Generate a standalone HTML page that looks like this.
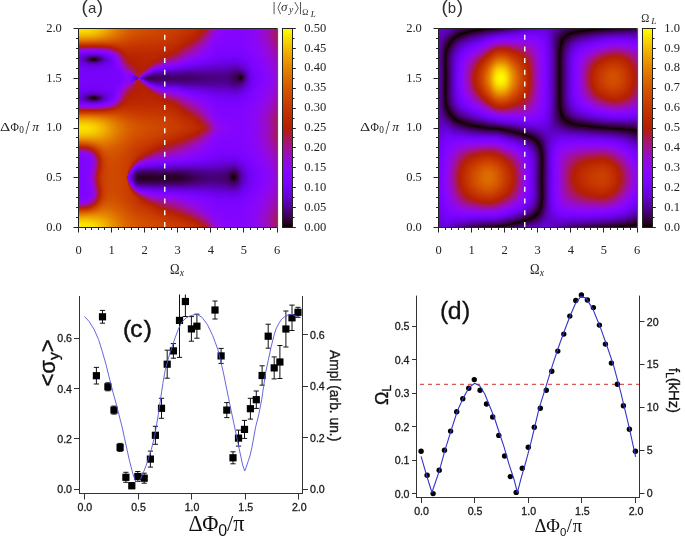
<!DOCTYPE html>
<html><head><meta charset="utf-8"><style>
html,body{margin:0;padding:0;background:#fff;}
body{width:685px;height:539px;position:relative;overflow:hidden;}
canvas{position:absolute;}
svg{position:absolute;left:0;top:0;}
</style></head><body>
<svg style="position:absolute;left:0;top:0" width="685" height="539" shape-rendering="crispEdges"><rect x="79" y="29" width="10" height="5" fill="#fcd800"/><rect x="89" y="29" width="5" height="5" fill="#f0cc00"/><rect x="94" y="29" width="5" height="5" fill="#f0c000"/><rect x="99" y="29" width="5" height="5" fill="#f0b400"/><rect x="104" y="29" width="5" height="5" fill="#f09c00"/><rect x="109" y="29" width="5" height="5" fill="#e49000"/><rect x="114" y="29" width="5" height="5" fill="#e47800"/><rect x="119" y="29" width="5" height="5" fill="#d86c00"/><rect x="124" y="29" width="5" height="5" fill="#d86000"/><rect x="129" y="29" width="10" height="5" fill="#d85400"/><rect x="139" y="29" width="5" height="5" fill="#cc5400"/><rect x="144" y="29" width="20" height="5" fill="#cc4800"/><rect x="164" y="29" width="15" height="5" fill="#cc3c00"/><rect x="179" y="29" width="5" height="5" fill="#c03c00"/><rect x="184" y="29" width="10" height="5" fill="#c03000"/><rect x="194" y="29" width="5" height="5" fill="#c02400"/><rect x="199" y="29" width="5" height="5" fill="#b4240c"/><rect x="204" y="29" width="5" height="5" fill="#a81848"/><rect x="209" y="29" width="5" height="5" fill="#9c0ca8"/><rect x="214" y="29" width="5" height="5" fill="#900ce4"/><rect x="219" y="29" width="5" height="5" fill="#900cf0"/><rect x="224" y="29" width="25" height="5" fill="#8400fc"/><rect x="249" y="29" width="5" height="5" fill="#840cfc"/><rect x="254" y="29" width="5" height="5" fill="#900cf0"/><rect x="259" y="29" width="5" height="5" fill="#900cd8"/><rect x="264" y="29" width="5" height="5" fill="#9c0cc0"/><rect x="269" y="29" width="5" height="5" fill="#9c0c9c"/><rect x="274" y="29" width="3" height="5" fill="#a8186c"/><rect x="79" y="34" width="15" height="5" fill="#f0a800"/><rect x="94" y="34" width="5" height="5" fill="#f09c00"/><rect x="99" y="34" width="5" height="5" fill="#e49000"/><rect x="104" y="34" width="5" height="5" fill="#e48400"/><rect x="109" y="34" width="5" height="5" fill="#e47800"/><rect x="114" y="34" width="5" height="5" fill="#d86c00"/><rect x="119" y="34" width="5" height="5" fill="#d86000"/><rect x="124" y="34" width="5" height="5" fill="#d85400"/><rect x="129" y="34" width="5" height="5" fill="#cc5400"/><rect x="134" y="34" width="20" height="5" fill="#cc4800"/><rect x="154" y="34" width="20" height="5" fill="#cc3c00"/><rect x="174" y="34" width="5" height="5" fill="#c03c00"/><rect x="179" y="34" width="10" height="5" fill="#c03000"/><rect x="189" y="34" width="5" height="5" fill="#c02400"/><rect x="194" y="34" width="5" height="5" fill="#b4240c"/><rect x="199" y="34" width="5" height="5" fill="#a81848"/><rect x="204" y="34" width="5" height="5" fill="#a80c90"/><rect x="209" y="34" width="5" height="5" fill="#900cd8"/><rect x="214" y="34" width="5" height="5" fill="#900cf0"/><rect x="219" y="34" width="30" height="5" fill="#8400fc"/><rect x="249" y="34" width="5" height="5" fill="#840cfc"/><rect x="254" y="34" width="5" height="5" fill="#900cf0"/><rect x="259" y="34" width="5" height="5" fill="#900cd8"/><rect x="264" y="34" width="5" height="5" fill="#9c0cc0"/><rect x="269" y="34" width="5" height="5" fill="#9c0c9c"/><rect x="274" y="34" width="3" height="5" fill="#a8186c"/><rect x="79" y="39" width="25" height="5" fill="#d86000"/><rect x="104" y="39" width="10" height="5" fill="#d85400"/><rect x="114" y="39" width="5" height="5" fill="#cc5400"/><rect x="119" y="39" width="10" height="5" fill="#cc4800"/><rect x="129" y="39" width="30" height="5" fill="#cc3c00"/><rect x="159" y="39" width="5" height="5" fill="#c03c00"/><rect x="164" y="39" width="15" height="5" fill="#c03000"/><rect x="179" y="39" width="5" height="5" fill="#c02400"/><rect x="184" y="39" width="5" height="5" fill="#b42400"/><rect x="189" y="39" width="5" height="5" fill="#b41818"/><rect x="194" y="39" width="5" height="5" fill="#a81848"/><rect x="199" y="39" width="5" height="5" fill="#a80c90"/><rect x="204" y="39" width="5" height="5" fill="#9c0cc0"/><rect x="209" y="39" width="5" height="5" fill="#900cf0"/><rect x="214" y="39" width="40" height="5" fill="#8400fc"/><rect x="254" y="39" width="5" height="5" fill="#900cf0"/><rect x="259" y="39" width="5" height="5" fill="#900ce4"/><rect x="264" y="39" width="5" height="5" fill="#9c0ccc"/><rect x="269" y="39" width="5" height="5" fill="#9c0ca8"/><rect x="274" y="39" width="3" height="5" fill="#a81884"/><rect x="79" y="44" width="25" height="5" fill="#b42430"/><rect x="104" y="44" width="5" height="5" fill="#b42418"/><rect x="109" y="44" width="5" height="5" fill="#c0240c"/><rect x="114" y="44" width="10" height="5" fill="#c03000"/><rect x="124" y="44" width="5" height="5" fill="#c03c00"/><rect x="129" y="44" width="45" height="5" fill="#c03000"/><rect x="174" y="44" width="5" height="5" fill="#c02400"/><rect x="179" y="44" width="5" height="5" fill="#b4240c"/><rect x="184" y="44" width="5" height="5" fill="#b41830"/><rect x="189" y="44" width="5" height="5" fill="#a81860"/><rect x="194" y="44" width="5" height="5" fill="#9c0c90"/><rect x="199" y="44" width="5" height="5" fill="#9c0cc0"/><rect x="204" y="44" width="5" height="5" fill="#900ce4"/><rect x="209" y="44" width="5" height="5" fill="#840cfc"/><rect x="214" y="44" width="40" height="5" fill="#8400fc"/><rect x="254" y="44" width="5" height="5" fill="#900cf0"/><rect x="259" y="44" width="5" height="5" fill="#900ce4"/><rect x="264" y="44" width="5" height="5" fill="#9c0ccc"/><rect x="269" y="44" width="5" height="5" fill="#9c0cb4"/><rect x="274" y="44" width="3" height="5" fill="#9c0c90"/><rect x="79" y="49" width="5" height="5" fill="#840cf0"/><rect x="84" y="49" width="15" height="5" fill="#8400f0"/><rect x="99" y="49" width="5" height="5" fill="#840cf0"/><rect x="104" y="49" width="5" height="5" fill="#900ce4"/><rect x="109" y="49" width="5" height="5" fill="#9c0cb4"/><rect x="114" y="49" width="5" height="5" fill="#a81860"/><rect x="119" y="49" width="5" height="5" fill="#b4240c"/><rect x="124" y="49" width="5" height="5" fill="#c02400"/><rect x="129" y="49" width="30" height="5" fill="#c03000"/><rect x="159" y="49" width="10" height="5" fill="#c02400"/><rect x="169" y="49" width="5" height="5" fill="#b42400"/><rect x="174" y="49" width="5" height="5" fill="#b4240c"/><rect x="179" y="49" width="5" height="5" fill="#a81848"/><rect x="184" y="49" width="5" height="5" fill="#a81884"/><rect x="189" y="49" width="5" height="5" fill="#9c0ca8"/><rect x="194" y="49" width="5" height="5" fill="#9c0ccc"/><rect x="199" y="49" width="5" height="5" fill="#900ce4"/><rect x="204" y="49" width="5" height="5" fill="#840cf0"/><rect x="209" y="49" width="10" height="5" fill="#8400fc"/><rect x="219" y="49" width="25" height="5" fill="#7800fc"/><rect x="244" y="49" width="10" height="5" fill="#8400fc"/><rect x="254" y="49" width="5" height="5" fill="#840cfc"/><rect x="259" y="49" width="5" height="5" fill="#900cf0"/><rect x="264" y="49" width="5" height="5" fill="#900cd8"/><rect x="269" y="49" width="5" height="5" fill="#9c0cc0"/><rect x="274" y="49" width="3" height="5" fill="#9c0ca8"/><rect x="79" y="54" width="5" height="5" fill="#6c00e4"/><rect x="84" y="54" width="5" height="5" fill="#6000c0"/><rect x="89" y="54" width="5" height="5" fill="#480084"/><rect x="94" y="54" width="5" height="5" fill="#480090"/><rect x="99" y="54" width="5" height="5" fill="#6000c0"/><rect x="104" y="54" width="5" height="5" fill="#6c00e4"/><rect x="109" y="54" width="5" height="5" fill="#7800fc"/><rect x="114" y="54" width="5" height="5" fill="#900ce4"/><rect x="119" y="54" width="5" height="5" fill="#a8186c"/><rect x="124" y="54" width="5" height="5" fill="#b4240c"/><rect x="129" y="54" width="15" height="5" fill="#b42400"/><rect x="144" y="54" width="10" height="5" fill="#c02400"/><rect x="154" y="54" width="10" height="5" fill="#b42400"/><rect x="164" y="54" width="5" height="5" fill="#b41818"/><rect x="169" y="54" width="5" height="5" fill="#a8183c"/><rect x="174" y="54" width="5" height="5" fill="#a8186c"/><rect x="179" y="54" width="5" height="5" fill="#9c0ca8"/><rect x="184" y="54" width="5" height="5" fill="#9c0ccc"/><rect x="189" y="54" width="5" height="5" fill="#900ce4"/><rect x="194" y="54" width="5" height="5" fill="#900cf0"/><rect x="199" y="54" width="10" height="5" fill="#8400fc"/><rect x="209" y="54" width="40" height="5" fill="#7800fc"/><rect x="249" y="54" width="10" height="5" fill="#8400fc"/><rect x="259" y="54" width="5" height="5" fill="#900cf0"/><rect x="264" y="54" width="5" height="5" fill="#900ce4"/><rect x="269" y="54" width="5" height="5" fill="#9c0ccc"/><rect x="274" y="54" width="3" height="5" fill="#9c0cc0"/><rect x="79" y="59" width="5" height="5" fill="#6000d8"/><rect x="84" y="59" width="5" height="5" fill="#5400a8"/><rect x="89" y="59" width="10" height="5" fill="#3c006c"/><rect x="99" y="59" width="5" height="5" fill="#5400a8"/><rect x="104" y="59" width="5" height="5" fill="#6c00d8"/><rect x="109" y="59" width="5" height="5" fill="#7800f0"/><rect x="114" y="59" width="5" height="5" fill="#8400fc"/><rect x="119" y="59" width="5" height="5" fill="#9c0cb4"/><rect x="124" y="59" width="5" height="5" fill="#a8183c"/><rect x="129" y="59" width="25" height="5" fill="#b42400"/><rect x="154" y="59" width="5" height="5" fill="#b41824"/><rect x="159" y="59" width="5" height="5" fill="#a81860"/><rect x="164" y="59" width="5" height="5" fill="#9c0c9c"/><rect x="169" y="59" width="5" height="5" fill="#9c0cb4"/><rect x="174" y="59" width="5" height="5" fill="#900ccc"/><rect x="179" y="59" width="5" height="5" fill="#900cf0"/><rect x="184" y="59" width="10" height="5" fill="#8400fc"/><rect x="194" y="59" width="15" height="5" fill="#7800fc"/><rect x="209" y="59" width="5" height="5" fill="#7800f0"/><rect x="214" y="59" width="15" height="5" fill="#6c00f0"/><rect x="229" y="59" width="10" height="5" fill="#6c00e4"/><rect x="239" y="59" width="5" height="5" fill="#6c00f0"/><rect x="244" y="59" width="10" height="5" fill="#7800fc"/><rect x="254" y="59" width="10" height="5" fill="#8400fc"/><rect x="264" y="59" width="5" height="5" fill="#900cf0"/><rect x="269" y="59" width="5" height="5" fill="#900cd8"/><rect x="274" y="59" width="3" height="5" fill="#9c0ccc"/><rect x="79" y="64" width="10" height="5" fill="#6c00f0"/><rect x="89" y="64" width="10" height="5" fill="#6c00e4"/><rect x="99" y="64" width="10" height="5" fill="#6c00f0"/><rect x="109" y="64" width="5" height="5" fill="#7800fc"/><rect x="114" y="64" width="5" height="5" fill="#8400fc"/><rect x="119" y="64" width="5" height="5" fill="#900ce4"/><rect x="124" y="64" width="5" height="5" fill="#a80c84"/><rect x="129" y="64" width="5" height="5" fill="#a8183c"/><rect x="134" y="64" width="5" height="5" fill="#b4240c"/><rect x="139" y="64" width="5" height="5" fill="#b42400"/><rect x="144" y="64" width="5" height="5" fill="#b4240c"/><rect x="149" y="64" width="5" height="5" fill="#a8186c"/><rect x="154" y="64" width="5" height="5" fill="#9c0cc0"/><rect x="159" y="64" width="5" height="5" fill="#900cf0"/><rect x="164" y="64" width="5" height="5" fill="#8400f0"/><rect x="169" y="64" width="5" height="5" fill="#8400fc"/><rect x="174" y="64" width="5" height="5" fill="#7800fc"/><rect x="179" y="64" width="5" height="5" fill="#7800f0"/><rect x="184" y="64" width="5" height="5" fill="#6c00f0"/><rect x="189" y="64" width="15" height="5" fill="#6c00e4"/><rect x="204" y="64" width="5" height="5" fill="#6c00d8"/><rect x="209" y="64" width="5" height="5" fill="#6000d8"/><rect x="214" y="64" width="15" height="5" fill="#6000cc"/><rect x="229" y="64" width="10" height="5" fill="#6000c0"/><rect x="239" y="64" width="5" height="5" fill="#6000cc"/><rect x="244" y="64" width="5" height="5" fill="#6c00e4"/><rect x="249" y="64" width="5" height="5" fill="#7800fc"/><rect x="254" y="64" width="10" height="5" fill="#8400fc"/><rect x="264" y="64" width="5" height="5" fill="#900cf0"/><rect x="269" y="64" width="5" height="5" fill="#900ce4"/><rect x="274" y="64" width="3" height="5" fill="#900cd8"/><rect x="79" y="69" width="40" height="5" fill="#7800fc"/><rect x="119" y="69" width="5" height="5" fill="#8400fc"/><rect x="124" y="69" width="5" height="5" fill="#900cd8"/><rect x="129" y="69" width="5" height="5" fill="#9c0c90"/><rect x="134" y="69" width="5" height="5" fill="#b41830"/><rect x="139" y="69" width="5" height="5" fill="#b41824"/><rect x="144" y="69" width="5" height="5" fill="#9c0ca8"/><rect x="149" y="69" width="5" height="5" fill="#7800e4"/><rect x="154" y="69" width="5" height="5" fill="#6c00d8"/><rect x="159" y="69" width="5" height="5" fill="#6000cc"/><rect x="164" y="69" width="15" height="5" fill="#6000c0"/><rect x="179" y="69" width="5" height="5" fill="#5400b4"/><rect x="184" y="69" width="40" height="5" fill="#5400a8"/><rect x="224" y="69" width="5" height="5" fill="#54009c"/><rect x="229" y="69" width="5" height="5" fill="#540090"/><rect x="234" y="69" width="5" height="5" fill="#480084"/><rect x="239" y="69" width="5" height="5" fill="#540090"/><rect x="244" y="69" width="5" height="5" fill="#6000cc"/><rect x="249" y="69" width="5" height="5" fill="#7800f0"/><rect x="254" y="69" width="5" height="5" fill="#7800fc"/><rect x="259" y="69" width="5" height="5" fill="#8400fc"/><rect x="264" y="69" width="5" height="5" fill="#840cfc"/><rect x="269" y="69" width="5" height="5" fill="#900cf0"/><rect x="274" y="69" width="3" height="5" fill="#900cd8"/><rect x="79" y="74" width="45" height="5" fill="#7800fc"/><rect x="124" y="74" width="10" height="5" fill="#8400fc"/><rect x="134" y="74" width="5" height="5" fill="#840c90"/><rect x="139" y="74" width="5" height="5" fill="#840cc0"/><rect x="144" y="74" width="5" height="5" fill="#5400a8"/><rect x="149" y="74" width="5" height="5" fill="#480078"/><rect x="154" y="74" width="20" height="5" fill="#48006c"/><rect x="174" y="74" width="5" height="5" fill="#480078"/><rect x="179" y="74" width="10" height="5" fill="#48006c"/><rect x="189" y="74" width="10" height="5" fill="#480078"/><rect x="199" y="74" width="30" height="5" fill="#480084"/><rect x="229" y="74" width="5" height="5" fill="#48006c"/><rect x="234" y="74" width="5" height="5" fill="#3c0048"/><rect x="239" y="74" width="5" height="5" fill="#300030"/><rect x="244" y="74" width="5" height="5" fill="#5400a8"/><rect x="249" y="74" width="5" height="5" fill="#6c00f0"/><rect x="254" y="74" width="5" height="5" fill="#7800fc"/><rect x="259" y="74" width="10" height="5" fill="#8400fc"/><rect x="269" y="74" width="5" height="5" fill="#900cf0"/><rect x="274" y="74" width="3" height="5" fill="#900ce4"/><rect x="79" y="79" width="40" height="5" fill="#7800fc"/><rect x="119" y="79" width="10" height="5" fill="#8400fc"/><rect x="129" y="79" width="5" height="5" fill="#840ce4"/><rect x="134" y="79" width="5" height="5" fill="#9c1854"/><rect x="139" y="79" width="5" height="5" fill="#9c0c9c"/><rect x="144" y="79" width="5" height="5" fill="#6c00cc"/><rect x="149" y="79" width="5" height="5" fill="#54009c"/><rect x="154" y="79" width="30" height="5" fill="#480084"/><rect x="184" y="79" width="5" height="5" fill="#480078"/><rect x="189" y="79" width="20" height="5" fill="#480084"/><rect x="209" y="79" width="15" height="5" fill="#480090"/><rect x="224" y="79" width="5" height="5" fill="#480084"/><rect x="229" y="79" width="5" height="5" fill="#480078"/><rect x="234" y="79" width="10" height="5" fill="#3c0060"/><rect x="244" y="79" width="5" height="5" fill="#6000b4"/><rect x="249" y="79" width="5" height="5" fill="#6c00f0"/><rect x="254" y="79" width="5" height="5" fill="#7800fc"/><rect x="259" y="79" width="10" height="5" fill="#8400fc"/><rect x="269" y="79" width="5" height="5" fill="#900cf0"/><rect x="274" y="79" width="3" height="5" fill="#900ce4"/><rect x="79" y="84" width="40" height="5" fill="#7800fc"/><rect x="119" y="84" width="5" height="5" fill="#840cf0"/><rect x="124" y="84" width="5" height="5" fill="#9c0cc0"/><rect x="129" y="84" width="5" height="5" fill="#a8186c"/><rect x="134" y="84" width="5" height="5" fill="#b41818"/><rect x="139" y="84" width="5" height="5" fill="#b4240c"/><rect x="144" y="84" width="5" height="5" fill="#a8186c"/><rect x="149" y="84" width="5" height="5" fill="#900cd8"/><rect x="154" y="84" width="5" height="5" fill="#7800f0"/><rect x="159" y="84" width="10" height="5" fill="#6c00e4"/><rect x="169" y="84" width="10" height="5" fill="#6c00d8"/><rect x="179" y="84" width="5" height="5" fill="#6000cc"/><rect x="184" y="84" width="15" height="5" fill="#6000c0"/><rect x="199" y="84" width="15" height="5" fill="#6000b4"/><rect x="214" y="84" width="10" height="5" fill="#5400b4"/><rect x="224" y="84" width="5" height="5" fill="#5400a8"/><rect x="229" y="84" width="10" height="5" fill="#54009c"/><rect x="239" y="84" width="5" height="5" fill="#5400b4"/><rect x="244" y="84" width="5" height="5" fill="#6c00d8"/><rect x="249" y="84" width="10" height="5" fill="#7800fc"/><rect x="259" y="84" width="5" height="5" fill="#8400fc"/><rect x="264" y="84" width="5" height="5" fill="#840cfc"/><rect x="269" y="84" width="5" height="5" fill="#900ce4"/><rect x="274" y="84" width="3" height="5" fill="#900cd8"/><rect x="79" y="89" width="5" height="5" fill="#6c00f0"/><rect x="84" y="89" width="20" height="5" fill="#6c00e4"/><rect x="104" y="89" width="5" height="5" fill="#6c00f0"/><rect x="109" y="89" width="5" height="5" fill="#7800fc"/><rect x="114" y="89" width="5" height="5" fill="#8400fc"/><rect x="119" y="89" width="5" height="5" fill="#900cd8"/><rect x="124" y="89" width="5" height="5" fill="#a8186c"/><rect x="129" y="89" width="5" height="5" fill="#b41824"/><rect x="134" y="89" width="15" height="5" fill="#b42400"/><rect x="149" y="89" width="5" height="5" fill="#a8183c"/><rect x="154" y="89" width="5" height="5" fill="#9c0c90"/><rect x="159" y="89" width="5" height="5" fill="#900ccc"/><rect x="164" y="89" width="5" height="5" fill="#900ce4"/><rect x="169" y="89" width="5" height="5" fill="#840cf0"/><rect x="174" y="89" width="5" height="5" fill="#8400fc"/><rect x="179" y="89" width="10" height="5" fill="#7800fc"/><rect x="189" y="89" width="5" height="5" fill="#7800f0"/><rect x="194" y="89" width="10" height="5" fill="#6c00f0"/><rect x="204" y="89" width="10" height="5" fill="#6c00e4"/><rect x="214" y="89" width="10" height="5" fill="#6c00d8"/><rect x="224" y="89" width="5" height="5" fill="#6000d8"/><rect x="229" y="89" width="10" height="5" fill="#6000cc"/><rect x="239" y="89" width="5" height="5" fill="#6c00d8"/><rect x="244" y="89" width="5" height="5" fill="#6c00f0"/><rect x="249" y="89" width="5" height="5" fill="#7800fc"/><rect x="254" y="89" width="10" height="5" fill="#8400fc"/><rect x="264" y="89" width="5" height="5" fill="#900cf0"/><rect x="269" y="89" width="5" height="5" fill="#900ce4"/><rect x="274" y="89" width="3" height="5" fill="#9c0ccc"/><rect x="79" y="94" width="5" height="5" fill="#6000d8"/><rect x="84" y="94" width="5" height="5" fill="#54009c"/><rect x="89" y="94" width="5" height="5" fill="#3c0054"/><rect x="94" y="94" width="5" height="5" fill="#3c0060"/><rect x="99" y="94" width="5" height="5" fill="#5400a8"/><rect x="104" y="94" width="5" height="5" fill="#6c00d8"/><rect x="109" y="94" width="5" height="5" fill="#7800f0"/><rect x="114" y="94" width="5" height="5" fill="#8400fc"/><rect x="119" y="94" width="5" height="5" fill="#9c0ca8"/><rect x="124" y="94" width="5" height="5" fill="#b41824"/><rect x="129" y="94" width="25" height="5" fill="#b42400"/><rect x="154" y="94" width="5" height="5" fill="#b4240c"/><rect x="159" y="94" width="5" height="5" fill="#a8183c"/><rect x="164" y="94" width="5" height="5" fill="#a8186c"/><rect x="169" y="94" width="5" height="5" fill="#9c0c90"/><rect x="174" y="94" width="5" height="5" fill="#9c0cb4"/><rect x="179" y="94" width="5" height="5" fill="#900cd8"/><rect x="184" y="94" width="5" height="5" fill="#900cf0"/><rect x="189" y="94" width="15" height="5" fill="#8400fc"/><rect x="204" y="94" width="10" height="5" fill="#7800fc"/><rect x="214" y="94" width="10" height="5" fill="#7800f0"/><rect x="224" y="94" width="15" height="5" fill="#6c00f0"/><rect x="239" y="94" width="5" height="5" fill="#7800f0"/><rect x="244" y="94" width="5" height="5" fill="#7800fc"/><rect x="249" y="94" width="10" height="5" fill="#8400fc"/><rect x="259" y="94" width="5" height="5" fill="#840cfc"/><rect x="264" y="94" width="5" height="5" fill="#900cf0"/><rect x="269" y="94" width="5" height="5" fill="#900cd8"/><rect x="274" y="94" width="3" height="5" fill="#9c0ccc"/><rect x="79" y="99" width="5" height="5" fill="#6c00e4"/><rect x="84" y="99" width="5" height="5" fill="#6000cc"/><rect x="89" y="99" width="5" height="5" fill="#54009c"/><rect x="94" y="99" width="5" height="5" fill="#5400a8"/><rect x="99" y="99" width="5" height="5" fill="#6000cc"/><rect x="104" y="99" width="5" height="5" fill="#7800f0"/><rect x="109" y="99" width="5" height="5" fill="#8400fc"/><rect x="114" y="99" width="5" height="5" fill="#900ccc"/><rect x="119" y="99" width="5" height="5" fill="#a81854"/><rect x="124" y="99" width="10" height="5" fill="#b42400"/><rect x="134" y="99" width="25" height="5" fill="#c02400"/><rect x="159" y="99" width="5" height="5" fill="#b42400"/><rect x="164" y="99" width="5" height="5" fill="#b4240c"/><rect x="169" y="99" width="5" height="5" fill="#b41824"/><rect x="174" y="99" width="5" height="5" fill="#a81848"/><rect x="179" y="99" width="5" height="5" fill="#a80c84"/><rect x="184" y="99" width="5" height="5" fill="#9c0cb4"/><rect x="189" y="99" width="5" height="5" fill="#900cd8"/><rect x="194" y="99" width="5" height="5" fill="#900ce4"/><rect x="199" y="99" width="5" height="5" fill="#840cf0"/><rect x="204" y="99" width="10" height="5" fill="#8400fc"/><rect x="214" y="99" width="30" height="5" fill="#7800fc"/><rect x="244" y="99" width="15" height="5" fill="#8400fc"/><rect x="259" y="99" width="5" height="5" fill="#900cf0"/><rect x="264" y="99" width="5" height="5" fill="#900ce4"/><rect x="269" y="99" width="5" height="5" fill="#9c0ccc"/><rect x="274" y="99" width="3" height="5" fill="#9c0cb4"/><rect x="79" y="104" width="20" height="5" fill="#900cd8"/><rect x="99" y="104" width="5" height="5" fill="#900ccc"/><rect x="104" y="104" width="5" height="5" fill="#9c0cb4"/><rect x="109" y="104" width="5" height="5" fill="#a81884"/><rect x="114" y="104" width="5" height="5" fill="#b41830"/><rect x="119" y="104" width="5" height="5" fill="#b42400"/><rect x="124" y="104" width="40" height="5" fill="#c03000"/><rect x="164" y="104" width="5" height="5" fill="#c02400"/><rect x="169" y="104" width="10" height="5" fill="#b42400"/><rect x="179" y="104" width="5" height="5" fill="#b41830"/><rect x="184" y="104" width="5" height="5" fill="#a8186c"/><rect x="189" y="104" width="5" height="5" fill="#9c0c9c"/><rect x="194" y="104" width="5" height="5" fill="#9c0cc0"/><rect x="199" y="104" width="5" height="5" fill="#900cd8"/><rect x="204" y="104" width="5" height="5" fill="#900cf0"/><rect x="209" y="104" width="15" height="5" fill="#8400fc"/><rect x="224" y="104" width="15" height="5" fill="#7800fc"/><rect x="239" y="104" width="15" height="5" fill="#8400fc"/><rect x="254" y="104" width="5" height="5" fill="#840cfc"/><rect x="259" y="104" width="5" height="5" fill="#900cf0"/><rect x="264" y="104" width="5" height="5" fill="#900cd8"/><rect x="269" y="104" width="5" height="5" fill="#9c0cc0"/><rect x="274" y="104" width="3" height="5" fill="#9c0ca8"/><rect x="79" y="109" width="25" height="5" fill="#c0300c"/><rect x="104" y="109" width="10" height="5" fill="#c03000"/><rect x="114" y="109" width="20" height="5" fill="#cc3c00"/><rect x="134" y="109" width="5" height="5" fill="#c03c00"/><rect x="139" y="109" width="35" height="5" fill="#c03000"/><rect x="174" y="109" width="5" height="5" fill="#c02400"/><rect x="179" y="109" width="5" height="5" fill="#b42400"/><rect x="184" y="109" width="5" height="5" fill="#b41818"/><rect x="189" y="109" width="5" height="5" fill="#a81848"/><rect x="194" y="109" width="5" height="5" fill="#a81884"/><rect x="199" y="109" width="5" height="5" fill="#9c0cb4"/><rect x="204" y="109" width="5" height="5" fill="#900cd8"/><rect x="209" y="109" width="5" height="5" fill="#840cf0"/><rect x="214" y="109" width="40" height="5" fill="#8400fc"/><rect x="254" y="109" width="5" height="5" fill="#900cf0"/><rect x="259" y="109" width="5" height="5" fill="#900ce4"/><rect x="264" y="109" width="5" height="5" fill="#9c0ccc"/><rect x="269" y="109" width="5" height="5" fill="#9c0cb4"/><rect x="274" y="109" width="3" height="5" fill="#a80c90"/><rect x="79" y="114" width="15" height="5" fill="#e47800"/><rect x="94" y="114" width="5" height="5" fill="#e46c00"/><rect x="99" y="114" width="5" height="5" fill="#d86c00"/><rect x="104" y="114" width="10" height="5" fill="#d86000"/><rect x="114" y="114" width="10" height="5" fill="#d85400"/><rect x="124" y="114" width="15" height="5" fill="#cc4800"/><rect x="139" y="114" width="25" height="5" fill="#cc3c00"/><rect x="164" y="114" width="5" height="5" fill="#c03c00"/><rect x="169" y="114" width="15" height="5" fill="#c03000"/><rect x="184" y="114" width="5" height="5" fill="#b42400"/><rect x="189" y="114" width="5" height="5" fill="#b4240c"/><rect x="194" y="114" width="5" height="5" fill="#b41830"/><rect x="199" y="114" width="5" height="5" fill="#a81878"/><rect x="204" y="114" width="5" height="5" fill="#9c0cb4"/><rect x="209" y="114" width="5" height="5" fill="#900ce4"/><rect x="214" y="114" width="40" height="5" fill="#8400fc"/><rect x="254" y="114" width="5" height="5" fill="#900cf0"/><rect x="259" y="114" width="5" height="5" fill="#900ce4"/><rect x="264" y="114" width="5" height="5" fill="#9c0cc0"/><rect x="269" y="114" width="5" height="5" fill="#9c0c9c"/><rect x="274" y="114" width="3" height="5" fill="#a81878"/><rect x="79" y="119" width="15" height="5" fill="#f0b400"/><rect x="94" y="119" width="5" height="5" fill="#f0a800"/><rect x="99" y="119" width="5" height="5" fill="#f09c00"/><rect x="104" y="119" width="5" height="5" fill="#e49000"/><rect x="109" y="119" width="5" height="5" fill="#e47800"/><rect x="114" y="119" width="5" height="5" fill="#d86c00"/><rect x="119" y="119" width="5" height="5" fill="#d86000"/><rect x="124" y="119" width="10" height="5" fill="#d85400"/><rect x="134" y="119" width="25" height="5" fill="#cc4800"/><rect x="159" y="119" width="15" height="5" fill="#cc3c00"/><rect x="174" y="119" width="5" height="5" fill="#c03c00"/><rect x="179" y="119" width="10" height="5" fill="#c03000"/><rect x="189" y="119" width="5" height="5" fill="#c02400"/><rect x="194" y="119" width="5" height="5" fill="#b42400"/><rect x="199" y="119" width="5" height="5" fill="#b41830"/><rect x="204" y="119" width="5" height="5" fill="#a81878"/><rect x="209" y="119" width="5" height="5" fill="#9c0ccc"/><rect x="214" y="119" width="5" height="5" fill="#900cf0"/><rect x="219" y="119" width="30" height="5" fill="#8400fc"/><rect x="249" y="119" width="5" height="5" fill="#840cfc"/><rect x="254" y="119" width="5" height="5" fill="#900cf0"/><rect x="259" y="119" width="5" height="5" fill="#900cd8"/><rect x="264" y="119" width="5" height="5" fill="#9c0cc0"/><rect x="269" y="119" width="5" height="5" fill="#9c0c9c"/><rect x="274" y="119" width="3" height="5" fill="#a8186c"/><rect x="79" y="124" width="10" height="5" fill="#fcd800"/><rect x="89" y="124" width="5" height="5" fill="#fccc00"/><rect x="94" y="124" width="5" height="5" fill="#f0c000"/><rect x="99" y="124" width="5" height="5" fill="#f0b400"/><rect x="104" y="124" width="5" height="5" fill="#f09c00"/><rect x="109" y="124" width="5" height="5" fill="#e49000"/><rect x="114" y="124" width="5" height="5" fill="#e47800"/><rect x="119" y="124" width="5" height="5" fill="#d86c00"/><rect x="124" y="124" width="5" height="5" fill="#d86000"/><rect x="129" y="124" width="10" height="5" fill="#d85400"/><rect x="139" y="124" width="5" height="5" fill="#cc5400"/><rect x="144" y="124" width="20" height="5" fill="#cc4800"/><rect x="164" y="124" width="15" height="5" fill="#cc3c00"/><rect x="179" y="124" width="5" height="5" fill="#c03c00"/><rect x="184" y="124" width="10" height="5" fill="#c03000"/><rect x="194" y="124" width="5" height="5" fill="#c02400"/><rect x="199" y="124" width="5" height="5" fill="#b42400"/><rect x="204" y="124" width="5" height="5" fill="#a81848"/><rect x="209" y="124" width="5" height="5" fill="#9c0c9c"/><rect x="214" y="124" width="5" height="5" fill="#900ce4"/><rect x="219" y="124" width="5" height="5" fill="#900cf0"/><rect x="224" y="124" width="25" height="5" fill="#8400fc"/><rect x="249" y="124" width="5" height="5" fill="#840cfc"/><rect x="254" y="124" width="5" height="5" fill="#900cf0"/><rect x="259" y="124" width="5" height="5" fill="#900ce4"/><rect x="264" y="124" width="5" height="5" fill="#9c0cc0"/><rect x="269" y="124" width="5" height="5" fill="#9c0c9c"/><rect x="274" y="124" width="3" height="5" fill="#a81878"/><rect x="79" y="129" width="10" height="5" fill="#fcd800"/><rect x="89" y="129" width="5" height="5" fill="#fccc00"/><rect x="94" y="129" width="5" height="5" fill="#f0c000"/><rect x="99" y="129" width="5" height="5" fill="#f0b400"/><rect x="104" y="129" width="5" height="5" fill="#f0a800"/><rect x="109" y="129" width="5" height="5" fill="#e49000"/><rect x="114" y="129" width="5" height="5" fill="#e47800"/><rect x="119" y="129" width="5" height="5" fill="#d86c00"/><rect x="124" y="129" width="10" height="5" fill="#d86000"/><rect x="134" y="129" width="5" height="5" fill="#d85400"/><rect x="139" y="129" width="5" height="5" fill="#cc5400"/><rect x="144" y="129" width="15" height="5" fill="#cc4800"/><rect x="159" y="129" width="15" height="5" fill="#cc3c00"/><rect x="174" y="129" width="5" height="5" fill="#c03c00"/><rect x="179" y="129" width="10" height="5" fill="#c03000"/><rect x="189" y="129" width="5" height="5" fill="#c02400"/><rect x="194" y="129" width="5" height="5" fill="#b42400"/><rect x="199" y="129" width="5" height="5" fill="#b41824"/><rect x="204" y="129" width="5" height="5" fill="#a81860"/><rect x="209" y="129" width="5" height="5" fill="#9c0cb4"/><rect x="214" y="129" width="5" height="5" fill="#900ce4"/><rect x="219" y="129" width="5" height="5" fill="#900cf0"/><rect x="224" y="129" width="25" height="5" fill="#8400fc"/><rect x="249" y="129" width="5" height="5" fill="#840cfc"/><rect x="254" y="129" width="5" height="5" fill="#900cf0"/><rect x="259" y="129" width="5" height="5" fill="#900cd8"/><rect x="264" y="129" width="5" height="5" fill="#9c0cc0"/><rect x="269" y="129" width="5" height="5" fill="#9c0c9c"/><rect x="274" y="129" width="3" height="5" fill="#a8186c"/><rect x="79" y="134" width="10" height="5" fill="#f0b400"/><rect x="89" y="134" width="10" height="5" fill="#f0a800"/><rect x="99" y="134" width="5" height="5" fill="#f09c00"/><rect x="104" y="134" width="5" height="5" fill="#e49000"/><rect x="109" y="134" width="5" height="5" fill="#e48400"/><rect x="114" y="134" width="5" height="5" fill="#e47800"/><rect x="119" y="134" width="5" height="5" fill="#d86c00"/><rect x="124" y="134" width="5" height="5" fill="#d86000"/><rect x="129" y="134" width="5" height="5" fill="#d85400"/><rect x="134" y="134" width="5" height="5" fill="#cc5400"/><rect x="139" y="134" width="15" height="5" fill="#cc4800"/><rect x="154" y="134" width="10" height="5" fill="#cc3c00"/><rect x="164" y="134" width="15" height="5" fill="#c03000"/><rect x="179" y="134" width="5" height="5" fill="#c02400"/><rect x="184" y="134" width="5" height="5" fill="#b42400"/><rect x="189" y="134" width="5" height="5" fill="#b42418"/><rect x="194" y="134" width="5" height="5" fill="#a8183c"/><rect x="199" y="134" width="5" height="5" fill="#a81878"/><rect x="204" y="134" width="5" height="5" fill="#9c0cb4"/><rect x="209" y="134" width="5" height="5" fill="#900ce4"/><rect x="214" y="134" width="5" height="5" fill="#840cfc"/><rect x="219" y="134" width="30" height="5" fill="#8400fc"/><rect x="249" y="134" width="5" height="5" fill="#840cfc"/><rect x="254" y="134" width="5" height="5" fill="#900cf0"/><rect x="259" y="134" width="5" height="5" fill="#900cd8"/><rect x="264" y="134" width="5" height="5" fill="#9c0cc0"/><rect x="269" y="134" width="5" height="5" fill="#9c0c9c"/><rect x="274" y="134" width="3" height="5" fill="#a8186c"/><rect x="79" y="139" width="5" height="5" fill="#d86c00"/><rect x="84" y="139" width="10" height="5" fill="#e47800"/><rect x="94" y="139" width="10" height="5" fill="#e48400"/><rect x="104" y="139" width="10" height="5" fill="#e47800"/><rect x="114" y="139" width="5" height="5" fill="#d86c00"/><rect x="119" y="139" width="5" height="5" fill="#d86000"/><rect x="124" y="139" width="5" height="5" fill="#d85400"/><rect x="129" y="139" width="15" height="5" fill="#cc4800"/><rect x="144" y="139" width="10" height="5" fill="#cc3c00"/><rect x="154" y="139" width="10" height="5" fill="#c03000"/><rect x="164" y="139" width="5" height="5" fill="#c02400"/><rect x="169" y="139" width="5" height="5" fill="#b42400"/><rect x="174" y="139" width="5" height="5" fill="#b4240c"/><rect x="179" y="139" width="5" height="5" fill="#b41824"/><rect x="184" y="139" width="5" height="5" fill="#a81848"/><rect x="189" y="139" width="5" height="5" fill="#a81878"/><rect x="194" y="139" width="5" height="5" fill="#9c0c9c"/><rect x="199" y="139" width="5" height="5" fill="#9c0cc0"/><rect x="204" y="139" width="5" height="5" fill="#900ce4"/><rect x="209" y="139" width="5" height="5" fill="#840cf0"/><rect x="214" y="139" width="40" height="5" fill="#8400fc"/><rect x="254" y="139" width="5" height="5" fill="#900cf0"/><rect x="259" y="139" width="5" height="5" fill="#900ce4"/><rect x="264" y="139" width="5" height="5" fill="#9c0ccc"/><rect x="269" y="139" width="5" height="5" fill="#9c0ca8"/><rect x="274" y="139" width="3" height="5" fill="#a81884"/><rect x="79" y="144" width="5" height="5" fill="#c0300c"/><rect x="84" y="144" width="5" height="5" fill="#c03000"/><rect x="89" y="144" width="5" height="5" fill="#cc3c00"/><rect x="94" y="144" width="5" height="5" fill="#d85400"/><rect x="99" y="144" width="5" height="5" fill="#d86000"/><rect x="104" y="144" width="5" height="5" fill="#d86c00"/><rect x="109" y="144" width="10" height="5" fill="#d86000"/><rect x="119" y="144" width="5" height="5" fill="#d85400"/><rect x="124" y="144" width="10" height="5" fill="#cc4800"/><rect x="134" y="144" width="10" height="5" fill="#cc3c00"/><rect x="144" y="144" width="10" height="5" fill="#c03000"/><rect x="154" y="144" width="5" height="5" fill="#c02400"/><rect x="159" y="144" width="5" height="5" fill="#b4240c"/><rect x="164" y="144" width="5" height="5" fill="#b41824"/><rect x="169" y="144" width="5" height="5" fill="#a8183c"/><rect x="174" y="144" width="5" height="5" fill="#a81860"/><rect x="179" y="144" width="5" height="5" fill="#a81884"/><rect x="184" y="144" width="5" height="5" fill="#9c0c9c"/><rect x="189" y="144" width="5" height="5" fill="#9c0cc0"/><rect x="194" y="144" width="5" height="5" fill="#900cd8"/><rect x="199" y="144" width="5" height="5" fill="#900ce4"/><rect x="204" y="144" width="5" height="5" fill="#900cf0"/><rect x="209" y="144" width="45" height="5" fill="#8400fc"/><rect x="254" y="144" width="5" height="5" fill="#900cf0"/><rect x="259" y="144" width="5" height="5" fill="#900ce4"/><rect x="264" y="144" width="5" height="5" fill="#900cd8"/><rect x="269" y="144" width="5" height="5" fill="#9c0cb4"/><rect x="274" y="144" width="3" height="5" fill="#9c0c9c"/><rect x="79" y="149" width="5" height="5" fill="#9c0cc0"/><rect x="84" y="149" width="5" height="5" fill="#9c0ca8"/><rect x="89" y="149" width="5" height="5" fill="#a81860"/><rect x="94" y="149" width="5" height="5" fill="#c03000"/><rect x="99" y="149" width="5" height="5" fill="#cc4800"/><rect x="104" y="149" width="15" height="5" fill="#d85400"/><rect x="119" y="149" width="10" height="5" fill="#cc4800"/><rect x="129" y="149" width="10" height="5" fill="#cc3c00"/><rect x="139" y="149" width="5" height="5" fill="#c03000"/><rect x="144" y="149" width="5" height="5" fill="#c02400"/><rect x="149" y="149" width="5" height="5" fill="#b42418"/><rect x="154" y="149" width="5" height="5" fill="#a8183c"/><rect x="159" y="149" width="5" height="5" fill="#a81860"/><rect x="164" y="149" width="5" height="5" fill="#a81884"/><rect x="169" y="149" width="5" height="5" fill="#9c0c9c"/><rect x="174" y="149" width="5" height="5" fill="#9c0ca8"/><rect x="179" y="149" width="5" height="5" fill="#9c0cc0"/><rect x="184" y="149" width="5" height="5" fill="#900cd8"/><rect x="189" y="149" width="5" height="5" fill="#900ce4"/><rect x="194" y="149" width="5" height="5" fill="#900cf0"/><rect x="199" y="149" width="15" height="5" fill="#8400fc"/><rect x="214" y="149" width="30" height="5" fill="#7800fc"/><rect x="244" y="149" width="10" height="5" fill="#8400fc"/><rect x="254" y="149" width="5" height="5" fill="#840cfc"/><rect x="259" y="149" width="5" height="5" fill="#900cf0"/><rect x="264" y="149" width="5" height="5" fill="#900cd8"/><rect x="269" y="149" width="5" height="5" fill="#9c0cc0"/><rect x="274" y="149" width="3" height="5" fill="#9c0ca8"/><rect x="79" y="154" width="10" height="5" fill="#8400fc"/><rect x="89" y="154" width="5" height="5" fill="#900cd8"/><rect x="94" y="154" width="5" height="5" fill="#a81854"/><rect x="99" y="154" width="5" height="5" fill="#c03000"/><rect x="104" y="154" width="5" height="5" fill="#cc4800"/><rect x="109" y="154" width="5" height="5" fill="#cc5400"/><rect x="114" y="154" width="15" height="5" fill="#cc4800"/><rect x="129" y="154" width="5" height="5" fill="#cc3c00"/><rect x="134" y="154" width="5" height="5" fill="#c03000"/><rect x="139" y="154" width="5" height="5" fill="#b4240c"/><rect x="144" y="154" width="5" height="5" fill="#a81854"/><rect x="149" y="154" width="5" height="5" fill="#9c0c90"/><rect x="154" y="154" width="5" height="5" fill="#9c0cb4"/><rect x="159" y="154" width="5" height="5" fill="#9c0ccc"/><rect x="164" y="154" width="10" height="5" fill="#900cd8"/><rect x="174" y="154" width="5" height="5" fill="#900ce4"/><rect x="179" y="154" width="5" height="5" fill="#900cf0"/><rect x="184" y="154" width="5" height="5" fill="#840cfc"/><rect x="189" y="154" width="15" height="5" fill="#8400fc"/><rect x="204" y="154" width="45" height="5" fill="#7800fc"/><rect x="249" y="154" width="10" height="5" fill="#8400fc"/><rect x="259" y="154" width="5" height="5" fill="#900cf0"/><rect x="264" y="154" width="5" height="5" fill="#900ce4"/><rect x="269" y="154" width="5" height="5" fill="#9c0ccc"/><rect x="274" y="154" width="3" height="5" fill="#9c0cc0"/><rect x="79" y="159" width="10" height="5" fill="#8400fc"/><rect x="89" y="159" width="5" height="5" fill="#900cf0"/><rect x="94" y="159" width="5" height="5" fill="#a81884"/><rect x="99" y="159" width="5" height="5" fill="#c03000"/><rect x="104" y="159" width="20" height="5" fill="#cc4800"/><rect x="124" y="159" width="5" height="5" fill="#cc3c00"/><rect x="129" y="159" width="5" height="5" fill="#c03000"/><rect x="134" y="159" width="5" height="5" fill="#b4183c"/><rect x="139" y="159" width="5" height="5" fill="#9c0cb4"/><rect x="144" y="159" width="5" height="5" fill="#900ce4"/><rect x="149" y="159" width="5" height="5" fill="#8400f0"/><rect x="154" y="159" width="20" height="5" fill="#8400fc"/><rect x="174" y="159" width="25" height="5" fill="#7800fc"/><rect x="199" y="159" width="5" height="5" fill="#7800f0"/><rect x="204" y="159" width="10" height="5" fill="#6c00f0"/><rect x="214" y="159" width="25" height="5" fill="#6c00e4"/><rect x="239" y="159" width="5" height="5" fill="#6c00f0"/><rect x="244" y="159" width="5" height="5" fill="#7800fc"/><rect x="249" y="159" width="10" height="5" fill="#8400fc"/><rect x="259" y="159" width="5" height="5" fill="#840cfc"/><rect x="264" y="159" width="5" height="5" fill="#900cf0"/><rect x="269" y="159" width="5" height="5" fill="#900cd8"/><rect x="274" y="159" width="3" height="5" fill="#9c0ccc"/><rect x="79" y="164" width="10" height="5" fill="#8400fc"/><rect x="89" y="164" width="5" height="5" fill="#900cf0"/><rect x="94" y="164" width="5" height="5" fill="#a81878"/><rect x="99" y="164" width="5" height="5" fill="#c03000"/><rect x="104" y="164" width="20" height="5" fill="#cc4800"/><rect x="124" y="164" width="5" height="5" fill="#cc3c00"/><rect x="129" y="164" width="5" height="5" fill="#b4243c"/><rect x="134" y="164" width="5" height="5" fill="#840ce4"/><rect x="139" y="164" width="5" height="5" fill="#6c00e4"/><rect x="144" y="164" width="15" height="5" fill="#6c00d8"/><rect x="159" y="164" width="15" height="5" fill="#6000d8"/><rect x="174" y="164" width="40" height="5" fill="#6000cc"/><rect x="214" y="164" width="10" height="5" fill="#6000c0"/><rect x="224" y="164" width="5" height="5" fill="#6000b4"/><rect x="229" y="164" width="5" height="5" fill="#5400a8"/><rect x="234" y="164" width="5" height="5" fill="#6000b4"/><rect x="239" y="164" width="5" height="5" fill="#6c00d8"/><rect x="244" y="164" width="5" height="5" fill="#7800f0"/><rect x="249" y="164" width="5" height="5" fill="#7800fc"/><rect x="254" y="164" width="10" height="5" fill="#8400fc"/><rect x="264" y="164" width="5" height="5" fill="#900cf0"/><rect x="269" y="164" width="5" height="5" fill="#900ce4"/><rect x="274" y="164" width="3" height="5" fill="#900cd8"/><rect x="79" y="169" width="10" height="5" fill="#8400fc"/><rect x="89" y="169" width="5" height="5" fill="#900ce4"/><rect x="94" y="169" width="5" height="5" fill="#a81854"/><rect x="99" y="169" width="5" height="5" fill="#c03000"/><rect x="104" y="169" width="20" height="5" fill="#cc4800"/><rect x="124" y="169" width="5" height="5" fill="#c03c0c"/><rect x="129" y="169" width="5" height="5" fill="#840ccc"/><rect x="134" y="169" width="5" height="5" fill="#54009c"/><rect x="139" y="169" width="10" height="5" fill="#480078"/><rect x="149" y="169" width="15" height="5" fill="#48006c"/><rect x="164" y="169" width="10" height="5" fill="#480078"/><rect x="174" y="169" width="5" height="5" fill="#48006c"/><rect x="179" y="169" width="10" height="5" fill="#480078"/><rect x="189" y="169" width="5" height="5" fill="#480084"/><rect x="194" y="169" width="5" height="5" fill="#480090"/><rect x="199" y="169" width="5" height="5" fill="#540090"/><rect x="204" y="169" width="15" height="5" fill="#54009c"/><rect x="219" y="169" width="5" height="5" fill="#540090"/><rect x="224" y="169" width="5" height="5" fill="#480084"/><rect x="229" y="169" width="5" height="5" fill="#3c0060"/><rect x="234" y="169" width="5" height="5" fill="#48006c"/><rect x="239" y="169" width="5" height="5" fill="#6000b4"/><rect x="244" y="169" width="5" height="5" fill="#6c00e4"/><rect x="249" y="169" width="10" height="5" fill="#7800fc"/><rect x="259" y="169" width="5" height="5" fill="#8400fc"/><rect x="264" y="169" width="5" height="5" fill="#840cfc"/><rect x="269" y="169" width="5" height="5" fill="#900ce4"/><rect x="274" y="169" width="3" height="5" fill="#900cd8"/><rect x="79" y="174" width="10" height="5" fill="#8400fc"/><rect x="89" y="174" width="5" height="5" fill="#900cd8"/><rect x="94" y="174" width="5" height="5" fill="#a8183c"/><rect x="99" y="174" width="5" height="5" fill="#c03000"/><rect x="104" y="174" width="20" height="5" fill="#cc4800"/><rect x="124" y="174" width="5" height="5" fill="#b43030"/><rect x="129" y="174" width="5" height="5" fill="#6c00d8"/><rect x="134" y="174" width="5" height="5" fill="#3c0054"/><rect x="139" y="174" width="15" height="5" fill="#240030"/><rect x="154" y="174" width="25" height="5" fill="#300030"/><rect x="179" y="174" width="5" height="5" fill="#30003c"/><rect x="184" y="174" width="5" height="5" fill="#300048"/><rect x="189" y="174" width="5" height="5" fill="#3c0054"/><rect x="194" y="174" width="5" height="5" fill="#3c0060"/><rect x="199" y="174" width="5" height="5" fill="#48006c"/><rect x="204" y="174" width="20" height="5" fill="#480078"/><rect x="224" y="174" width="5" height="5" fill="#3c006c"/><rect x="229" y="174" width="5" height="5" fill="#240030"/><rect x="234" y="174" width="5" height="5" fill="#30003c"/><rect x="239" y="174" width="5" height="5" fill="#5400a8"/><rect x="244" y="174" width="5" height="5" fill="#6c00d8"/><rect x="249" y="174" width="5" height="5" fill="#7800f0"/><rect x="254" y="174" width="5" height="5" fill="#7800fc"/><rect x="259" y="174" width="10" height="5" fill="#8400fc"/><rect x="269" y="174" width="5" height="5" fill="#900cf0"/><rect x="274" y="174" width="3" height="5" fill="#900cd8"/><rect x="79" y="179" width="10" height="5" fill="#8400fc"/><rect x="89" y="179" width="5" height="5" fill="#900ce4"/><rect x="94" y="179" width="5" height="5" fill="#a81848"/><rect x="99" y="179" width="5" height="5" fill="#c03000"/><rect x="104" y="179" width="20" height="5" fill="#cc4800"/><rect x="124" y="179" width="5" height="5" fill="#c03018"/><rect x="129" y="179" width="5" height="5" fill="#6c00e4"/><rect x="134" y="179" width="5" height="5" fill="#48006c"/><rect x="139" y="179" width="35" height="5" fill="#300048"/><rect x="174" y="179" width="10" height="5" fill="#3c0048"/><rect x="184" y="179" width="5" height="5" fill="#3c0054"/><rect x="189" y="179" width="5" height="5" fill="#3c0060"/><rect x="194" y="179" width="10" height="5" fill="#480078"/><rect x="204" y="179" width="20" height="5" fill="#480084"/><rect x="224" y="179" width="5" height="5" fill="#480078"/><rect x="229" y="179" width="5" height="5" fill="#3c0054"/><rect x="234" y="179" width="5" height="5" fill="#3c0060"/><rect x="239" y="179" width="5" height="5" fill="#5400b4"/><rect x="244" y="179" width="5" height="5" fill="#6c00e4"/><rect x="249" y="179" width="10" height="5" fill="#7800fc"/><rect x="259" y="179" width="5" height="5" fill="#8400fc"/><rect x="264" y="179" width="5" height="5" fill="#840cfc"/><rect x="269" y="179" width="5" height="5" fill="#900cf0"/><rect x="274" y="179" width="3" height="5" fill="#900cd8"/><rect x="79" y="184" width="10" height="5" fill="#8400fc"/><rect x="89" y="184" width="5" height="5" fill="#900cf0"/><rect x="94" y="184" width="5" height="5" fill="#a8186c"/><rect x="99" y="184" width="5" height="5" fill="#c03000"/><rect x="104" y="184" width="20" height="5" fill="#cc4800"/><rect x="124" y="184" width="5" height="5" fill="#cc3c00"/><rect x="129" y="184" width="5" height="5" fill="#9c1890"/><rect x="134" y="184" width="5" height="5" fill="#6c00d8"/><rect x="139" y="184" width="5" height="5" fill="#6000b4"/><rect x="144" y="184" width="30" height="5" fill="#5400a8"/><rect x="174" y="184" width="10" height="5" fill="#54009c"/><rect x="184" y="184" width="15" height="5" fill="#5400a8"/><rect x="199" y="184" width="15" height="5" fill="#5400b4"/><rect x="214" y="184" width="15" height="5" fill="#5400a8"/><rect x="229" y="184" width="5" height="5" fill="#540090"/><rect x="234" y="184" width="5" height="5" fill="#54009c"/><rect x="239" y="184" width="5" height="5" fill="#6000cc"/><rect x="244" y="184" width="5" height="5" fill="#6c00f0"/><rect x="249" y="184" width="5" height="5" fill="#7800fc"/><rect x="254" y="184" width="10" height="5" fill="#8400fc"/><rect x="264" y="184" width="5" height="5" fill="#900cf0"/><rect x="269" y="184" width="5" height="5" fill="#900ce4"/><rect x="274" y="184" width="3" height="5" fill="#900cd8"/><rect x="79" y="189" width="10" height="5" fill="#8400fc"/><rect x="89" y="189" width="5" height="5" fill="#900cf0"/><rect x="94" y="189" width="5" height="5" fill="#a80c84"/><rect x="99" y="189" width="5" height="5" fill="#c03000"/><rect x="104" y="189" width="20" height="5" fill="#cc4800"/><rect x="124" y="189" width="5" height="5" fill="#cc3c00"/><rect x="129" y="189" width="5" height="5" fill="#c0300c"/><rect x="134" y="189" width="5" height="5" fill="#9c0c9c"/><rect x="139" y="189" width="5" height="5" fill="#8400f0"/><rect x="144" y="189" width="10" height="5" fill="#7800fc"/><rect x="154" y="189" width="20" height="5" fill="#7800f0"/><rect x="174" y="189" width="10" height="5" fill="#6c00f0"/><rect x="184" y="189" width="25" height="5" fill="#6c00e4"/><rect x="209" y="189" width="10" height="5" fill="#6c00d8"/><rect x="219" y="189" width="10" height="5" fill="#6000d8"/><rect x="229" y="189" width="5" height="5" fill="#6000cc"/><rect x="234" y="189" width="5" height="5" fill="#6000d8"/><rect x="239" y="189" width="5" height="5" fill="#6c00e4"/><rect x="244" y="189" width="10" height="5" fill="#7800fc"/><rect x="254" y="189" width="10" height="5" fill="#8400fc"/><rect x="264" y="189" width="5" height="5" fill="#900cf0"/><rect x="269" y="189" width="5" height="5" fill="#900ce4"/><rect x="274" y="189" width="3" height="5" fill="#9c0ccc"/><rect x="79" y="194" width="10" height="5" fill="#8400fc"/><rect x="89" y="194" width="5" height="5" fill="#900cf0"/><rect x="94" y="194" width="5" height="5" fill="#a8186c"/><rect x="99" y="194" width="5" height="5" fill="#c03000"/><rect x="104" y="194" width="20" height="5" fill="#cc4800"/><rect x="124" y="194" width="10" height="5" fill="#cc3c00"/><rect x="134" y="194" width="5" height="5" fill="#c0240c"/><rect x="139" y="194" width="5" height="5" fill="#a81854"/><rect x="144" y="194" width="5" height="5" fill="#9c0ca8"/><rect x="149" y="194" width="5" height="5" fill="#900ccc"/><rect x="154" y="194" width="5" height="5" fill="#900ce4"/><rect x="159" y="194" width="15" height="5" fill="#900cf0"/><rect x="174" y="194" width="20" height="5" fill="#8400fc"/><rect x="194" y="194" width="20" height="5" fill="#7800fc"/><rect x="214" y="194" width="10" height="5" fill="#7800f0"/><rect x="224" y="194" width="15" height="5" fill="#6c00f0"/><rect x="239" y="194" width="10" height="5" fill="#7800fc"/><rect x="249" y="194" width="10" height="5" fill="#8400fc"/><rect x="259" y="194" width="5" height="5" fill="#900cf0"/><rect x="264" y="194" width="5" height="5" fill="#900ce4"/><rect x="269" y="194" width="5" height="5" fill="#900cd8"/><rect x="274" y="194" width="3" height="5" fill="#9c0cc0"/><rect x="79" y="199" width="5" height="5" fill="#900cf0"/><rect x="84" y="199" width="5" height="5" fill="#900ce4"/><rect x="89" y="199" width="5" height="5" fill="#9c0ca8"/><rect x="94" y="199" width="5" height="5" fill="#b42424"/><rect x="99" y="199" width="5" height="5" fill="#cc3c00"/><rect x="104" y="199" width="15" height="5" fill="#d85400"/><rect x="119" y="199" width="10" height="5" fill="#cc4800"/><rect x="129" y="199" width="5" height="5" fill="#cc3c00"/><rect x="134" y="199" width="10" height="5" fill="#c03000"/><rect x="144" y="199" width="5" height="5" fill="#b42418"/><rect x="149" y="199" width="5" height="5" fill="#a81848"/><rect x="154" y="199" width="5" height="5" fill="#a81878"/><rect x="159" y="199" width="5" height="5" fill="#9c0c9c"/><rect x="164" y="199" width="5" height="5" fill="#9c0ca8"/><rect x="169" y="199" width="5" height="5" fill="#9c0cc0"/><rect x="174" y="199" width="5" height="5" fill="#9c0ccc"/><rect x="179" y="199" width="5" height="5" fill="#900cd8"/><rect x="184" y="199" width="5" height="5" fill="#900ce4"/><rect x="189" y="199" width="5" height="5" fill="#900cf0"/><rect x="194" y="199" width="5" height="5" fill="#840cfc"/><rect x="199" y="199" width="10" height="5" fill="#8400fc"/><rect x="209" y="199" width="35" height="5" fill="#7800fc"/><rect x="244" y="199" width="15" height="5" fill="#8400fc"/><rect x="259" y="199" width="5" height="5" fill="#900cf0"/><rect x="264" y="199" width="5" height="5" fill="#900ce4"/><rect x="269" y="199" width="5" height="5" fill="#9c0ccc"/><rect x="274" y="199" width="3" height="5" fill="#9c0cb4"/><rect x="79" y="204" width="5" height="5" fill="#a81854"/><rect x="84" y="204" width="5" height="5" fill="#b4183c"/><rect x="89" y="204" width="5" height="5" fill="#b4240c"/><rect x="94" y="204" width="5" height="5" fill="#cc3c00"/><rect x="99" y="204" width="5" height="5" fill="#d85400"/><rect x="104" y="204" width="10" height="5" fill="#d86000"/><rect x="114" y="204" width="10" height="5" fill="#d85400"/><rect x="124" y="204" width="10" height="5" fill="#cc4800"/><rect x="134" y="204" width="5" height="5" fill="#cc3c00"/><rect x="139" y="204" width="5" height="5" fill="#c03c00"/><rect x="144" y="204" width="5" height="5" fill="#c03000"/><rect x="149" y="204" width="5" height="5" fill="#c02400"/><rect x="154" y="204" width="5" height="5" fill="#b4240c"/><rect x="159" y="204" width="5" height="5" fill="#b41830"/><rect x="164" y="204" width="5" height="5" fill="#a81848"/><rect x="169" y="204" width="5" height="5" fill="#a8186c"/><rect x="174" y="204" width="5" height="5" fill="#a80c84"/><rect x="179" y="204" width="5" height="5" fill="#9c0ca8"/><rect x="184" y="204" width="5" height="5" fill="#9c0cc0"/><rect x="189" y="204" width="5" height="5" fill="#900ccc"/><rect x="194" y="204" width="5" height="5" fill="#900ce4"/><rect x="199" y="204" width="5" height="5" fill="#900cf0"/><rect x="204" y="204" width="50" height="5" fill="#8400fc"/><rect x="254" y="204" width="5" height="5" fill="#900cf0"/><rect x="259" y="204" width="5" height="5" fill="#900ce4"/><rect x="264" y="204" width="5" height="5" fill="#900cd8"/><rect x="269" y="204" width="5" height="5" fill="#9c0cc0"/><rect x="274" y="204" width="3" height="5" fill="#9c0c9c"/><rect x="79" y="209" width="5" height="5" fill="#cc5400"/><rect x="84" y="209" width="5" height="5" fill="#d85400"/><rect x="89" y="209" width="5" height="5" fill="#d86000"/><rect x="94" y="209" width="5" height="5" fill="#d86c00"/><rect x="99" y="209" width="10" height="5" fill="#e47800"/><rect x="109" y="209" width="5" height="5" fill="#d86c00"/><rect x="114" y="209" width="10" height="5" fill="#d86000"/><rect x="124" y="209" width="5" height="5" fill="#d85400"/><rect x="129" y="209" width="10" height="5" fill="#cc4800"/><rect x="139" y="209" width="10" height="5" fill="#cc3c00"/><rect x="149" y="209" width="10" height="5" fill="#c03000"/><rect x="159" y="209" width="5" height="5" fill="#c02400"/><rect x="164" y="209" width="5" height="5" fill="#b42400"/><rect x="169" y="209" width="5" height="5" fill="#b4240c"/><rect x="174" y="209" width="5" height="5" fill="#b41830"/><rect x="179" y="209" width="5" height="5" fill="#a81854"/><rect x="184" y="209" width="5" height="5" fill="#a81878"/><rect x="189" y="209" width="5" height="5" fill="#9c0c9c"/><rect x="194" y="209" width="5" height="5" fill="#9c0cb4"/><rect x="199" y="209" width="5" height="5" fill="#900cd8"/><rect x="204" y="209" width="5" height="5" fill="#900cf0"/><rect x="209" y="209" width="45" height="5" fill="#8400fc"/><rect x="254" y="209" width="5" height="5" fill="#900cf0"/><rect x="259" y="209" width="5" height="5" fill="#900ce4"/><rect x="264" y="209" width="5" height="5" fill="#9c0ccc"/><rect x="269" y="209" width="5" height="5" fill="#9c0ca8"/><rect x="274" y="209" width="3" height="5" fill="#a80c90"/><rect x="79" y="214" width="5" height="5" fill="#e49c00"/><rect x="84" y="214" width="15" height="5" fill="#f09c00"/><rect x="99" y="214" width="10" height="5" fill="#e49000"/><rect x="109" y="214" width="5" height="5" fill="#e48400"/><rect x="114" y="214" width="5" height="5" fill="#e47800"/><rect x="119" y="214" width="5" height="5" fill="#d86c00"/><rect x="124" y="214" width="5" height="5" fill="#d86000"/><rect x="129" y="214" width="5" height="5" fill="#d85400"/><rect x="134" y="214" width="15" height="5" fill="#cc4800"/><rect x="149" y="214" width="10" height="5" fill="#cc3c00"/><rect x="159" y="214" width="5" height="5" fill="#c03c00"/><rect x="164" y="214" width="10" height="5" fill="#c03000"/><rect x="174" y="214" width="5" height="5" fill="#c02400"/><rect x="179" y="214" width="5" height="5" fill="#b42400"/><rect x="184" y="214" width="5" height="5" fill="#b41818"/><rect x="189" y="214" width="5" height="5" fill="#a8183c"/><rect x="194" y="214" width="5" height="5" fill="#a8186c"/><rect x="199" y="214" width="5" height="5" fill="#9c0c9c"/><rect x="204" y="214" width="5" height="5" fill="#9c0ccc"/><rect x="209" y="214" width="5" height="5" fill="#900cf0"/><rect x="214" y="214" width="35" height="5" fill="#8400fc"/><rect x="249" y="214" width="5" height="5" fill="#840cfc"/><rect x="254" y="214" width="5" height="5" fill="#900cf0"/><rect x="259" y="214" width="5" height="5" fill="#900cd8"/><rect x="264" y="214" width="5" height="5" fill="#9c0cc0"/><rect x="269" y="214" width="5" height="5" fill="#9c0c9c"/><rect x="274" y="214" width="3" height="5" fill="#a81878"/><rect x="79" y="219" width="10" height="5" fill="#fccc00"/><rect x="89" y="219" width="5" height="5" fill="#f0cc00"/><rect x="94" y="219" width="5" height="5" fill="#f0c000"/><rect x="99" y="219" width="5" height="5" fill="#f0b400"/><rect x="104" y="219" width="5" height="5" fill="#f0a800"/><rect x="109" y="219" width="5" height="5" fill="#e49000"/><rect x="114" y="219" width="5" height="5" fill="#e48400"/><rect x="119" y="219" width="5" height="5" fill="#e46c00"/><rect x="124" y="219" width="10" height="5" fill="#d86000"/><rect x="134" y="219" width="5" height="5" fill="#d85400"/><rect x="139" y="219" width="5" height="5" fill="#cc5400"/><rect x="144" y="219" width="15" height="5" fill="#cc4800"/><rect x="159" y="219" width="15" height="5" fill="#cc3c00"/><rect x="174" y="219" width="15" height="5" fill="#c03000"/><rect x="189" y="219" width="5" height="5" fill="#b42400"/><rect x="194" y="219" width="5" height="5" fill="#b4240c"/><rect x="199" y="219" width="5" height="5" fill="#a81848"/><rect x="204" y="219" width="5" height="5" fill="#a80c84"/><rect x="209" y="219" width="5" height="5" fill="#9c0ccc"/><rect x="214" y="219" width="5" height="5" fill="#900cf0"/><rect x="219" y="219" width="5" height="5" fill="#840cfc"/><rect x="224" y="219" width="25" height="5" fill="#8400fc"/><rect x="249" y="219" width="5" height="5" fill="#840cfc"/><rect x="254" y="219" width="5" height="5" fill="#900cf0"/><rect x="259" y="219" width="5" height="5" fill="#900cd8"/><rect x="264" y="219" width="5" height="5" fill="#9c0cc0"/><rect x="269" y="219" width="5" height="5" fill="#9c0c90"/><rect x="274" y="219" width="3" height="5" fill="#a8186c"/><rect x="79" y="224" width="5" height="4" fill="#fcf000"/><rect x="84" y="224" width="10" height="4" fill="#fce400"/><rect x="94" y="224" width="5" height="4" fill="#fcd800"/><rect x="99" y="224" width="5" height="4" fill="#f0c000"/><rect x="104" y="224" width="5" height="4" fill="#f0a800"/><rect x="109" y="224" width="5" height="4" fill="#f09c00"/><rect x="114" y="224" width="5" height="4" fill="#e48400"/><rect x="119" y="224" width="5" height="4" fill="#e47800"/><rect x="124" y="224" width="5" height="4" fill="#d86c00"/><rect x="129" y="224" width="5" height="4" fill="#d86000"/><rect x="134" y="224" width="10" height="4" fill="#d85400"/><rect x="144" y="224" width="5" height="4" fill="#cc5400"/><rect x="149" y="224" width="20" height="4" fill="#cc4800"/><rect x="169" y="224" width="10" height="4" fill="#cc3c00"/><rect x="179" y="224" width="5" height="4" fill="#c03c00"/><rect x="184" y="224" width="10" height="4" fill="#c03000"/><rect x="194" y="224" width="5" height="4" fill="#c02400"/><rect x="199" y="224" width="5" height="4" fill="#b4240c"/><rect x="204" y="224" width="5" height="4" fill="#a8183c"/><rect x="209" y="224" width="5" height="4" fill="#9c0c9c"/><rect x="214" y="224" width="5" height="4" fill="#900cd8"/><rect x="219" y="224" width="5" height="4" fill="#900cf0"/><rect x="224" y="224" width="5" height="4" fill="#840cfc"/><rect x="229" y="224" width="20" height="4" fill="#8400fc"/><rect x="249" y="224" width="5" height="4" fill="#840cfc"/><rect x="254" y="224" width="5" height="4" fill="#900cf0"/><rect x="259" y="224" width="5" height="4" fill="#900cd8"/><rect x="264" y="224" width="5" height="4" fill="#9c0cc0"/><rect x="269" y="224" width="5" height="4" fill="#9c0c9c"/><rect x="274" y="224" width="3" height="4" fill="#a8186c"/><rect x="439" y="29" width="5" height="5" fill="#6000c0"/><rect x="444" y="29" width="5" height="5" fill="#6000b4"/><rect x="449" y="29" width="5" height="5" fill="#480090"/><rect x="454" y="29" width="5" height="5" fill="#3c0060"/><rect x="459" y="29" width="5" height="5" fill="#30003c"/><rect x="464" y="29" width="15" height="5" fill="#240024"/><rect x="479" y="29" width="5" height="5" fill="#30003c"/><rect x="484" y="29" width="5" height="5" fill="#3c0054"/><rect x="489" y="29" width="5" height="5" fill="#3c0060"/><rect x="494" y="29" width="5" height="5" fill="#48006c"/><rect x="499" y="29" width="5" height="5" fill="#480084"/><rect x="504" y="29" width="5" height="5" fill="#54009c"/><rect x="509" y="29" width="5" height="5" fill="#5400a8"/><rect x="514" y="29" width="5" height="5" fill="#6000c0"/><rect x="519" y="29" width="5" height="5" fill="#6000cc"/><rect x="524" y="29" width="5" height="5" fill="#6c00d8"/><rect x="529" y="29" width="15" height="5" fill="#6c00e4"/><rect x="544" y="29" width="5" height="5" fill="#6c00d8"/><rect x="549" y="29" width="5" height="5" fill="#6000c0"/><rect x="554" y="29" width="5" height="5" fill="#540090"/><rect x="559" y="29" width="5" height="5" fill="#48006c"/><rect x="564" y="29" width="5" height="5" fill="#300048"/><rect x="569" y="29" width="5" height="5" fill="#240024"/><rect x="574" y="29" width="10" height="5" fill="#240018"/><rect x="584" y="29" width="5" height="5" fill="#240024"/><rect x="589" y="29" width="5" height="5" fill="#240030"/><rect x="594" y="29" width="5" height="5" fill="#30003c"/><rect x="599" y="29" width="5" height="5" fill="#300048"/><rect x="604" y="29" width="5" height="5" fill="#3c0048"/><rect x="609" y="29" width="5" height="5" fill="#3c0054"/><rect x="614" y="29" width="10" height="5" fill="#3c0060"/><rect x="624" y="29" width="10" height="5" fill="#48006c"/><rect x="634" y="29" width="3" height="5" fill="#480078"/><rect x="439" y="34" width="5" height="5" fill="#5400b4"/><rect x="444" y="34" width="5" height="5" fill="#480084"/><rect x="449" y="34" width="5" height="5" fill="#300048"/><rect x="454" y="34" width="5" height="5" fill="#240018"/><rect x="459" y="34" width="5" height="5" fill="#240030"/><rect x="464" y="34" width="5" height="5" fill="#3c0054"/><rect x="469" y="34" width="5" height="5" fill="#480078"/><rect x="474" y="34" width="5" height="5" fill="#540090"/><rect x="479" y="34" width="5" height="5" fill="#5400a8"/><rect x="484" y="34" width="5" height="5" fill="#6000c0"/><rect x="489" y="34" width="5" height="5" fill="#6c00d8"/><rect x="494" y="34" width="5" height="5" fill="#6c00e4"/><rect x="499" y="34" width="5" height="5" fill="#6c00f0"/><rect x="504" y="34" width="10" height="5" fill="#7800f0"/><rect x="514" y="34" width="30" height="5" fill="#7800fc"/><rect x="544" y="34" width="5" height="5" fill="#6c00e4"/><rect x="549" y="34" width="5" height="5" fill="#6000b4"/><rect x="554" y="34" width="5" height="5" fill="#480078"/><rect x="559" y="34" width="5" height="5" fill="#300030"/><rect x="564" y="34" width="5" height="5" fill="#180018"/><rect x="569" y="34" width="5" height="5" fill="#30003c"/><rect x="574" y="34" width="5" height="5" fill="#3c0060"/><rect x="579" y="34" width="5" height="5" fill="#480078"/><rect x="584" y="34" width="5" height="5" fill="#480084"/><rect x="589" y="34" width="5" height="5" fill="#54009c"/><rect x="594" y="34" width="5" height="5" fill="#5400a8"/><rect x="599" y="34" width="5" height="5" fill="#6000b4"/><rect x="604" y="34" width="5" height="5" fill="#6000c0"/><rect x="609" y="34" width="28" height="5" fill="#6000cc"/><rect x="439" y="39" width="5" height="5" fill="#54009c"/><rect x="444" y="39" width="5" height="5" fill="#3c0054"/><rect x="449" y="39" width="5" height="5" fill="#240018"/><rect x="454" y="39" width="5" height="5" fill="#3c0054"/><rect x="459" y="39" width="5" height="5" fill="#480084"/><rect x="464" y="39" width="5" height="5" fill="#5400b4"/><rect x="469" y="39" width="5" height="5" fill="#6000cc"/><rect x="474" y="39" width="5" height="5" fill="#6c00e4"/><rect x="479" y="39" width="5" height="5" fill="#6c00f0"/><rect x="484" y="39" width="5" height="5" fill="#7800fc"/><rect x="489" y="39" width="5" height="5" fill="#8400fc"/><rect x="494" y="39" width="5" height="5" fill="#900cf0"/><rect x="499" y="39" width="20" height="5" fill="#900ce4"/><rect x="519" y="39" width="15" height="5" fill="#900cf0"/><rect x="534" y="39" width="5" height="5" fill="#8400fc"/><rect x="539" y="39" width="5" height="5" fill="#7800fc"/><rect x="544" y="39" width="5" height="5" fill="#6c00f0"/><rect x="549" y="39" width="5" height="5" fill="#6000c0"/><rect x="554" y="39" width="5" height="5" fill="#3c0060"/><rect x="559" y="39" width="5" height="5" fill="#180018"/><rect x="564" y="39" width="5" height="5" fill="#3c0048"/><rect x="569" y="39" width="5" height="5" fill="#480084"/><rect x="574" y="39" width="5" height="5" fill="#5400a8"/><rect x="579" y="39" width="5" height="5" fill="#6000c0"/><rect x="584" y="39" width="5" height="5" fill="#6000d8"/><rect x="589" y="39" width="5" height="5" fill="#6c00e4"/><rect x="594" y="39" width="5" height="5" fill="#6c00f0"/><rect x="599" y="39" width="5" height="5" fill="#7800f0"/><rect x="604" y="39" width="33" height="5" fill="#7800fc"/><rect x="439" y="44" width="5" height="5" fill="#480090"/><rect x="444" y="44" width="5" height="5" fill="#240024"/><rect x="449" y="44" width="5" height="5" fill="#300048"/><rect x="454" y="44" width="5" height="5" fill="#54009c"/><rect x="459" y="44" width="5" height="5" fill="#6000cc"/><rect x="464" y="44" width="5" height="5" fill="#6c00e4"/><rect x="469" y="44" width="5" height="5" fill="#7800f0"/><rect x="474" y="44" width="5" height="5" fill="#7800fc"/><rect x="479" y="44" width="5" height="5" fill="#8400fc"/><rect x="484" y="44" width="5" height="5" fill="#900ce4"/><rect x="489" y="44" width="5" height="5" fill="#9c0cb4"/><rect x="494" y="44" width="5" height="5" fill="#a81878"/><rect x="499" y="44" width="10" height="5" fill="#a81860"/><rect x="509" y="44" width="5" height="5" fill="#a81884"/><rect x="514" y="44" width="5" height="5" fill="#9c0c9c"/><rect x="519" y="44" width="5" height="5" fill="#9c0ca8"/><rect x="524" y="44" width="5" height="5" fill="#9c0cc0"/><rect x="529" y="44" width="5" height="5" fill="#900cd8"/><rect x="534" y="44" width="5" height="5" fill="#900cf0"/><rect x="539" y="44" width="5" height="5" fill="#8400fc"/><rect x="544" y="44" width="5" height="5" fill="#7800f0"/><rect x="549" y="44" width="5" height="5" fill="#6000c0"/><rect x="554" y="44" width="5" height="5" fill="#3c0060"/><rect x="559" y="44" width="5" height="5" fill="#240024"/><rect x="564" y="44" width="5" height="5" fill="#480078"/><rect x="569" y="44" width="5" height="5" fill="#6000b4"/><rect x="574" y="44" width="5" height="5" fill="#6c00e4"/><rect x="579" y="44" width="5" height="5" fill="#7800f0"/><rect x="584" y="44" width="5" height="5" fill="#7800fc"/><rect x="589" y="44" width="10" height="5" fill="#8400fc"/><rect x="599" y="44" width="5" height="5" fill="#900cf0"/><rect x="604" y="44" width="10" height="5" fill="#900ce4"/><rect x="614" y="44" width="5" height="5" fill="#900cd8"/><rect x="619" y="44" width="10" height="5" fill="#900ce4"/><rect x="629" y="44" width="5" height="5" fill="#900cf0"/><rect x="634" y="44" width="3" height="5" fill="#8400fc"/><rect x="439" y="49" width="5" height="5" fill="#480084"/><rect x="444" y="49" width="5" height="5" fill="#240024"/><rect x="449" y="49" width="5" height="5" fill="#480078"/><rect x="454" y="49" width="5" height="5" fill="#6000c0"/><rect x="459" y="49" width="5" height="5" fill="#6c00f0"/><rect x="464" y="49" width="5" height="5" fill="#7800fc"/><rect x="469" y="49" width="5" height="5" fill="#8400fc"/><rect x="474" y="49" width="5" height="5" fill="#900ce4"/><rect x="479" y="49" width="5" height="5" fill="#9c0cc0"/><rect x="484" y="49" width="5" height="5" fill="#a81878"/><rect x="489" y="49" width="5" height="5" fill="#b41824"/><rect x="494" y="49" width="5" height="5" fill="#c02400"/><rect x="499" y="49" width="10" height="5" fill="#c03000"/><rect x="509" y="49" width="5" height="5" fill="#b4240c"/><rect x="514" y="49" width="5" height="5" fill="#b41824"/><rect x="519" y="49" width="5" height="5" fill="#a81848"/><rect x="524" y="49" width="5" height="5" fill="#a81878"/><rect x="529" y="49" width="5" height="5" fill="#9c0cb4"/><rect x="534" y="49" width="5" height="5" fill="#900ce4"/><rect x="539" y="49" width="5" height="5" fill="#8400fc"/><rect x="544" y="49" width="5" height="5" fill="#7800fc"/><rect x="549" y="49" width="5" height="5" fill="#6000c0"/><rect x="554" y="49" width="5" height="5" fill="#3c0054"/><rect x="559" y="49" width="5" height="5" fill="#240030"/><rect x="564" y="49" width="5" height="5" fill="#540090"/><rect x="569" y="49" width="5" height="5" fill="#6000d8"/><rect x="574" y="49" width="5" height="5" fill="#7800f0"/><rect x="579" y="49" width="10" height="5" fill="#8400fc"/><rect x="589" y="49" width="5" height="5" fill="#900ce4"/><rect x="594" y="49" width="5" height="5" fill="#9c0ccc"/><rect x="599" y="49" width="5" height="5" fill="#9c0cb4"/><rect x="604" y="49" width="5" height="5" fill="#9c0c9c"/><rect x="609" y="49" width="5" height="5" fill="#a81884"/><rect x="614" y="49" width="5" height="5" fill="#a81878"/><rect x="619" y="49" width="5" height="5" fill="#a80c84"/><rect x="624" y="49" width="5" height="5" fill="#9c0c9c"/><rect x="629" y="49" width="5" height="5" fill="#9c0cc0"/><rect x="634" y="49" width="3" height="5" fill="#900cd8"/><rect x="439" y="54" width="5" height="5" fill="#480078"/><rect x="444" y="54" width="5" height="5" fill="#240024"/><rect x="449" y="54" width="5" height="5" fill="#540090"/><rect x="454" y="54" width="5" height="5" fill="#6c00d8"/><rect x="459" y="54" width="5" height="5" fill="#7800fc"/><rect x="464" y="54" width="5" height="5" fill="#8400fc"/><rect x="469" y="54" width="5" height="5" fill="#900ce4"/><rect x="474" y="54" width="5" height="5" fill="#9c0cb4"/><rect x="479" y="54" width="5" height="5" fill="#a81860"/><rect x="484" y="54" width="5" height="5" fill="#b4240c"/><rect x="489" y="54" width="5" height="5" fill="#c03c00"/><rect x="494" y="54" width="5" height="5" fill="#cc4800"/><rect x="499" y="54" width="5" height="5" fill="#d85400"/><rect x="504" y="54" width="5" height="5" fill="#cc4800"/><rect x="509" y="54" width="5" height="5" fill="#cc3c00"/><rect x="514" y="54" width="5" height="5" fill="#c03000"/><rect x="519" y="54" width="5" height="5" fill="#b42400"/><rect x="524" y="54" width="5" height="5" fill="#a8183c"/><rect x="529" y="54" width="5" height="5" fill="#a80c84"/><rect x="534" y="54" width="5" height="5" fill="#900ccc"/><rect x="539" y="54" width="5" height="5" fill="#840cfc"/><rect x="544" y="54" width="5" height="5" fill="#7800fc"/><rect x="549" y="54" width="5" height="5" fill="#6000c0"/><rect x="554" y="54" width="5" height="5" fill="#3c0054"/><rect x="559" y="54" width="5" height="5" fill="#240030"/><rect x="564" y="54" width="5" height="5" fill="#54009c"/><rect x="569" y="54" width="5" height="5" fill="#6c00e4"/><rect x="574" y="54" width="5" height="5" fill="#7800fc"/><rect x="579" y="54" width="5" height="5" fill="#840cfc"/><rect x="584" y="54" width="5" height="5" fill="#900cd8"/><rect x="589" y="54" width="5" height="5" fill="#9c0cb4"/><rect x="594" y="54" width="5" height="5" fill="#a81878"/><rect x="599" y="54" width="5" height="5" fill="#a81854"/><rect x="604" y="54" width="5" height="5" fill="#b41824"/><rect x="609" y="54" width="10" height="5" fill="#b42418"/><rect x="619" y="54" width="5" height="5" fill="#b41818"/><rect x="624" y="54" width="5" height="5" fill="#a8183c"/><rect x="629" y="54" width="5" height="5" fill="#a81878"/><rect x="634" y="54" width="3" height="5" fill="#9c0ca8"/><rect x="439" y="59" width="5" height="5" fill="#480078"/><rect x="444" y="59" width="5" height="5" fill="#240030"/><rect x="449" y="59" width="5" height="5" fill="#54009c"/><rect x="454" y="59" width="5" height="5" fill="#6c00e4"/><rect x="459" y="59" width="5" height="5" fill="#8400fc"/><rect x="464" y="59" width="5" height="5" fill="#900cf0"/><rect x="469" y="59" width="5" height="5" fill="#9c0cb4"/><rect x="474" y="59" width="5" height="5" fill="#a81860"/><rect x="479" y="59" width="5" height="5" fill="#b4240c"/><rect x="484" y="59" width="5" height="5" fill="#c03c00"/><rect x="489" y="59" width="5" height="5" fill="#d85400"/><rect x="494" y="59" width="5" height="5" fill="#e47800"/><rect x="499" y="59" width="5" height="5" fill="#e48400"/><rect x="504" y="59" width="5" height="5" fill="#e47800"/><rect x="509" y="59" width="5" height="5" fill="#d85400"/><rect x="514" y="59" width="5" height="5" fill="#cc3c00"/><rect x="519" y="59" width="5" height="5" fill="#c03000"/><rect x="524" y="59" width="5" height="5" fill="#b4240c"/><rect x="529" y="59" width="5" height="5" fill="#a8186c"/><rect x="534" y="59" width="5" height="5" fill="#9c0cc0"/><rect x="539" y="59" width="5" height="5" fill="#840cf0"/><rect x="544" y="59" width="5" height="5" fill="#7800fc"/><rect x="549" y="59" width="5" height="5" fill="#6000c0"/><rect x="554" y="59" width="5" height="5" fill="#3c0054"/><rect x="559" y="59" width="5" height="5" fill="#300030"/><rect x="564" y="59" width="5" height="5" fill="#5400a8"/><rect x="569" y="59" width="5" height="5" fill="#6c00e4"/><rect x="574" y="59" width="5" height="5" fill="#8400fc"/><rect x="579" y="59" width="5" height="5" fill="#900ce4"/><rect x="584" y="59" width="5" height="5" fill="#9c0cb4"/><rect x="589" y="59" width="5" height="5" fill="#a8186c"/><rect x="594" y="59" width="5" height="5" fill="#b41824"/><rect x="599" y="59" width="5" height="5" fill="#b42400"/><rect x="604" y="59" width="5" height="5" fill="#c02400"/><rect x="609" y="59" width="10" height="5" fill="#c03000"/><rect x="619" y="59" width="5" height="5" fill="#c02400"/><rect x="624" y="59" width="5" height="5" fill="#b42400"/><rect x="629" y="59" width="5" height="5" fill="#b41830"/><rect x="634" y="59" width="3" height="5" fill="#a8186c"/><rect x="439" y="64" width="5" height="5" fill="#480078"/><rect x="444" y="64" width="5" height="5" fill="#240030"/><rect x="449" y="64" width="5" height="5" fill="#54009c"/><rect x="454" y="64" width="5" height="5" fill="#6c00e4"/><rect x="459" y="64" width="5" height="5" fill="#8400fc"/><rect x="464" y="64" width="5" height="5" fill="#900cd8"/><rect x="469" y="64" width="5" height="5" fill="#a80c90"/><rect x="474" y="64" width="5" height="5" fill="#b41824"/><rect x="479" y="64" width="5" height="5" fill="#c03000"/><rect x="484" y="64" width="5" height="5" fill="#cc4800"/><rect x="489" y="64" width="5" height="5" fill="#e47800"/><rect x="494" y="64" width="5" height="5" fill="#f0a800"/><rect x="499" y="64" width="5" height="5" fill="#f0b400"/><rect x="504" y="64" width="5" height="5" fill="#f09c00"/><rect x="509" y="64" width="5" height="5" fill="#e47800"/><rect x="514" y="64" width="5" height="5" fill="#d85400"/><rect x="519" y="64" width="5" height="5" fill="#cc3c00"/><rect x="524" y="64" width="5" height="5" fill="#b42400"/><rect x="529" y="64" width="5" height="5" fill="#a81854"/><rect x="534" y="64" width="5" height="5" fill="#9c0cc0"/><rect x="539" y="64" width="5" height="5" fill="#900cf0"/><rect x="544" y="64" width="5" height="5" fill="#7800fc"/><rect x="549" y="64" width="5" height="5" fill="#6000c0"/><rect x="554" y="64" width="5" height="5" fill="#3c0054"/><rect x="559" y="64" width="5" height="5" fill="#300030"/><rect x="564" y="64" width="5" height="5" fill="#5400a8"/><rect x="569" y="64" width="5" height="5" fill="#6c00f0"/><rect x="574" y="64" width="5" height="5" fill="#8400fc"/><rect x="579" y="64" width="5" height="5" fill="#900cd8"/><rect x="584" y="64" width="5" height="5" fill="#9c0c9c"/><rect x="589" y="64" width="5" height="5" fill="#a8183c"/><rect x="594" y="64" width="5" height="5" fill="#b42400"/><rect x="599" y="64" width="5" height="5" fill="#c03000"/><rect x="604" y="64" width="5" height="5" fill="#c03c00"/><rect x="609" y="64" width="10" height="5" fill="#cc3c00"/><rect x="619" y="64" width="10" height="5" fill="#c03000"/><rect x="629" y="64" width="5" height="5" fill="#b4240c"/><rect x="634" y="64" width="3" height="5" fill="#a81848"/><rect x="439" y="69" width="5" height="5" fill="#480078"/><rect x="444" y="69" width="5" height="5" fill="#240030"/><rect x="449" y="69" width="5" height="5" fill="#54009c"/><rect x="454" y="69" width="5" height="5" fill="#6c00f0"/><rect x="459" y="69" width="5" height="5" fill="#8400fc"/><rect x="464" y="69" width="5" height="5" fill="#9c0ccc"/><rect x="469" y="69" width="5" height="5" fill="#a8186c"/><rect x="474" y="69" width="5" height="5" fill="#b4240c"/><rect x="479" y="69" width="5" height="5" fill="#cc3c00"/><rect x="484" y="69" width="5" height="5" fill="#d86000"/><rect x="489" y="69" width="5" height="5" fill="#e49c00"/><rect x="494" y="69" width="5" height="5" fill="#fccc00"/><rect x="499" y="69" width="5" height="5" fill="#fce400"/><rect x="504" y="69" width="5" height="5" fill="#f0c000"/><rect x="509" y="69" width="5" height="5" fill="#e49000"/><rect x="514" y="69" width="5" height="5" fill="#d86000"/><rect x="519" y="69" width="5" height="5" fill="#cc4800"/><rect x="524" y="69" width="5" height="5" fill="#c03000"/><rect x="529" y="69" width="5" height="5" fill="#a8183c"/><rect x="534" y="69" width="5" height="5" fill="#9c0cb4"/><rect x="539" y="69" width="5" height="5" fill="#900cf0"/><rect x="544" y="69" width="5" height="5" fill="#7800fc"/><rect x="549" y="69" width="5" height="5" fill="#6000c0"/><rect x="554" y="69" width="5" height="5" fill="#3c0054"/><rect x="559" y="69" width="5" height="5" fill="#300030"/><rect x="564" y="69" width="5" height="5" fill="#5400a8"/><rect x="569" y="69" width="5" height="5" fill="#6c00f0"/><rect x="574" y="69" width="5" height="5" fill="#8400fc"/><rect x="579" y="69" width="5" height="5" fill="#900cd8"/><rect x="584" y="69" width="5" height="5" fill="#a81884"/><rect x="589" y="69" width="5" height="5" fill="#b41818"/><rect x="594" y="69" width="5" height="5" fill="#c03000"/><rect x="599" y="69" width="5" height="5" fill="#c03c00"/><rect x="604" y="69" width="5" height="5" fill="#cc3c00"/><rect x="609" y="69" width="10" height="5" fill="#cc4800"/><rect x="619" y="69" width="5" height="5" fill="#cc3c00"/><rect x="624" y="69" width="5" height="5" fill="#c03000"/><rect x="629" y="69" width="5" height="5" fill="#b42400"/><rect x="634" y="69" width="3" height="5" fill="#b41824"/><rect x="439" y="74" width="5" height="5" fill="#480078"/><rect x="444" y="74" width="5" height="5" fill="#240024"/><rect x="449" y="74" width="5" height="5" fill="#54009c"/><rect x="454" y="74" width="5" height="5" fill="#6c00f0"/><rect x="459" y="74" width="5" height="5" fill="#8400fc"/><rect x="464" y="74" width="5" height="5" fill="#9c0cc0"/><rect x="469" y="74" width="5" height="5" fill="#a81854"/><rect x="474" y="74" width="5" height="5" fill="#b42400"/><rect x="479" y="74" width="5" height="5" fill="#cc3c00"/><rect x="484" y="74" width="5" height="5" fill="#d86c00"/><rect x="489" y="74" width="5" height="5" fill="#f0a800"/><rect x="494" y="74" width="5" height="5" fill="#fce400"/><rect x="499" y="74" width="5" height="5" fill="#fcfc00"/><rect x="504" y="74" width="5" height="5" fill="#fcd800"/><rect x="509" y="74" width="5" height="5" fill="#f09c00"/><rect x="514" y="74" width="5" height="5" fill="#d86c00"/><rect x="519" y="74" width="5" height="5" fill="#cc4800"/><rect x="524" y="74" width="5" height="5" fill="#c03000"/><rect x="529" y="74" width="5" height="5" fill="#a8183c"/><rect x="534" y="74" width="5" height="5" fill="#9c0cb4"/><rect x="539" y="74" width="5" height="5" fill="#900cf0"/><rect x="544" y="74" width="5" height="5" fill="#7800fc"/><rect x="549" y="74" width="5" height="5" fill="#6000c0"/><rect x="554" y="74" width="5" height="5" fill="#3c0054"/><rect x="559" y="74" width="5" height="5" fill="#300030"/><rect x="564" y="74" width="5" height="5" fill="#5400a8"/><rect x="569" y="74" width="5" height="5" fill="#6c00f0"/><rect x="574" y="74" width="5" height="5" fill="#8400fc"/><rect x="579" y="74" width="5" height="5" fill="#9c0ccc"/><rect x="584" y="74" width="5" height="5" fill="#a81878"/><rect x="589" y="74" width="5" height="5" fill="#b4240c"/><rect x="594" y="74" width="5" height="5" fill="#c03000"/><rect x="599" y="74" width="5" height="5" fill="#cc3c00"/><rect x="604" y="74" width="5" height="5" fill="#cc4800"/><rect x="609" y="74" width="5" height="5" fill="#cc5400"/><rect x="614" y="74" width="10" height="5" fill="#cc4800"/><rect x="624" y="74" width="5" height="5" fill="#c03000"/><rect x="629" y="74" width="5" height="5" fill="#c02400"/><rect x="634" y="74" width="3" height="5" fill="#b41818"/><rect x="439" y="79" width="5" height="5" fill="#480078"/><rect x="444" y="79" width="5" height="5" fill="#240024"/><rect x="449" y="79" width="5" height="5" fill="#54009c"/><rect x="454" y="79" width="5" height="5" fill="#6c00f0"/><rect x="459" y="79" width="5" height="5" fill="#8400fc"/><rect x="464" y="79" width="5" height="5" fill="#9c0cc0"/><rect x="469" y="79" width="5" height="5" fill="#a81854"/><rect x="474" y="79" width="5" height="5" fill="#b42400"/><rect x="479" y="79" width="5" height="5" fill="#cc3c00"/><rect x="484" y="79" width="5" height="5" fill="#d86c00"/><rect x="489" y="79" width="5" height="5" fill="#f0a800"/><rect x="494" y="79" width="5" height="5" fill="#fce400"/><rect x="499" y="79" width="5" height="5" fill="#fcf000"/><rect x="504" y="79" width="5" height="5" fill="#fcd800"/><rect x="509" y="79" width="5" height="5" fill="#f09c00"/><rect x="514" y="79" width="5" height="5" fill="#d86c00"/><rect x="519" y="79" width="5" height="5" fill="#cc4800"/><rect x="524" y="79" width="5" height="5" fill="#c03000"/><rect x="529" y="79" width="5" height="5" fill="#a8183c"/><rect x="534" y="79" width="5" height="5" fill="#9c0cb4"/><rect x="539" y="79" width="5" height="5" fill="#900cf0"/><rect x="544" y="79" width="5" height="5" fill="#7800fc"/><rect x="549" y="79" width="5" height="5" fill="#6000c0"/><rect x="554" y="79" width="5" height="5" fill="#3c0054"/><rect x="559" y="79" width="5" height="5" fill="#300030"/><rect x="564" y="79" width="5" height="5" fill="#5400a8"/><rect x="569" y="79" width="5" height="5" fill="#6c00f0"/><rect x="574" y="79" width="5" height="5" fill="#8400fc"/><rect x="579" y="79" width="5" height="5" fill="#900ccc"/><rect x="584" y="79" width="5" height="5" fill="#a81878"/><rect x="589" y="79" width="5" height="5" fill="#b4240c"/><rect x="594" y="79" width="5" height="5" fill="#c03000"/><rect x="599" y="79" width="5" height="5" fill="#cc3c00"/><rect x="604" y="79" width="20" height="5" fill="#cc4800"/><rect x="624" y="79" width="5" height="5" fill="#c03000"/><rect x="629" y="79" width="5" height="5" fill="#b42400"/><rect x="634" y="79" width="3" height="5" fill="#b41824"/><rect x="439" y="84" width="5" height="5" fill="#480078"/><rect x="444" y="84" width="5" height="5" fill="#240030"/><rect x="449" y="84" width="5" height="5" fill="#54009c"/><rect x="454" y="84" width="5" height="5" fill="#6c00f0"/><rect x="459" y="84" width="5" height="5" fill="#8400fc"/><rect x="464" y="84" width="5" height="5" fill="#9c0ccc"/><rect x="469" y="84" width="5" height="5" fill="#a8186c"/><rect x="474" y="84" width="5" height="5" fill="#b4240c"/><rect x="479" y="84" width="5" height="5" fill="#c03c00"/><rect x="484" y="84" width="5" height="5" fill="#d86000"/><rect x="489" y="84" width="5" height="5" fill="#e49000"/><rect x="494" y="84" width="5" height="5" fill="#f0cc00"/><rect x="499" y="84" width="5" height="5" fill="#fcd800"/><rect x="504" y="84" width="5" height="5" fill="#f0c000"/><rect x="509" y="84" width="5" height="5" fill="#e48400"/><rect x="514" y="84" width="5" height="5" fill="#d86000"/><rect x="519" y="84" width="5" height="5" fill="#cc3c00"/><rect x="524" y="84" width="5" height="5" fill="#c02400"/><rect x="529" y="84" width="5" height="5" fill="#a81848"/><rect x="534" y="84" width="5" height="5" fill="#9c0cb4"/><rect x="539" y="84" width="5" height="5" fill="#900cf0"/><rect x="544" y="84" width="5" height="5" fill="#7800fc"/><rect x="549" y="84" width="5" height="5" fill="#6000c0"/><rect x="554" y="84" width="5" height="5" fill="#3c0054"/><rect x="559" y="84" width="5" height="5" fill="#300030"/><rect x="564" y="84" width="5" height="5" fill="#5400a8"/><rect x="569" y="84" width="5" height="5" fill="#6c00f0"/><rect x="574" y="84" width="5" height="5" fill="#8400fc"/><rect x="579" y="84" width="5" height="5" fill="#900cd8"/><rect x="584" y="84" width="5" height="5" fill="#a80c84"/><rect x="589" y="84" width="5" height="5" fill="#b41824"/><rect x="594" y="84" width="5" height="5" fill="#c02400"/><rect x="599" y="84" width="5" height="5" fill="#c03000"/><rect x="604" y="84" width="5" height="5" fill="#cc3c00"/><rect x="609" y="84" width="10" height="5" fill="#cc4800"/><rect x="619" y="84" width="5" height="5" fill="#cc3c00"/><rect x="624" y="84" width="5" height="5" fill="#c03000"/><rect x="629" y="84" width="5" height="5" fill="#b42400"/><rect x="634" y="84" width="3" height="5" fill="#b41830"/><rect x="439" y="89" width="5" height="5" fill="#480078"/><rect x="444" y="89" width="5" height="5" fill="#240030"/><rect x="449" y="89" width="5" height="5" fill="#54009c"/><rect x="454" y="89" width="5" height="5" fill="#6c00e4"/><rect x="459" y="89" width="5" height="5" fill="#8400fc"/><rect x="464" y="89" width="5" height="5" fill="#900ce4"/><rect x="469" y="89" width="5" height="5" fill="#9c0c9c"/><rect x="474" y="89" width="5" height="5" fill="#b41830"/><rect x="479" y="89" width="5" height="5" fill="#c03000"/><rect x="484" y="89" width="5" height="5" fill="#cc4800"/><rect x="489" y="89" width="5" height="5" fill="#d86c00"/><rect x="494" y="89" width="5" height="5" fill="#f09c00"/><rect x="499" y="89" width="5" height="5" fill="#f0a800"/><rect x="504" y="89" width="5" height="5" fill="#e49000"/><rect x="509" y="89" width="5" height="5" fill="#d86c00"/><rect x="514" y="89" width="5" height="5" fill="#cc5400"/><rect x="519" y="89" width="5" height="5" fill="#c03c00"/><rect x="524" y="89" width="5" height="5" fill="#b42400"/><rect x="529" y="89" width="5" height="5" fill="#a81854"/><rect x="534" y="89" width="5" height="5" fill="#9c0cc0"/><rect x="539" y="89" width="5" height="5" fill="#900cf0"/><rect x="544" y="89" width="5" height="5" fill="#7800fc"/><rect x="549" y="89" width="5" height="5" fill="#6000c0"/><rect x="554" y="89" width="5" height="5" fill="#3c0054"/><rect x="559" y="89" width="5" height="5" fill="#300030"/><rect x="564" y="89" width="5" height="5" fill="#5400a8"/><rect x="569" y="89" width="5" height="5" fill="#6c00f0"/><rect x="574" y="89" width="5" height="5" fill="#8400fc"/><rect x="579" y="89" width="5" height="5" fill="#900ce4"/><rect x="584" y="89" width="5" height="5" fill="#9c0c9c"/><rect x="589" y="89" width="5" height="5" fill="#a81848"/><rect x="594" y="89" width="5" height="5" fill="#b42400"/><rect x="599" y="89" width="10" height="5" fill="#c03000"/><rect x="609" y="89" width="5" height="5" fill="#cc3c00"/><rect x="614" y="89" width="5" height="5" fill="#c03c00"/><rect x="619" y="89" width="5" height="5" fill="#c03000"/><rect x="624" y="89" width="5" height="5" fill="#c02400"/><rect x="629" y="89" width="5" height="5" fill="#b42418"/><rect x="634" y="89" width="3" height="5" fill="#a81854"/><rect x="439" y="94" width="5" height="5" fill="#480078"/><rect x="444" y="94" width="5" height="5" fill="#240030"/><rect x="449" y="94" width="5" height="5" fill="#54009c"/><rect x="454" y="94" width="5" height="5" fill="#6c00e4"/><rect x="459" y="94" width="5" height="5" fill="#7800fc"/><rect x="464" y="94" width="5" height="5" fill="#900cf0"/><rect x="469" y="94" width="5" height="5" fill="#9c0cc0"/><rect x="474" y="94" width="5" height="5" fill="#a81878"/><rect x="479" y="94" width="5" height="5" fill="#b42418"/><rect x="484" y="94" width="5" height="5" fill="#c03000"/><rect x="489" y="94" width="5" height="5" fill="#cc4800"/><rect x="494" y="94" width="5" height="5" fill="#d86c00"/><rect x="499" y="94" width="5" height="5" fill="#e47800"/><rect x="504" y="94" width="5" height="5" fill="#d86c00"/><rect x="509" y="94" width="5" height="5" fill="#cc5400"/><rect x="514" y="94" width="5" height="5" fill="#cc3c00"/><rect x="519" y="94" width="5" height="5" fill="#c03000"/><rect x="524" y="94" width="5" height="5" fill="#b42418"/><rect x="529" y="94" width="5" height="5" fill="#a81878"/><rect x="534" y="94" width="5" height="5" fill="#9c0ccc"/><rect x="539" y="94" width="5" height="5" fill="#840cf0"/><rect x="544" y="94" width="5" height="5" fill="#7800fc"/><rect x="549" y="94" width="5" height="5" fill="#6000c0"/><rect x="554" y="94" width="5" height="5" fill="#3c0054"/><rect x="559" y="94" width="5" height="5" fill="#300030"/><rect x="564" y="94" width="5" height="5" fill="#5400a8"/><rect x="569" y="94" width="5" height="5" fill="#6c00e4"/><rect x="574" y="94" width="5" height="5" fill="#8400fc"/><rect x="579" y="94" width="5" height="5" fill="#900cf0"/><rect x="584" y="94" width="5" height="5" fill="#9c0cc0"/><rect x="589" y="94" width="5" height="5" fill="#a80c84"/><rect x="594" y="94" width="5" height="5" fill="#a8183c"/><rect x="599" y="94" width="5" height="5" fill="#b4240c"/><rect x="604" y="94" width="5" height="5" fill="#b42400"/><rect x="609" y="94" width="10" height="5" fill="#c02400"/><rect x="619" y="94" width="5" height="5" fill="#b42400"/><rect x="624" y="94" width="5" height="5" fill="#b4240c"/><rect x="629" y="94" width="5" height="5" fill="#a81848"/><rect x="634" y="94" width="3" height="5" fill="#a81884"/><rect x="439" y="99" width="5" height="5" fill="#480078"/><rect x="444" y="99" width="5" height="5" fill="#240024"/><rect x="449" y="99" width="5" height="5" fill="#480084"/><rect x="454" y="99" width="5" height="5" fill="#6000d8"/><rect x="459" y="99" width="5" height="5" fill="#7800fc"/><rect x="464" y="99" width="5" height="5" fill="#8400fc"/><rect x="469" y="99" width="5" height="5" fill="#900cf0"/><rect x="474" y="99" width="5" height="5" fill="#9c0cc0"/><rect x="479" y="99" width="5" height="5" fill="#a81884"/><rect x="484" y="99" width="5" height="5" fill="#b41824"/><rect x="489" y="99" width="5" height="5" fill="#c03000"/><rect x="494" y="99" width="5" height="5" fill="#cc3c00"/><rect x="499" y="99" width="5" height="5" fill="#cc4800"/><rect x="504" y="99" width="5" height="5" fill="#cc3c00"/><rect x="509" y="99" width="5" height="5" fill="#c03000"/><rect x="514" y="99" width="5" height="5" fill="#c02400"/><rect x="519" y="99" width="5" height="5" fill="#b42418"/><rect x="524" y="99" width="5" height="5" fill="#a81848"/><rect x="529" y="99" width="5" height="5" fill="#9c0c90"/><rect x="534" y="99" width="5" height="5" fill="#900cd8"/><rect x="539" y="99" width="5" height="5" fill="#8400fc"/><rect x="544" y="99" width="5" height="5" fill="#7800fc"/><rect x="549" y="99" width="5" height="5" fill="#6000c0"/><rect x="554" y="99" width="5" height="5" fill="#3c0054"/><rect x="559" y="99" width="5" height="5" fill="#240030"/><rect x="564" y="99" width="5" height="5" fill="#54009c"/><rect x="569" y="99" width="5" height="5" fill="#6c00e4"/><rect x="574" y="99" width="5" height="5" fill="#7800fc"/><rect x="579" y="99" width="5" height="5" fill="#8400fc"/><rect x="584" y="99" width="5" height="5" fill="#900ce4"/><rect x="589" y="99" width="5" height="5" fill="#9c0cc0"/><rect x="594" y="99" width="5" height="5" fill="#9c0c9c"/><rect x="599" y="99" width="5" height="5" fill="#a8186c"/><rect x="604" y="99" width="5" height="5" fill="#a81848"/><rect x="609" y="99" width="10" height="5" fill="#b41830"/><rect x="619" y="99" width="5" height="5" fill="#a8183c"/><rect x="624" y="99" width="5" height="5" fill="#a81860"/><rect x="629" y="99" width="5" height="5" fill="#a80c90"/><rect x="634" y="99" width="3" height="5" fill="#9c0cb4"/><rect x="439" y="104" width="5" height="5" fill="#480084"/><rect x="444" y="104" width="5" height="5" fill="#240024"/><rect x="449" y="104" width="5" height="5" fill="#48006c"/><rect x="454" y="104" width="5" height="5" fill="#6000b4"/><rect x="459" y="104" width="5" height="5" fill="#6c00e4"/><rect x="464" y="104" width="5" height="5" fill="#7800fc"/><rect x="469" y="104" width="5" height="5" fill="#8400fc"/><rect x="474" y="104" width="5" height="5" fill="#840cf0"/><rect x="479" y="104" width="5" height="5" fill="#900cd8"/><rect x="484" y="104" width="5" height="5" fill="#9c0c9c"/><rect x="489" y="104" width="5" height="5" fill="#a81848"/><rect x="494" y="104" width="5" height="5" fill="#b42418"/><rect x="499" y="104" width="10" height="5" fill="#b4240c"/><rect x="509" y="104" width="5" height="5" fill="#b41824"/><rect x="514" y="104" width="5" height="5" fill="#a81848"/><rect x="519" y="104" width="5" height="5" fill="#a8186c"/><rect x="524" y="104" width="5" height="5" fill="#a80c90"/><rect x="529" y="104" width="5" height="5" fill="#9c0cb4"/><rect x="534" y="104" width="5" height="5" fill="#900ce4"/><rect x="539" y="104" width="5" height="5" fill="#8400fc"/><rect x="544" y="104" width="5" height="5" fill="#7800fc"/><rect x="549" y="104" width="5" height="5" fill="#6000c0"/><rect x="554" y="104" width="5" height="5" fill="#3c0054"/><rect x="559" y="104" width="5" height="5" fill="#240024"/><rect x="564" y="104" width="5" height="5" fill="#480084"/><rect x="569" y="104" width="5" height="5" fill="#6000cc"/><rect x="574" y="104" width="5" height="5" fill="#6c00f0"/><rect x="579" y="104" width="5" height="5" fill="#7800fc"/><rect x="584" y="104" width="5" height="5" fill="#8400fc"/><rect x="589" y="104" width="5" height="5" fill="#900cf0"/><rect x="594" y="104" width="5" height="5" fill="#900ce4"/><rect x="599" y="104" width="5" height="5" fill="#9c0ccc"/><rect x="604" y="104" width="5" height="5" fill="#9c0cb4"/><rect x="609" y="104" width="5" height="5" fill="#9c0ca8"/><rect x="614" y="104" width="5" height="5" fill="#9c0c9c"/><rect x="619" y="104" width="5" height="5" fill="#9c0ca8"/><rect x="624" y="104" width="5" height="5" fill="#9c0cb4"/><rect x="629" y="104" width="5" height="5" fill="#900ccc"/><rect x="634" y="104" width="3" height="5" fill="#900ce4"/><rect x="439" y="109" width="5" height="5" fill="#540090"/><rect x="444" y="109" width="5" height="5" fill="#240030"/><rect x="449" y="109" width="5" height="5" fill="#30003c"/><rect x="454" y="109" width="5" height="5" fill="#480084"/><rect x="459" y="109" width="5" height="5" fill="#6000b4"/><rect x="464" y="109" width="5" height="5" fill="#6c00d8"/><rect x="469" y="109" width="5" height="5" fill="#6c00f0"/><rect x="474" y="109" width="5" height="5" fill="#7800fc"/><rect x="479" y="109" width="5" height="5" fill="#8400fc"/><rect x="484" y="109" width="5" height="5" fill="#900cf0"/><rect x="489" y="109" width="5" height="5" fill="#900ccc"/><rect x="494" y="109" width="5" height="5" fill="#9c0ca8"/><rect x="499" y="109" width="10" height="5" fill="#9c0c90"/><rect x="509" y="109" width="5" height="5" fill="#9c0ca8"/><rect x="514" y="109" width="5" height="5" fill="#9c0cb4"/><rect x="519" y="109" width="5" height="5" fill="#9c0cc0"/><rect x="524" y="109" width="5" height="5" fill="#9c0ccc"/><rect x="529" y="109" width="5" height="5" fill="#900ce4"/><rect x="534" y="109" width="5" height="5" fill="#900cf0"/><rect x="539" y="109" width="5" height="5" fill="#8400fc"/><rect x="544" y="109" width="5" height="5" fill="#7800f0"/><rect x="549" y="109" width="5" height="5" fill="#6000c0"/><rect x="554" y="109" width="5" height="5" fill="#3c0060"/><rect x="559" y="109" width="5" height="5" fill="#240018"/><rect x="564" y="109" width="5" height="5" fill="#48006c"/><rect x="569" y="109" width="5" height="5" fill="#5400a8"/><rect x="574" y="109" width="5" height="5" fill="#6000d8"/><rect x="579" y="109" width="5" height="5" fill="#6c00e4"/><rect x="584" y="109" width="5" height="5" fill="#7800f0"/><rect x="589" y="109" width="5" height="5" fill="#7800fc"/><rect x="594" y="109" width="10" height="5" fill="#8400fc"/><rect x="604" y="109" width="5" height="5" fill="#840cf0"/><rect x="609" y="109" width="20" height="5" fill="#900cf0"/><rect x="629" y="109" width="8" height="5" fill="#8400fc"/><rect x="439" y="114" width="5" height="5" fill="#5400a8"/><rect x="444" y="114" width="5" height="5" fill="#3c0060"/><rect x="449" y="114" width="5" height="5" fill="#240018"/><rect x="454" y="114" width="5" height="5" fill="#30003c"/><rect x="459" y="114" width="5" height="5" fill="#48006c"/><rect x="464" y="114" width="5" height="5" fill="#54009c"/><rect x="469" y="114" width="5" height="5" fill="#6000b4"/><rect x="474" y="114" width="5" height="5" fill="#6000cc"/><rect x="479" y="114" width="5" height="5" fill="#6c00e4"/><rect x="484" y="114" width="5" height="5" fill="#7800f0"/><rect x="489" y="114" width="5" height="5" fill="#7800fc"/><rect x="494" y="114" width="5" height="5" fill="#8400fc"/><rect x="499" y="114" width="5" height="5" fill="#8400f0"/><rect x="504" y="114" width="15" height="5" fill="#840cf0"/><rect x="519" y="114" width="5" height="5" fill="#8400f0"/><rect x="524" y="114" width="5" height="5" fill="#840cf0"/><rect x="529" y="114" width="10" height="5" fill="#8400fc"/><rect x="539" y="114" width="5" height="5" fill="#7800fc"/><rect x="544" y="114" width="5" height="5" fill="#6c00f0"/><rect x="549" y="114" width="5" height="5" fill="#6000b4"/><rect x="554" y="114" width="5" height="5" fill="#3c006c"/><rect x="559" y="114" width="5" height="5" fill="#240018"/><rect x="564" y="114" width="5" height="5" fill="#30003c"/><rect x="569" y="114" width="5" height="5" fill="#480078"/><rect x="574" y="114" width="5" height="5" fill="#54009c"/><rect x="579" y="114" width="5" height="5" fill="#5400b4"/><rect x="584" y="114" width="5" height="5" fill="#6000c0"/><rect x="589" y="114" width="5" height="5" fill="#6000d8"/><rect x="594" y="114" width="10" height="5" fill="#6c00e4"/><rect x="604" y="114" width="5" height="5" fill="#6c00f0"/><rect x="609" y="114" width="25" height="5" fill="#7800f0"/><rect x="634" y="114" width="3" height="5" fill="#6c00f0"/><rect x="439" y="119" width="5" height="5" fill="#6000b4"/><rect x="444" y="119" width="5" height="5" fill="#54009c"/><rect x="449" y="119" width="5" height="5" fill="#3c0054"/><rect x="454" y="119" width="5" height="5" fill="#240024"/><rect x="459" y="119" width="5" height="5" fill="#240018"/><rect x="464" y="119" width="5" height="5" fill="#30003c"/><rect x="469" y="119" width="5" height="5" fill="#3c0054"/><rect x="474" y="119" width="5" height="5" fill="#480078"/><rect x="479" y="119" width="5" height="5" fill="#480090"/><rect x="484" y="119" width="5" height="5" fill="#5400a8"/><rect x="489" y="119" width="5" height="5" fill="#6000c0"/><rect x="494" y="119" width="5" height="5" fill="#6000cc"/><rect x="499" y="119" width="5" height="5" fill="#6c00d8"/><rect x="504" y="119" width="10" height="5" fill="#6c00e4"/><rect x="514" y="119" width="5" height="5" fill="#6c00f0"/><rect x="519" y="119" width="5" height="5" fill="#7800f0"/><rect x="524" y="119" width="15" height="5" fill="#7800fc"/><rect x="539" y="119" width="5" height="5" fill="#7800f0"/><rect x="544" y="119" width="5" height="5" fill="#6c00e4"/><rect x="549" y="119" width="5" height="5" fill="#6000b4"/><rect x="554" y="119" width="5" height="5" fill="#480078"/><rect x="559" y="119" width="5" height="5" fill="#300048"/><rect x="564" y="119" width="5" height="5" fill="#180018"/><rect x="569" y="119" width="5" height="5" fill="#240024"/><rect x="574" y="119" width="5" height="5" fill="#30003c"/><rect x="579" y="119" width="5" height="5" fill="#3c0054"/><rect x="584" y="119" width="5" height="5" fill="#3c006c"/><rect x="589" y="119" width="5" height="5" fill="#480078"/><rect x="594" y="119" width="5" height="5" fill="#480090"/><rect x="599" y="119" width="10" height="5" fill="#54009c"/><rect x="609" y="119" width="5" height="5" fill="#5400a8"/><rect x="614" y="119" width="5" height="5" fill="#5400b4"/><rect x="619" y="119" width="15" height="5" fill="#6000b4"/><rect x="634" y="119" width="3" height="5" fill="#5400b4"/><rect x="439" y="124" width="5" height="5" fill="#6000cc"/><rect x="444" y="124" width="5" height="5" fill="#6000c0"/><rect x="449" y="124" width="5" height="5" fill="#54009c"/><rect x="454" y="124" width="5" height="5" fill="#480078"/><rect x="459" y="124" width="5" height="5" fill="#3c0054"/><rect x="464" y="124" width="5" height="5" fill="#30003c"/><rect x="469" y="124" width="15" height="5" fill="#240024"/><rect x="484" y="124" width="5" height="5" fill="#240030"/><rect x="489" y="124" width="5" height="5" fill="#30003c"/><rect x="494" y="124" width="5" height="5" fill="#300048"/><rect x="499" y="124" width="5" height="5" fill="#3c0060"/><rect x="504" y="124" width="5" height="5" fill="#480078"/><rect x="509" y="124" width="5" height="5" fill="#480090"/><rect x="514" y="124" width="5" height="5" fill="#54009c"/><rect x="519" y="124" width="5" height="5" fill="#6000b4"/><rect x="524" y="124" width="5" height="5" fill="#6000c0"/><rect x="529" y="124" width="5" height="5" fill="#6000d8"/><rect x="534" y="124" width="5" height="5" fill="#6c00d8"/><rect x="539" y="124" width="5" height="5" fill="#6c00e4"/><rect x="544" y="124" width="5" height="5" fill="#6c00d8"/><rect x="549" y="124" width="5" height="5" fill="#6000c0"/><rect x="554" y="124" width="5" height="5" fill="#54009c"/><rect x="559" y="124" width="5" height="5" fill="#480078"/><rect x="564" y="124" width="5" height="5" fill="#3c0060"/><rect x="569" y="124" width="5" height="5" fill="#30003c"/><rect x="574" y="124" width="5" height="5" fill="#240030"/><rect x="579" y="124" width="25" height="5" fill="#240024"/><rect x="604" y="124" width="10" height="5" fill="#240030"/><rect x="614" y="124" width="10" height="5" fill="#30003c"/><rect x="624" y="124" width="5" height="5" fill="#300048"/><rect x="629" y="124" width="5" height="5" fill="#3c0054"/><rect x="634" y="124" width="3" height="5" fill="#3c0060"/><rect x="439" y="129" width="5" height="5" fill="#6c00d8"/><rect x="444" y="129" width="5" height="5" fill="#6c00e4"/><rect x="449" y="129" width="5" height="5" fill="#6000d8"/><rect x="454" y="129" width="5" height="5" fill="#6000c0"/><rect x="459" y="129" width="5" height="5" fill="#5400b4"/><rect x="464" y="129" width="5" height="5" fill="#5400a8"/><rect x="469" y="129" width="5" height="5" fill="#540090"/><rect x="474" y="129" width="5" height="5" fill="#480084"/><rect x="479" y="129" width="5" height="5" fill="#480078"/><rect x="484" y="129" width="5" height="5" fill="#3c006c"/><rect x="489" y="129" width="10" height="5" fill="#3c0060"/><rect x="499" y="129" width="5" height="5" fill="#300048"/><rect x="504" y="129" width="5" height="5" fill="#240030"/><rect x="509" y="129" width="5" height="5" fill="#240024"/><rect x="514" y="129" width="5" height="5" fill="#240030"/><rect x="519" y="129" width="5" height="5" fill="#30003c"/><rect x="524" y="129" width="5" height="5" fill="#3c0060"/><rect x="529" y="129" width="5" height="5" fill="#480084"/><rect x="534" y="129" width="5" height="5" fill="#54009c"/><rect x="539" y="129" width="5" height="5" fill="#6000b4"/><rect x="544" y="129" width="5" height="5" fill="#6000cc"/><rect x="549" y="129" width="10" height="5" fill="#6000c0"/><rect x="559" y="129" width="5" height="5" fill="#6000b4"/><rect x="564" y="129" width="5" height="5" fill="#5400a8"/><rect x="569" y="129" width="5" height="5" fill="#54009c"/><rect x="574" y="129" width="5" height="5" fill="#540090"/><rect x="579" y="129" width="5" height="5" fill="#480090"/><rect x="584" y="129" width="5" height="5" fill="#480084"/><rect x="589" y="129" width="5" height="5" fill="#480078"/><rect x="594" y="129" width="5" height="5" fill="#48006c"/><rect x="599" y="129" width="5" height="5" fill="#3c006c"/><rect x="604" y="129" width="5" height="5" fill="#3c0060"/><rect x="609" y="129" width="5" height="5" fill="#3c0054"/><rect x="614" y="129" width="5" height="5" fill="#300048"/><rect x="619" y="129" width="5" height="5" fill="#30003c"/><rect x="624" y="129" width="5" height="5" fill="#240030"/><rect x="629" y="129" width="5" height="5" fill="#240024"/><rect x="634" y="129" width="3" height="5" fill="#240018"/><rect x="439" y="134" width="5" height="5" fill="#6c00e4"/><rect x="444" y="134" width="10" height="5" fill="#7800f0"/><rect x="454" y="134" width="10" height="5" fill="#6c00f0"/><rect x="464" y="134" width="15" height="5" fill="#6c00e4"/><rect x="479" y="134" width="20" height="5" fill="#6c00d8"/><rect x="499" y="134" width="5" height="5" fill="#6000c0"/><rect x="504" y="134" width="5" height="5" fill="#5400a8"/><rect x="509" y="134" width="5" height="5" fill="#480090"/><rect x="514" y="134" width="5" height="5" fill="#48006c"/><rect x="519" y="134" width="5" height="5" fill="#300048"/><rect x="524" y="134" width="10" height="5" fill="#240024"/><rect x="534" y="134" width="5" height="5" fill="#3c0048"/><rect x="539" y="134" width="5" height="5" fill="#480084"/><rect x="544" y="134" width="5" height="5" fill="#6000b4"/><rect x="549" y="134" width="5" height="5" fill="#6000cc"/><rect x="554" y="134" width="5" height="5" fill="#6c00d8"/><rect x="559" y="134" width="15" height="5" fill="#6c00e4"/><rect x="574" y="134" width="15" height="5" fill="#6c00d8"/><rect x="589" y="134" width="5" height="5" fill="#6000d8"/><rect x="594" y="134" width="15" height="5" fill="#6000cc"/><rect x="609" y="134" width="5" height="5" fill="#6000c0"/><rect x="614" y="134" width="5" height="5" fill="#6000b4"/><rect x="619" y="134" width="5" height="5" fill="#5400a8"/><rect x="624" y="134" width="5" height="5" fill="#540090"/><rect x="629" y="134" width="5" height="5" fill="#480078"/><rect x="634" y="134" width="3" height="5" fill="#3c0060"/><rect x="439" y="139" width="5" height="5" fill="#6c00f0"/><rect x="444" y="139" width="10" height="5" fill="#7800fc"/><rect x="454" y="139" width="45" height="5" fill="#8400fc"/><rect x="499" y="139" width="5" height="5" fill="#7800fc"/><rect x="504" y="139" width="5" height="5" fill="#7800f0"/><rect x="509" y="139" width="5" height="5" fill="#6c00e4"/><rect x="514" y="139" width="5" height="5" fill="#6000cc"/><rect x="519" y="139" width="5" height="5" fill="#5400b4"/><rect x="524" y="139" width="5" height="5" fill="#480084"/><rect x="529" y="139" width="5" height="5" fill="#3c0054"/><rect x="534" y="139" width="5" height="5" fill="#240018"/><rect x="539" y="139" width="5" height="5" fill="#3c0054"/><rect x="544" y="139" width="5" height="5" fill="#5400a8"/><rect x="549" y="139" width="5" height="5" fill="#6c00d8"/><rect x="554" y="139" width="5" height="5" fill="#6c00f0"/><rect x="559" y="139" width="55" height="5" fill="#7800fc"/><rect x="614" y="139" width="5" height="5" fill="#7800f0"/><rect x="619" y="139" width="5" height="5" fill="#6c00e4"/><rect x="624" y="139" width="5" height="5" fill="#6c00d8"/><rect x="629" y="139" width="5" height="5" fill="#6000c0"/><rect x="634" y="139" width="3" height="5" fill="#5400a8"/><rect x="439" y="144" width="5" height="5" fill="#7800f0"/><rect x="444" y="144" width="10" height="5" fill="#8400fc"/><rect x="454" y="144" width="5" height="5" fill="#900cf0"/><rect x="459" y="144" width="5" height="5" fill="#900ce4"/><rect x="464" y="144" width="5" height="5" fill="#900cd8"/><rect x="469" y="144" width="5" height="5" fill="#900ccc"/><rect x="474" y="144" width="5" height="5" fill="#9c0ccc"/><rect x="479" y="144" width="5" height="5" fill="#9c0cc0"/><rect x="484" y="144" width="5" height="5" fill="#9c0cb4"/><rect x="489" y="144" width="5" height="5" fill="#9c0cc0"/><rect x="494" y="144" width="5" height="5" fill="#9c0ccc"/><rect x="499" y="144" width="5" height="5" fill="#900cd8"/><rect x="504" y="144" width="5" height="5" fill="#900cf0"/><rect x="509" y="144" width="5" height="5" fill="#8400fc"/><rect x="514" y="144" width="5" height="5" fill="#7800fc"/><rect x="519" y="144" width="5" height="5" fill="#6c00f0"/><rect x="524" y="144" width="5" height="5" fill="#6000d8"/><rect x="529" y="144" width="5" height="5" fill="#54009c"/><rect x="534" y="144" width="5" height="5" fill="#3c0048"/><rect x="539" y="144" width="5" height="5" fill="#240030"/><rect x="544" y="144" width="5" height="5" fill="#54009c"/><rect x="549" y="144" width="5" height="5" fill="#6c00e4"/><rect x="554" y="144" width="5" height="5" fill="#7800fc"/><rect x="559" y="144" width="10" height="5" fill="#8400fc"/><rect x="569" y="144" width="5" height="5" fill="#840cf0"/><rect x="574" y="144" width="15" height="5" fill="#900cf0"/><rect x="589" y="144" width="15" height="5" fill="#900ce4"/><rect x="604" y="144" width="10" height="5" fill="#900cf0"/><rect x="614" y="144" width="10" height="5" fill="#8400fc"/><rect x="624" y="144" width="5" height="5" fill="#7800fc"/><rect x="629" y="144" width="5" height="5" fill="#6c00f0"/><rect x="634" y="144" width="3" height="5" fill="#6c00d8"/><rect x="439" y="149" width="5" height="5" fill="#7800fc"/><rect x="444" y="149" width="5" height="5" fill="#8400fc"/><rect x="449" y="149" width="5" height="5" fill="#900cf0"/><rect x="454" y="149" width="5" height="5" fill="#900cd8"/><rect x="459" y="149" width="5" height="5" fill="#9c0cb4"/><rect x="464" y="149" width="5" height="5" fill="#9c0c90"/><rect x="469" y="149" width="5" height="5" fill="#a81878"/><rect x="474" y="149" width="5" height="5" fill="#a81854"/><rect x="479" y="149" width="5" height="5" fill="#a81848"/><rect x="484" y="149" width="5" height="5" fill="#b41830"/><rect x="489" y="149" width="5" height="5" fill="#a8183c"/><rect x="494" y="149" width="5" height="5" fill="#a81854"/><rect x="499" y="149" width="5" height="5" fill="#a81884"/><rect x="504" y="149" width="5" height="5" fill="#9c0cb4"/><rect x="509" y="149" width="5" height="5" fill="#900cd8"/><rect x="514" y="149" width="5" height="5" fill="#900cf0"/><rect x="519" y="149" width="5" height="5" fill="#8400fc"/><rect x="524" y="149" width="5" height="5" fill="#7800f0"/><rect x="529" y="149" width="5" height="5" fill="#6000cc"/><rect x="534" y="149" width="5" height="5" fill="#480078"/><rect x="539" y="149" width="5" height="5" fill="#240024"/><rect x="544" y="149" width="5" height="5" fill="#540090"/><rect x="549" y="149" width="5" height="5" fill="#6c00e4"/><rect x="554" y="149" width="5" height="5" fill="#8400fc"/><rect x="559" y="149" width="5" height="5" fill="#900cf0"/><rect x="564" y="149" width="5" height="5" fill="#900ce4"/><rect x="569" y="149" width="5" height="5" fill="#900cd8"/><rect x="574" y="149" width="5" height="5" fill="#9c0cc0"/><rect x="579" y="149" width="5" height="5" fill="#9c0cb4"/><rect x="584" y="149" width="10" height="5" fill="#9c0ca8"/><rect x="594" y="149" width="10" height="5" fill="#9c0c9c"/><rect x="604" y="149" width="5" height="5" fill="#9c0ca8"/><rect x="609" y="149" width="5" height="5" fill="#9c0cc0"/><rect x="614" y="149" width="5" height="5" fill="#900cd8"/><rect x="619" y="149" width="5" height="5" fill="#900cf0"/><rect x="624" y="149" width="5" height="5" fill="#8400fc"/><rect x="629" y="149" width="5" height="5" fill="#7800fc"/><rect x="634" y="149" width="3" height="5" fill="#7800f0"/><rect x="439" y="154" width="5" height="5" fill="#7800fc"/><rect x="444" y="154" width="5" height="5" fill="#8400fc"/><rect x="449" y="154" width="5" height="5" fill="#900ce4"/><rect x="454" y="154" width="5" height="5" fill="#9c0cb4"/><rect x="459" y="154" width="5" height="5" fill="#a81878"/><rect x="464" y="154" width="5" height="5" fill="#a8183c"/><rect x="469" y="154" width="5" height="5" fill="#b42418"/><rect x="474" y="154" width="5" height="5" fill="#b42400"/><rect x="479" y="154" width="5" height="5" fill="#c02400"/><rect x="484" y="154" width="10" height="5" fill="#c03000"/><rect x="494" y="154" width="5" height="5" fill="#b42400"/><rect x="499" y="154" width="5" height="5" fill="#b42418"/><rect x="504" y="154" width="5" height="5" fill="#a81854"/><rect x="509" y="154" width="5" height="5" fill="#a80c90"/><rect x="514" y="154" width="5" height="5" fill="#9c0cc0"/><rect x="519" y="154" width="5" height="5" fill="#900cf0"/><rect x="524" y="154" width="5" height="5" fill="#7800fc"/><rect x="529" y="154" width="5" height="5" fill="#6c00e4"/><rect x="534" y="154" width="5" height="5" fill="#540090"/><rect x="539" y="154" width="5" height="5" fill="#240024"/><rect x="544" y="154" width="5" height="5" fill="#540090"/><rect x="549" y="154" width="5" height="5" fill="#6c00f0"/><rect x="554" y="154" width="5" height="5" fill="#8400fc"/><rect x="559" y="154" width="5" height="5" fill="#900ce4"/><rect x="564" y="154" width="5" height="5" fill="#9c0cc0"/><rect x="569" y="154" width="5" height="5" fill="#9c0ca8"/><rect x="574" y="154" width="5" height="5" fill="#a80c84"/><rect x="579" y="154" width="5" height="5" fill="#a8186c"/><rect x="584" y="154" width="5" height="5" fill="#a81854"/><rect x="589" y="154" width="5" height="5" fill="#a81848"/><rect x="594" y="154" width="5" height="5" fill="#a8183c"/><rect x="599" y="154" width="5" height="5" fill="#b41830"/><rect x="604" y="154" width="5" height="5" fill="#a81848"/><rect x="609" y="154" width="5" height="5" fill="#a8186c"/><rect x="614" y="154" width="5" height="5" fill="#9c0c90"/><rect x="619" y="154" width="5" height="5" fill="#9c0cc0"/><rect x="624" y="154" width="5" height="5" fill="#900ce4"/><rect x="629" y="154" width="5" height="5" fill="#8400fc"/><rect x="634" y="154" width="3" height="5" fill="#7800fc"/><rect x="439" y="159" width="5" height="5" fill="#7800fc"/><rect x="444" y="159" width="5" height="5" fill="#8400fc"/><rect x="449" y="159" width="5" height="5" fill="#900cd8"/><rect x="454" y="159" width="5" height="5" fill="#a80c90"/><rect x="459" y="159" width="5" height="5" fill="#a8183c"/><rect x="464" y="159" width="5" height="5" fill="#b42400"/><rect x="469" y="159" width="10" height="5" fill="#c03000"/><rect x="479" y="159" width="15" height="5" fill="#cc3c00"/><rect x="494" y="159" width="5" height="5" fill="#c03c00"/><rect x="499" y="159" width="5" height="5" fill="#c03000"/><rect x="504" y="159" width="5" height="5" fill="#b4240c"/><rect x="509" y="159" width="5" height="5" fill="#a8183c"/><rect x="514" y="159" width="5" height="5" fill="#9c0c90"/><rect x="519" y="159" width="5" height="5" fill="#900cd8"/><rect x="524" y="159" width="5" height="5" fill="#8400fc"/><rect x="529" y="159" width="5" height="5" fill="#6c00f0"/><rect x="534" y="159" width="5" height="5" fill="#54009c"/><rect x="539" y="159" width="5" height="5" fill="#240030"/><rect x="544" y="159" width="5" height="5" fill="#480090"/><rect x="549" y="159" width="5" height="5" fill="#6c00f0"/><rect x="554" y="159" width="5" height="5" fill="#8400fc"/><rect x="559" y="159" width="5" height="5" fill="#900cd8"/><rect x="564" y="159" width="5" height="5" fill="#9c0ca8"/><rect x="569" y="159" width="5" height="5" fill="#a81878"/><rect x="574" y="159" width="5" height="5" fill="#a81848"/><rect x="579" y="159" width="5" height="5" fill="#b41824"/><rect x="584" y="159" width="5" height="5" fill="#b4240c"/><rect x="589" y="159" width="20" height="5" fill="#b42400"/><rect x="609" y="159" width="5" height="5" fill="#b42418"/><rect x="614" y="159" width="5" height="5" fill="#a81848"/><rect x="619" y="159" width="5" height="5" fill="#a80c90"/><rect x="624" y="159" width="5" height="5" fill="#9c0ccc"/><rect x="629" y="159" width="5" height="5" fill="#900cf0"/><rect x="634" y="159" width="3" height="5" fill="#8400fc"/><rect x="439" y="164" width="5" height="5" fill="#7800fc"/><rect x="444" y="164" width="5" height="5" fill="#900cf0"/><rect x="449" y="164" width="5" height="5" fill="#9c0cc0"/><rect x="454" y="164" width="5" height="5" fill="#a8186c"/><rect x="459" y="164" width="5" height="5" fill="#b42418"/><rect x="464" y="164" width="5" height="5" fill="#c03000"/><rect x="469" y="164" width="5" height="5" fill="#c03c00"/><rect x="474" y="164" width="10" height="5" fill="#cc4800"/><rect x="484" y="164" width="10" height="5" fill="#d85400"/><rect x="494" y="164" width="5" height="5" fill="#cc4800"/><rect x="499" y="164" width="5" height="5" fill="#cc3c00"/><rect x="504" y="164" width="5" height="5" fill="#c03000"/><rect x="509" y="164" width="5" height="5" fill="#b4240c"/><rect x="514" y="164" width="5" height="5" fill="#a8186c"/><rect x="519" y="164" width="5" height="5" fill="#9c0cc0"/><rect x="524" y="164" width="5" height="5" fill="#8400fc"/><rect x="529" y="164" width="5" height="5" fill="#6c00f0"/><rect x="534" y="164" width="5" height="5" fill="#54009c"/><rect x="539" y="164" width="5" height="5" fill="#240024"/><rect x="544" y="164" width="5" height="5" fill="#480090"/><rect x="549" y="164" width="5" height="5" fill="#6c00f0"/><rect x="554" y="164" width="5" height="5" fill="#8400fc"/><rect x="559" y="164" width="5" height="5" fill="#9c0ccc"/><rect x="564" y="164" width="5" height="5" fill="#a80c90"/><rect x="569" y="164" width="5" height="5" fill="#a81848"/><rect x="574" y="164" width="5" height="5" fill="#b41818"/><rect x="579" y="164" width="5" height="5" fill="#b42400"/><rect x="584" y="164" width="5" height="5" fill="#c02400"/><rect x="589" y="164" width="20" height="5" fill="#c03000"/><rect x="609" y="164" width="5" height="5" fill="#c02400"/><rect x="614" y="164" width="5" height="5" fill="#b4240c"/><rect x="619" y="164" width="5" height="5" fill="#a81860"/><rect x="624" y="164" width="5" height="5" fill="#9c0ca8"/><rect x="629" y="164" width="5" height="5" fill="#900ce4"/><rect x="634" y="164" width="3" height="5" fill="#840cfc"/><rect x="439" y="169" width="5" height="5" fill="#7800fc"/><rect x="444" y="169" width="5" height="5" fill="#900cf0"/><rect x="449" y="169" width="5" height="5" fill="#9c0cb4"/><rect x="454" y="169" width="5" height="5" fill="#a81860"/><rect x="459" y="169" width="5" height="5" fill="#b42400"/><rect x="464" y="169" width="5" height="5" fill="#c03000"/><rect x="469" y="169" width="5" height="5" fill="#cc3c00"/><rect x="474" y="169" width="5" height="5" fill="#cc5400"/><rect x="479" y="169" width="15" height="5" fill="#d86000"/><rect x="494" y="169" width="5" height="5" fill="#d85400"/><rect x="499" y="169" width="5" height="5" fill="#cc4800"/><rect x="504" y="169" width="5" height="5" fill="#c03000"/><rect x="509" y="169" width="5" height="5" fill="#b42400"/><rect x="514" y="169" width="5" height="5" fill="#a81854"/><rect x="519" y="169" width="5" height="5" fill="#9c0cb4"/><rect x="524" y="169" width="5" height="5" fill="#840cf0"/><rect x="529" y="169" width="5" height="5" fill="#6c00f0"/><rect x="534" y="169" width="5" height="5" fill="#54009c"/><rect x="539" y="169" width="5" height="5" fill="#240024"/><rect x="544" y="169" width="5" height="5" fill="#540090"/><rect x="549" y="169" width="5" height="5" fill="#6c00f0"/><rect x="554" y="169" width="5" height="5" fill="#8400fc"/><rect x="559" y="169" width="5" height="5" fill="#9c0ccc"/><rect x="564" y="169" width="5" height="5" fill="#a81884"/><rect x="569" y="169" width="5" height="5" fill="#b41830"/><rect x="574" y="169" width="5" height="5" fill="#b42400"/><rect x="579" y="169" width="5" height="5" fill="#c02400"/><rect x="584" y="169" width="10" height="5" fill="#c03000"/><rect x="594" y="169" width="15" height="5" fill="#cc3c00"/><rect x="609" y="169" width="5" height="5" fill="#c03000"/><rect x="614" y="169" width="5" height="5" fill="#b42400"/><rect x="619" y="169" width="5" height="5" fill="#a8183c"/><rect x="624" y="169" width="5" height="5" fill="#a80c90"/><rect x="629" y="169" width="5" height="5" fill="#9c0ccc"/><rect x="634" y="169" width="3" height="5" fill="#900cf0"/><rect x="439" y="174" width="5" height="5" fill="#7800fc"/><rect x="444" y="174" width="5" height="5" fill="#900cf0"/><rect x="449" y="174" width="5" height="5" fill="#9c0cb4"/><rect x="454" y="174" width="5" height="5" fill="#a81854"/><rect x="459" y="174" width="5" height="5" fill="#b42400"/><rect x="464" y="174" width="5" height="5" fill="#c03000"/><rect x="469" y="174" width="5" height="5" fill="#cc4800"/><rect x="474" y="174" width="5" height="5" fill="#d85400"/><rect x="479" y="174" width="5" height="5" fill="#d86000"/><rect x="484" y="174" width="10" height="5" fill="#d86c00"/><rect x="494" y="174" width="5" height="5" fill="#d86000"/><rect x="499" y="174" width="5" height="5" fill="#cc4800"/><rect x="504" y="174" width="5" height="5" fill="#c03c00"/><rect x="509" y="174" width="5" height="5" fill="#b42400"/><rect x="514" y="174" width="5" height="5" fill="#a81848"/><rect x="519" y="174" width="5" height="5" fill="#9c0cb4"/><rect x="524" y="174" width="5" height="5" fill="#840cf0"/><rect x="529" y="174" width="5" height="5" fill="#6c00f0"/><rect x="534" y="174" width="5" height="5" fill="#540090"/><rect x="539" y="174" width="5" height="5" fill="#240024"/><rect x="544" y="174" width="5" height="5" fill="#540090"/><rect x="549" y="174" width="5" height="5" fill="#6c00f0"/><rect x="554" y="174" width="5" height="5" fill="#8400fc"/><rect x="559" y="174" width="5" height="5" fill="#9c0ccc"/><rect x="564" y="174" width="5" height="5" fill="#a81878"/><rect x="569" y="174" width="5" height="5" fill="#b41824"/><rect x="574" y="174" width="5" height="5" fill="#b42400"/><rect x="579" y="174" width="10" height="5" fill="#c03000"/><rect x="589" y="174" width="20" height="5" fill="#cc3c00"/><rect x="609" y="174" width="5" height="5" fill="#c03000"/><rect x="614" y="174" width="5" height="5" fill="#c02400"/><rect x="619" y="174" width="5" height="5" fill="#b41824"/><rect x="624" y="174" width="5" height="5" fill="#a81884"/><rect x="629" y="174" width="5" height="5" fill="#9c0ccc"/><rect x="634" y="174" width="3" height="5" fill="#900cf0"/><rect x="439" y="179" width="5" height="5" fill="#7800fc"/><rect x="444" y="179" width="5" height="5" fill="#900cf0"/><rect x="449" y="179" width="5" height="5" fill="#9c0cb4"/><rect x="454" y="179" width="5" height="5" fill="#a81854"/><rect x="459" y="179" width="5" height="5" fill="#b42400"/><rect x="464" y="179" width="5" height="5" fill="#c03000"/><rect x="469" y="179" width="5" height="5" fill="#cc4800"/><rect x="474" y="179" width="5" height="5" fill="#d85400"/><rect x="479" y="179" width="5" height="5" fill="#d86000"/><rect x="484" y="179" width="10" height="5" fill="#d86c00"/><rect x="494" y="179" width="5" height="5" fill="#d86000"/><rect x="499" y="179" width="5" height="5" fill="#cc4800"/><rect x="504" y="179" width="5" height="5" fill="#c03000"/><rect x="509" y="179" width="5" height="5" fill="#b42400"/><rect x="514" y="179" width="5" height="5" fill="#a81848"/><rect x="519" y="179" width="5" height="5" fill="#9c0cb4"/><rect x="524" y="179" width="5" height="5" fill="#840cf0"/><rect x="529" y="179" width="5" height="5" fill="#6c00f0"/><rect x="534" y="179" width="5" height="5" fill="#540090"/><rect x="539" y="179" width="5" height="5" fill="#240024"/><rect x="544" y="179" width="5" height="5" fill="#540090"/><rect x="549" y="179" width="5" height="5" fill="#6c00f0"/><rect x="554" y="179" width="5" height="5" fill="#8400fc"/><rect x="559" y="179" width="5" height="5" fill="#9c0ccc"/><rect x="564" y="179" width="5" height="5" fill="#a81878"/><rect x="569" y="179" width="5" height="5" fill="#b41830"/><rect x="574" y="179" width="5" height="5" fill="#b42400"/><rect x="579" y="179" width="10" height="5" fill="#c03000"/><rect x="589" y="179" width="5" height="5" fill="#c03c00"/><rect x="594" y="179" width="15" height="5" fill="#cc3c00"/><rect x="609" y="179" width="5" height="5" fill="#c03000"/><rect x="614" y="179" width="5" height="5" fill="#b42400"/><rect x="619" y="179" width="5" height="5" fill="#b41830"/><rect x="624" y="179" width="5" height="5" fill="#a81884"/><rect x="629" y="179" width="5" height="5" fill="#9c0ccc"/><rect x="634" y="179" width="3" height="5" fill="#900cf0"/><rect x="439" y="184" width="5" height="5" fill="#7800fc"/><rect x="444" y="184" width="5" height="5" fill="#900cf0"/><rect x="449" y="184" width="5" height="5" fill="#9c0cc0"/><rect x="454" y="184" width="5" height="5" fill="#a81860"/><rect x="459" y="184" width="5" height="5" fill="#b4240c"/><rect x="464" y="184" width="5" height="5" fill="#c03000"/><rect x="469" y="184" width="5" height="5" fill="#cc3c00"/><rect x="474" y="184" width="5" height="5" fill="#cc4800"/><rect x="479" y="184" width="5" height="5" fill="#d85400"/><rect x="484" y="184" width="10" height="5" fill="#d86000"/><rect x="494" y="184" width="5" height="5" fill="#d85400"/><rect x="499" y="184" width="5" height="5" fill="#cc3c00"/><rect x="504" y="184" width="5" height="5" fill="#c03000"/><rect x="509" y="184" width="5" height="5" fill="#b4240c"/><rect x="514" y="184" width="5" height="5" fill="#a81854"/><rect x="519" y="184" width="5" height="5" fill="#9c0cc0"/><rect x="524" y="184" width="5" height="5" fill="#8400fc"/><rect x="529" y="184" width="5" height="5" fill="#6c00f0"/><rect x="534" y="184" width="5" height="5" fill="#54009c"/><rect x="539" y="184" width="5" height="5" fill="#240024"/><rect x="544" y="184" width="5" height="5" fill="#540090"/><rect x="549" y="184" width="5" height="5" fill="#6c00f0"/><rect x="554" y="184" width="5" height="5" fill="#8400fc"/><rect x="559" y="184" width="5" height="5" fill="#9c0ccc"/><rect x="564" y="184" width="5" height="5" fill="#a80c84"/><rect x="569" y="184" width="5" height="5" fill="#a8183c"/><rect x="574" y="184" width="5" height="5" fill="#b4240c"/><rect x="579" y="184" width="5" height="5" fill="#c02400"/><rect x="584" y="184" width="15" height="5" fill="#c03000"/><rect x="599" y="184" width="5" height="5" fill="#c03c00"/><rect x="604" y="184" width="10" height="5" fill="#c03000"/><rect x="614" y="184" width="5" height="5" fill="#b42400"/><rect x="619" y="184" width="5" height="5" fill="#a81848"/><rect x="624" y="184" width="5" height="5" fill="#9c0c9c"/><rect x="629" y="184" width="5" height="5" fill="#900cd8"/><rect x="634" y="184" width="3" height="5" fill="#900cf0"/><rect x="439" y="189" width="5" height="5" fill="#7800fc"/><rect x="444" y="189" width="5" height="5" fill="#840cf0"/><rect x="449" y="189" width="5" height="5" fill="#9c0ccc"/><rect x="454" y="189" width="5" height="5" fill="#a81884"/><rect x="459" y="189" width="5" height="5" fill="#b41824"/><rect x="464" y="189" width="5" height="5" fill="#c02400"/><rect x="469" y="189" width="5" height="5" fill="#c03000"/><rect x="474" y="189" width="5" height="5" fill="#cc3c00"/><rect x="479" y="189" width="15" height="5" fill="#cc4800"/><rect x="494" y="189" width="5" height="5" fill="#cc3c00"/><rect x="499" y="189" width="5" height="5" fill="#c03000"/><rect x="504" y="189" width="5" height="5" fill="#c02400"/><rect x="509" y="189" width="5" height="5" fill="#b41824"/><rect x="514" y="189" width="5" height="5" fill="#a81878"/><rect x="519" y="189" width="5" height="5" fill="#9c0ccc"/><rect x="524" y="189" width="5" height="5" fill="#8400fc"/><rect x="529" y="189" width="5" height="5" fill="#6c00f0"/><rect x="534" y="189" width="5" height="5" fill="#54009c"/><rect x="539" y="189" width="5" height="5" fill="#240030"/><rect x="544" y="189" width="5" height="5" fill="#480090"/><rect x="549" y="189" width="5" height="5" fill="#6c00f0"/><rect x="554" y="189" width="5" height="5" fill="#8400fc"/><rect x="559" y="189" width="5" height="5" fill="#9c0ccc"/><rect x="564" y="189" width="5" height="5" fill="#9c0c9c"/><rect x="569" y="189" width="5" height="5" fill="#a81860"/><rect x="574" y="189" width="5" height="5" fill="#b41830"/><rect x="579" y="189" width="5" height="5" fill="#b4240c"/><rect x="584" y="189" width="5" height="5" fill="#b42400"/><rect x="589" y="189" width="5" height="5" fill="#c02400"/><rect x="594" y="189" width="10" height="5" fill="#c03000"/><rect x="604" y="189" width="5" height="5" fill="#c02400"/><rect x="609" y="189" width="5" height="5" fill="#b42400"/><rect x="614" y="189" width="5" height="5" fill="#b41824"/><rect x="619" y="189" width="5" height="5" fill="#a81878"/><rect x="624" y="189" width="5" height="5" fill="#9c0cb4"/><rect x="629" y="189" width="5" height="5" fill="#900ce4"/><rect x="634" y="189" width="3" height="5" fill="#8400fc"/><rect x="439" y="194" width="5" height="5" fill="#7800fc"/><rect x="444" y="194" width="5" height="5" fill="#8400fc"/><rect x="449" y="194" width="5" height="5" fill="#900cd8"/><rect x="454" y="194" width="5" height="5" fill="#9c0ca8"/><rect x="459" y="194" width="5" height="5" fill="#a81854"/><rect x="464" y="194" width="5" height="5" fill="#b41818"/><rect x="469" y="194" width="5" height="5" fill="#b42400"/><rect x="474" y="194" width="10" height="5" fill="#c03000"/><rect x="484" y="194" width="5" height="5" fill="#c03c00"/><rect x="489" y="194" width="10" height="5" fill="#c03000"/><rect x="499" y="194" width="5" height="5" fill="#b42400"/><rect x="504" y="194" width="5" height="5" fill="#b41824"/><rect x="509" y="194" width="5" height="5" fill="#a8186c"/><rect x="514" y="194" width="5" height="5" fill="#9c0ca8"/><rect x="519" y="194" width="5" height="5" fill="#900ce4"/><rect x="524" y="194" width="5" height="5" fill="#8400fc"/><rect x="529" y="194" width="5" height="5" fill="#6c00e4"/><rect x="534" y="194" width="5" height="5" fill="#54009c"/><rect x="539" y="194" width="5" height="5" fill="#240024"/><rect x="544" y="194" width="5" height="5" fill="#480090"/><rect x="549" y="194" width="5" height="5" fill="#6c00f0"/><rect x="554" y="194" width="5" height="5" fill="#8400fc"/><rect x="559" y="194" width="5" height="5" fill="#900cd8"/><rect x="564" y="194" width="5" height="5" fill="#9c0cb4"/><rect x="569" y="194" width="5" height="5" fill="#a80c90"/><rect x="574" y="194" width="5" height="5" fill="#a8186c"/><rect x="579" y="194" width="5" height="5" fill="#a81848"/><rect x="584" y="194" width="5" height="5" fill="#b41830"/><rect x="589" y="194" width="5" height="5" fill="#b41818"/><rect x="594" y="194" width="10" height="5" fill="#b4240c"/><rect x="604" y="194" width="5" height="5" fill="#b42418"/><rect x="609" y="194" width="5" height="5" fill="#a8183c"/><rect x="614" y="194" width="5" height="5" fill="#a8186c"/><rect x="619" y="194" width="5" height="5" fill="#9c0ca8"/><rect x="624" y="194" width="5" height="5" fill="#900cd8"/><rect x="629" y="194" width="5" height="5" fill="#840cfc"/><rect x="634" y="194" width="3" height="5" fill="#8400fc"/><rect x="439" y="199" width="5" height="5" fill="#7800fc"/><rect x="444" y="199" width="5" height="5" fill="#8400fc"/><rect x="449" y="199" width="5" height="5" fill="#900cf0"/><rect x="454" y="199" width="5" height="5" fill="#9c0ccc"/><rect x="459" y="199" width="5" height="5" fill="#9c0c9c"/><rect x="464" y="199" width="5" height="5" fill="#a8186c"/><rect x="469" y="199" width="5" height="5" fill="#a8183c"/><rect x="474" y="199" width="5" height="5" fill="#b41824"/><rect x="479" y="199" width="15" height="5" fill="#b4240c"/><rect x="494" y="199" width="5" height="5" fill="#b42418"/><rect x="499" y="199" width="5" height="5" fill="#a81848"/><rect x="504" y="199" width="5" height="5" fill="#a81884"/><rect x="509" y="199" width="5" height="5" fill="#9c0cb4"/><rect x="514" y="199" width="5" height="5" fill="#900cd8"/><rect x="519" y="199" width="5" height="5" fill="#8400fc"/><rect x="524" y="199" width="5" height="5" fill="#7800fc"/><rect x="529" y="199" width="5" height="5" fill="#6c00d8"/><rect x="534" y="199" width="5" height="5" fill="#480084"/><rect x="539" y="199" width="5" height="5" fill="#240024"/><rect x="544" y="199" width="5" height="5" fill="#540090"/><rect x="549" y="199" width="5" height="5" fill="#6c00e4"/><rect x="554" y="199" width="5" height="5" fill="#8400fc"/><rect x="559" y="199" width="5" height="5" fill="#900ce4"/><rect x="564" y="199" width="5" height="5" fill="#9c0ccc"/><rect x="569" y="199" width="5" height="5" fill="#9c0cc0"/><rect x="574" y="199" width="5" height="5" fill="#9c0ca8"/><rect x="579" y="199" width="5" height="5" fill="#9c0c90"/><rect x="584" y="199" width="5" height="5" fill="#a81884"/><rect x="589" y="199" width="5" height="5" fill="#a81878"/><rect x="594" y="199" width="10" height="5" fill="#a8186c"/><rect x="604" y="199" width="5" height="5" fill="#a81878"/><rect x="609" y="199" width="5" height="5" fill="#9c0c90"/><rect x="614" y="199" width="5" height="5" fill="#9c0cb4"/><rect x="619" y="199" width="5" height="5" fill="#900cd8"/><rect x="624" y="199" width="5" height="5" fill="#840cf0"/><rect x="629" y="199" width="5" height="5" fill="#8400fc"/><rect x="634" y="199" width="3" height="5" fill="#7800fc"/><rect x="439" y="204" width="5" height="5" fill="#7800fc"/><rect x="444" y="204" width="10" height="5" fill="#8400fc"/><rect x="454" y="204" width="5" height="5" fill="#900ce4"/><rect x="459" y="204" width="5" height="5" fill="#9c0ccc"/><rect x="464" y="204" width="5" height="5" fill="#9c0cb4"/><rect x="469" y="204" width="5" height="5" fill="#9c0ca8"/><rect x="474" y="204" width="5" height="5" fill="#9c0c90"/><rect x="479" y="204" width="5" height="5" fill="#a80c84"/><rect x="484" y="204" width="5" height="5" fill="#a81878"/><rect x="489" y="204" width="5" height="5" fill="#a81884"/><rect x="494" y="204" width="5" height="5" fill="#9c0c90"/><rect x="499" y="204" width="5" height="5" fill="#9c0cb4"/><rect x="504" y="204" width="5" height="5" fill="#900cd8"/><rect x="509" y="204" width="5" height="5" fill="#900cf0"/><rect x="514" y="204" width="5" height="5" fill="#8400fc"/><rect x="519" y="204" width="5" height="5" fill="#7800fc"/><rect x="524" y="204" width="5" height="5" fill="#6c00e4"/><rect x="529" y="204" width="5" height="5" fill="#6000b4"/><rect x="534" y="204" width="5" height="5" fill="#3c0060"/><rect x="539" y="204" width="5" height="5" fill="#240024"/><rect x="544" y="204" width="5" height="5" fill="#54009c"/><rect x="549" y="204" width="5" height="5" fill="#6c00e4"/><rect x="554" y="204" width="5" height="5" fill="#7800fc"/><rect x="559" y="204" width="5" height="5" fill="#8400fc"/><rect x="564" y="204" width="5" height="5" fill="#900cf0"/><rect x="569" y="204" width="5" height="5" fill="#900ce4"/><rect x="574" y="204" width="10" height="5" fill="#900cd8"/><rect x="584" y="204" width="25" height="5" fill="#9c0ccc"/><rect x="609" y="204" width="5" height="5" fill="#900cd8"/><rect x="614" y="204" width="5" height="5" fill="#900cf0"/><rect x="619" y="204" width="10" height="5" fill="#8400fc"/><rect x="629" y="204" width="5" height="5" fill="#7800f0"/><rect x="634" y="204" width="3" height="5" fill="#6c00e4"/><rect x="439" y="209" width="5" height="5" fill="#7800f0"/><rect x="444" y="209" width="5" height="5" fill="#7800fc"/><rect x="449" y="209" width="10" height="5" fill="#8400fc"/><rect x="459" y="209" width="5" height="5" fill="#840cf0"/><rect x="464" y="209" width="10" height="5" fill="#900cf0"/><rect x="474" y="209" width="20" height="5" fill="#900ce4"/><rect x="494" y="209" width="5" height="5" fill="#900cf0"/><rect x="499" y="209" width="10" height="5" fill="#8400fc"/><rect x="509" y="209" width="5" height="5" fill="#7800fc"/><rect x="514" y="209" width="5" height="5" fill="#6c00f0"/><rect x="519" y="209" width="5" height="5" fill="#6c00d8"/><rect x="524" y="209" width="5" height="5" fill="#5400b4"/><rect x="529" y="209" width="5" height="5" fill="#480078"/><rect x="534" y="209" width="5" height="5" fill="#240030"/><rect x="539" y="209" width="5" height="5" fill="#30003c"/><rect x="544" y="209" width="5" height="5" fill="#5400a8"/><rect x="549" y="209" width="5" height="5" fill="#6c00e4"/><rect x="554" y="209" width="5" height="5" fill="#7800fc"/><rect x="559" y="209" width="55" height="5" fill="#8400fc"/><rect x="614" y="209" width="10" height="5" fill="#7800fc"/><rect x="624" y="209" width="5" height="5" fill="#6c00f0"/><rect x="629" y="209" width="5" height="5" fill="#6c00d8"/><rect x="634" y="209" width="3" height="5" fill="#6000c0"/><rect x="439" y="214" width="5" height="5" fill="#6c00f0"/><rect x="444" y="214" width="40" height="5" fill="#7800fc"/><rect x="484" y="214" width="15" height="5" fill="#7800f0"/><rect x="499" y="214" width="5" height="5" fill="#6c00e4"/><rect x="504" y="214" width="5" height="5" fill="#6c00d8"/><rect x="509" y="214" width="5" height="5" fill="#6000c0"/><rect x="514" y="214" width="5" height="5" fill="#5400a8"/><rect x="519" y="214" width="5" height="5" fill="#480084"/><rect x="524" y="214" width="5" height="5" fill="#3c0054"/><rect x="529" y="214" width="10" height="5" fill="#240024"/><rect x="539" y="214" width="5" height="5" fill="#48006c"/><rect x="544" y="214" width="5" height="5" fill="#5400b4"/><rect x="549" y="214" width="5" height="5" fill="#6000d8"/><rect x="554" y="214" width="5" height="5" fill="#6c00e4"/><rect x="559" y="214" width="30" height="5" fill="#7800f0"/><rect x="589" y="214" width="15" height="5" fill="#6c00f0"/><rect x="604" y="214" width="10" height="5" fill="#6c00e4"/><rect x="614" y="214" width="5" height="5" fill="#6c00d8"/><rect x="619" y="214" width="5" height="5" fill="#6000cc"/><rect x="624" y="214" width="5" height="5" fill="#6000c0"/><rect x="629" y="214" width="5" height="5" fill="#54009c"/><rect x="634" y="214" width="3" height="5" fill="#480084"/><rect x="439" y="219" width="5" height="5" fill="#6c00e4"/><rect x="444" y="219" width="5" height="5" fill="#6c00f0"/><rect x="449" y="219" width="5" height="5" fill="#6c00e4"/><rect x="454" y="219" width="5" height="5" fill="#6c00d8"/><rect x="459" y="219" width="5" height="5" fill="#6000d8"/><rect x="464" y="219" width="5" height="5" fill="#6000cc"/><rect x="469" y="219" width="5" height="5" fill="#6000c0"/><rect x="474" y="219" width="5" height="5" fill="#6000b4"/><rect x="479" y="219" width="5" height="5" fill="#5400b4"/><rect x="484" y="219" width="15" height="5" fill="#5400a8"/><rect x="499" y="219" width="5" height="5" fill="#480090"/><rect x="504" y="219" width="5" height="5" fill="#48006c"/><rect x="509" y="219" width="5" height="5" fill="#300048"/><rect x="514" y="219" width="5" height="5" fill="#240030"/><rect x="519" y="219" width="5" height="5" fill="#240024"/><rect x="524" y="219" width="5" height="5" fill="#240030"/><rect x="529" y="219" width="5" height="5" fill="#3c0048"/><rect x="534" y="219" width="5" height="5" fill="#480078"/><rect x="539" y="219" width="5" height="5" fill="#54009c"/><rect x="544" y="219" width="5" height="5" fill="#6000c0"/><rect x="549" y="219" width="20" height="5" fill="#6000cc"/><rect x="569" y="219" width="10" height="5" fill="#6000c0"/><rect x="579" y="219" width="5" height="5" fill="#6000b4"/><rect x="584" y="219" width="5" height="5" fill="#5400b4"/><rect x="589" y="219" width="10" height="5" fill="#5400a8"/><rect x="599" y="219" width="10" height="5" fill="#54009c"/><rect x="609" y="219" width="5" height="5" fill="#540090"/><rect x="614" y="219" width="5" height="5" fill="#480084"/><rect x="619" y="219" width="5" height="5" fill="#480078"/><rect x="624" y="219" width="5" height="5" fill="#3c0060"/><rect x="629" y="219" width="5" height="5" fill="#3c0054"/><rect x="634" y="219" width="3" height="5" fill="#30003c"/><rect x="439" y="224" width="5" height="4" fill="#6000d8"/><rect x="444" y="224" width="5" height="4" fill="#6c00d8"/><rect x="449" y="224" width="5" height="4" fill="#6000c0"/><rect x="454" y="224" width="5" height="4" fill="#5400a8"/><rect x="459" y="224" width="5" height="4" fill="#540090"/><rect x="464" y="224" width="5" height="4" fill="#480078"/><rect x="469" y="224" width="5" height="4" fill="#3c0060"/><rect x="474" y="224" width="5" height="4" fill="#3c0054"/><rect x="479" y="224" width="5" height="4" fill="#300048"/><rect x="484" y="224" width="10" height="4" fill="#240030"/><rect x="494" y="224" width="15" height="4" fill="#240024"/><rect x="509" y="224" width="5" height="4" fill="#30003c"/><rect x="514" y="224" width="5" height="4" fill="#3c0054"/><rect x="519" y="224" width="5" height="4" fill="#480078"/><rect x="524" y="224" width="5" height="4" fill="#540090"/><rect x="529" y="224" width="5" height="4" fill="#5400a8"/><rect x="534" y="224" width="5" height="4" fill="#6000b4"/><rect x="539" y="224" width="10" height="4" fill="#6000cc"/><rect x="549" y="224" width="5" height="4" fill="#6000c0"/><rect x="554" y="224" width="5" height="4" fill="#5400b4"/><rect x="559" y="224" width="5" height="4" fill="#54009c"/><rect x="564" y="224" width="5" height="4" fill="#480090"/><rect x="569" y="224" width="5" height="4" fill="#480078"/><rect x="574" y="224" width="5" height="4" fill="#48006c"/><rect x="579" y="224" width="5" height="4" fill="#3c0060"/><rect x="584" y="224" width="5" height="4" fill="#3c0054"/><rect x="589" y="224" width="5" height="4" fill="#300048"/><rect x="594" y="224" width="5" height="4" fill="#30003c"/><rect x="599" y="224" width="5" height="4" fill="#300030"/><rect x="604" y="224" width="5" height="4" fill="#240030"/><rect x="609" y="224" width="10" height="4" fill="#240024"/><rect x="619" y="224" width="5" height="4" fill="#180018"/><rect x="624" y="224" width="5" height="4" fill="#240018"/><rect x="629" y="224" width="5" height="4" fill="#180018"/><rect x="634" y="224" width="3" height="4" fill="#240024"/><defs><linearGradient id="cbg" x1="0" y1="0" x2="0" y2="1"><stop offset="0.000" stop-color="#fffd00"/><stop offset="0.025" stop-color="#fcee00"/><stop offset="0.050" stop-color="#f9dc00"/><stop offset="0.075" stop-color="#f5cb00"/><stop offset="0.100" stop-color="#f2bb00"/><stop offset="0.125" stop-color="#efac00"/><stop offset="0.150" stop-color="#eb9d00"/><stop offset="0.175" stop-color="#e89000"/><stop offset="0.200" stop-color="#e48300"/><stop offset="0.225" stop-color="#e17700"/><stop offset="0.250" stop-color="#dd6c00"/><stop offset="0.275" stop-color="#d96100"/><stop offset="0.300" stop-color="#d55700"/><stop offset="0.325" stop-color="#d14e00"/><stop offset="0.350" stop-color="#ce4700"/><stop offset="0.375" stop-color="#ca3f00"/><stop offset="0.400" stop-color="#c63800"/><stop offset="0.425" stop-color="#c23100"/><stop offset="0.450" stop-color="#be2b00"/><stop offset="0.475" stop-color="#b92500"/><stop offset="0.500" stop-color="#b52000"/><stop offset="0.525" stop-color="#b01c24"/><stop offset="0.550" stop-color="#ab184c"/><stop offset="0.575" stop-color="#a71471"/><stop offset="0.600" stop-color="#a21194"/><stop offset="0.625" stop-color="#9c0eb3"/><stop offset="0.650" stop-color="#970bcd"/><stop offset="0.675" stop-color="#9309df"/><stop offset="0.700" stop-color="#8d07f0"/><stop offset="0.725" stop-color="#8706fa"/><stop offset="0.750" stop-color="#8104ff"/><stop offset="0.775" stop-color="#7a03fd"/><stop offset="0.800" stop-color="#7302f5"/><stop offset="0.825" stop-color="#6c01e6"/><stop offset="0.850" stop-color="#6401d2"/><stop offset="0.875" stop-color="#5c01b9"/><stop offset="0.900" stop-color="#52009a"/><stop offset="0.925" stop-color="#470078"/><stop offset="0.950" stop-color="#3b0053"/><stop offset="0.975" stop-color="#2b002c"/><stop offset="1.000" stop-color="#0d0004"/></linearGradient></defs><rect x="283" y="29" width="9" height="198" fill="url(#cbg)"/><rect x="643" y="29" width="9" height="198" fill="url(#cbg)"/></svg>
<canvas id="ha" width="198" height="199" style="left:79px;top:29px"></canvas>
<canvas id="hb" width="198" height="199" style="left:439px;top:29px"></canvas>
<canvas id="ca" width="9" height="198" style="left:283px;top:29px"></canvas>
<canvas id="cb" width="9" height="198" style="left:643px;top:29px"></canvas>
<svg width="685" height="539" viewBox="0 0 685 539">
<path d="M78.5 28.5H277.5 M78.5 28.5V227.5 M78.5 227.5H277.5" stroke="#222" stroke-width="1" fill="none"/>
<path d="M277.5 28.5V227.5" stroke="#555" stroke-width="1.2" fill="none"/>
<path d="M73.5 227.5H78.5" stroke="#222" stroke-width="1"/>
<path d="M76.0 217.5H78.5" stroke="#222" stroke-width="1"/>
<path d="M76.0 207.5H78.5" stroke="#222" stroke-width="1"/>
<path d="M76.0 197.5H78.5" stroke="#222" stroke-width="1"/>
<path d="M76.0 187.5H78.5" stroke="#222" stroke-width="1"/>
<path d="M73.5 177.5H78.5" stroke="#222" stroke-width="1"/>
<path d="M76.0 167.5H78.5" stroke="#222" stroke-width="1"/>
<path d="M76.0 157.5H78.5" stroke="#222" stroke-width="1"/>
<path d="M76.0 147.5H78.5" stroke="#222" stroke-width="1"/>
<path d="M76.0 137.5H78.5" stroke="#222" stroke-width="1"/>
<path d="M73.5 128.5H78.5" stroke="#222" stroke-width="1"/>
<path d="M76.0 118.5H78.5" stroke="#222" stroke-width="1"/>
<path d="M76.0 108.5H78.5" stroke="#222" stroke-width="1"/>
<path d="M76.0 98.5H78.5" stroke="#222" stroke-width="1"/>
<path d="M76.0 88.5H78.5" stroke="#222" stroke-width="1"/>
<path d="M73.5 78.5H78.5" stroke="#222" stroke-width="1"/>
<path d="M76.0 68.5H78.5" stroke="#222" stroke-width="1"/>
<path d="M76.0 58.5H78.5" stroke="#222" stroke-width="1"/>
<path d="M76.0 48.5H78.5" stroke="#222" stroke-width="1"/>
<path d="M76.0 38.5H78.5" stroke="#222" stroke-width="1"/>
<path d="M73.5 28.5H78.5" stroke="#222" stroke-width="1"/>
<path d="M78.5 227.5V232.5" stroke="#222" stroke-width="1"/>
<path d="M85.5 227.5V230.0" stroke="#222" stroke-width="1"/>
<path d="M91.5 227.5V230.0" stroke="#222" stroke-width="1"/>
<path d="M98.5 227.5V230.0" stroke="#222" stroke-width="1"/>
<path d="M104.5 227.5V230.0" stroke="#222" stroke-width="1"/>
<path d="M111.5 227.5V232.5" stroke="#222" stroke-width="1"/>
<path d="M118.5 227.5V230.0" stroke="#222" stroke-width="1"/>
<path d="M124.5 227.5V230.0" stroke="#222" stroke-width="1"/>
<path d="M131.5 227.5V230.0" stroke="#222" stroke-width="1"/>
<path d="M138.5 227.5V230.0" stroke="#222" stroke-width="1"/>
<path d="M144.5 227.5V232.5" stroke="#222" stroke-width="1"/>
<path d="M151.5 227.5V230.0" stroke="#222" stroke-width="1"/>
<path d="M157.5 227.5V230.0" stroke="#222" stroke-width="1"/>
<path d="M164.5 227.5V230.0" stroke="#222" stroke-width="1"/>
<path d="M171.5 227.5V230.0" stroke="#222" stroke-width="1"/>
<path d="M177.5 227.5V232.5" stroke="#222" stroke-width="1"/>
<path d="M184.5 227.5V230.0" stroke="#222" stroke-width="1"/>
<path d="M190.5 227.5V230.0" stroke="#222" stroke-width="1"/>
<path d="M197.5 227.5V230.0" stroke="#222" stroke-width="1"/>
<path d="M204.5 227.5V230.0" stroke="#222" stroke-width="1"/>
<path d="M210.5 227.5V232.5" stroke="#222" stroke-width="1"/>
<path d="M217.5 227.5V230.0" stroke="#222" stroke-width="1"/>
<path d="M224.5 227.5V230.0" stroke="#222" stroke-width="1"/>
<path d="M230.5 227.5V230.0" stroke="#222" stroke-width="1"/>
<path d="M237.5 227.5V230.0" stroke="#222" stroke-width="1"/>
<path d="M243.5 227.5V232.5" stroke="#222" stroke-width="1"/>
<path d="M250.5 227.5V230.0" stroke="#222" stroke-width="1"/>
<path d="M257.5 227.5V230.0" stroke="#222" stroke-width="1"/>
<path d="M263.5 227.5V230.0" stroke="#222" stroke-width="1"/>
<path d="M270.5 227.5V230.0" stroke="#222" stroke-width="1"/>
<path d="M277.5 227.5V232.5" stroke="#222" stroke-width="1"/>
<text x="61.8" y="230.7" text-anchor="end" font-family='"Liberation Serif", serif' font-size="12.5" fill="#222">0.0</text>
<text x="61.8" y="180.9" text-anchor="end" font-family='"Liberation Serif", serif' font-size="12.5" fill="#222">0.5</text>
<text x="61.8" y="131.2" text-anchor="end" font-family='"Liberation Serif", serif' font-size="12.5" fill="#222">1.0</text>
<text x="61.8" y="81.5" text-anchor="end" font-family='"Liberation Serif", serif' font-size="12.5" fill="#222">1.5</text>
<text x="61.8" y="31.7" text-anchor="end" font-family='"Liberation Serif", serif' font-size="12.5" fill="#222">2.0</text>
<text x="78.5" y="254.3" text-anchor="middle" font-family='"Liberation Serif", serif' font-size="12.5" fill="#222">0</text>
<text x="111.6" y="254.3" text-anchor="middle" font-family='"Liberation Serif", serif' font-size="12.5" fill="#222">1</text>
<text x="144.7" y="254.3" text-anchor="middle" font-family='"Liberation Serif", serif' font-size="12.5" fill="#222">2</text>
<text x="177.7" y="254.3" text-anchor="middle" font-family='"Liberation Serif", serif' font-size="12.5" fill="#222">3</text>
<text x="210.8" y="254.3" text-anchor="middle" font-family='"Liberation Serif", serif' font-size="12.5" fill="#222">4</text>
<text x="243.9" y="254.3" text-anchor="middle" font-family='"Liberation Serif", serif' font-size="12.5" fill="#222">5</text>
<text x="277.0" y="254.3" text-anchor="middle" font-family='"Liberation Serif", serif' font-size="12.5" fill="#222">6</text>
<text transform="translate(-0.01,130.90) scale(1.18,1)" font-family="&quot;Liberation Serif&quot;, serif" font-size="13.5" fill="#222">Δ</text>
<text transform="translate(10.55,130.90) scale(0.85,1)" font-family="&quot;Liberation Serif&quot;, serif" font-size="13.5" fill="#222">Φ</text>
<text x="19.25" y="133.20" font-family="&quot;Liberation Serif&quot;, serif" font-size="9.3" fill="#222">0</text>
<text transform="translate(25.40,133.70) scale(0.85,1)" font-family="&quot;Liberation Serif&quot;, serif" font-size="18" fill="#222">/</text>
<text x="32.13" y="130.90" font-family="&quot;Liberation Serif&quot;, serif" font-size="13.5" font-style="italic" fill="#222">π</text>
<text transform="translate(169.93,273.80) scale(0.92,1)" font-family="&quot;Liberation Serif&quot;, serif" font-size="14" fill="#222">Ω</text>
<text x="179.82" y="275.80" font-family="&quot;Liberation Serif&quot;, serif" font-size="9.5" font-style="italic" fill="#222">x</text>
<text x="81.62" y="12.80" font-family="&quot;Liberation Sans&quot;, sans-serif" font-size="19" fill="#333">(</text>
<text x="88.06" y="12.80" font-family="&quot;Liberation Sans&quot;, sans-serif" font-size="15" fill="#333">a</text>
<text x="96.69" y="12.80" font-family="&quot;Liberation Sans&quot;, sans-serif" font-size="19" fill="#333">)</text>
<rect x="282.5" y="28.5" width="10" height="199.0" fill="none" stroke="#222" stroke-width="1"/>
<path d="M292.5 227.5H295.8" stroke="#222" stroke-width="1"/>
<path d="M292.5 217.5H294.5" stroke="#222" stroke-width="1"/>
<path d="M292.5 207.5H295.8" stroke="#222" stroke-width="1"/>
<path d="M292.5 197.5H294.5" stroke="#222" stroke-width="1"/>
<path d="M292.5 187.5H295.8" stroke="#222" stroke-width="1"/>
<path d="M292.5 177.5H294.5" stroke="#222" stroke-width="1"/>
<path d="M292.5 167.5H295.8" stroke="#222" stroke-width="1"/>
<path d="M292.5 157.5H294.5" stroke="#222" stroke-width="1"/>
<path d="M292.5 147.5H295.8" stroke="#222" stroke-width="1"/>
<path d="M292.5 137.5H294.5" stroke="#222" stroke-width="1"/>
<path d="M292.5 128.5H295.8" stroke="#222" stroke-width="1"/>
<path d="M292.5 118.5H294.5" stroke="#222" stroke-width="1"/>
<path d="M292.5 108.5H295.8" stroke="#222" stroke-width="1"/>
<path d="M292.5 98.5H294.5" stroke="#222" stroke-width="1"/>
<path d="M292.5 88.5H295.8" stroke="#222" stroke-width="1"/>
<path d="M292.5 78.5H294.5" stroke="#222" stroke-width="1"/>
<path d="M292.5 68.5H295.8" stroke="#222" stroke-width="1"/>
<path d="M292.5 58.5H294.5" stroke="#222" stroke-width="1"/>
<path d="M292.5 48.5H295.8" stroke="#222" stroke-width="1"/>
<path d="M292.5 38.5H294.5" stroke="#222" stroke-width="1"/>
<path d="M292.5 28.5H295.8" stroke="#222" stroke-width="1"/>
<text x="304.3" y="230.6" font-family='"Liberation Serif", serif' font-size="12.5" fill="#222">0.00</text>
<text x="304.3" y="210.7" font-family='"Liberation Serif", serif' font-size="12.5" fill="#222">0.05</text>
<text x="304.3" y="190.8" font-family='"Liberation Serif", serif' font-size="12.5" fill="#222">0.10</text>
<text x="304.3" y="170.9" font-family='"Liberation Serif", serif' font-size="12.5" fill="#222">0.15</text>
<text x="304.3" y="151.0" font-family='"Liberation Serif", serif' font-size="12.5" fill="#222">0.20</text>
<text x="304.3" y="131.1" font-family='"Liberation Serif", serif' font-size="12.5" fill="#222">0.25</text>
<text x="304.3" y="111.2" font-family='"Liberation Serif", serif' font-size="12.5" fill="#222">0.30</text>
<text x="304.3" y="91.3" font-family='"Liberation Serif", serif' font-size="12.5" fill="#222">0.35</text>
<text x="304.3" y="71.4" font-family='"Liberation Serif", serif' font-size="12.5" fill="#222">0.40</text>
<text x="304.3" y="51.5" font-family='"Liberation Serif", serif' font-size="12.5" fill="#222">0.45</text>
<text x="304.3" y="31.6" font-family='"Liberation Serif", serif' font-size="12.5" fill="#222">0.50</text>
<path d="M274.1 2V14.2 M300.5 2V14.2" stroke="#444" stroke-width="0.9" fill="none"/>
<path d="M280.6 2L277.9 8.1L280.6 14.2" stroke="#333" stroke-width="0.8" fill="none"/>
<path d="M294.8 2L298.3 8.1L294.8 14.2" stroke="#333" stroke-width="0.8" fill="none"/>
<text x="281.01" y="11.10" font-family="&quot;Liberation Serif&quot;, serif" font-size="13" font-style="italic" fill="#2a2a2a">σ</text>
<text x="288.89" y="13.00" font-family="&quot;Liberation Serif&quot;, serif" font-size="9.5" font-style="italic" fill="#2a2a2a">y</text>
<text x="302.28" y="15.40" font-family="&quot;Liberation Serif&quot;, serif" font-size="8.2" fill="#2a2a2a">Ω</text>
<text transform="translate(310.71,17.30) scale(1.25,1)" font-family="&quot;Liberation Serif&quot;, serif" font-size="7.2" font-style="italic" fill="#2a2a2a">L</text>
<path d="M164.75 34.7V227" stroke="#fff" stroke-width="1.4" stroke-dasharray="5 6.7" fill="none"/>
<path d="M438.5 28.5H637.5 M438.5 28.5V227.5 M438.5 227.5H637.5" stroke="#222" stroke-width="1" fill="none"/>
<path d="M637.5 28.5V227.5" stroke="#555" stroke-width="1.2" fill="none"/>
<path d="M433.5 227.5H438.5" stroke="#222" stroke-width="1"/>
<path d="M436.0 217.5H438.5" stroke="#222" stroke-width="1"/>
<path d="M436.0 207.5H438.5" stroke="#222" stroke-width="1"/>
<path d="M436.0 197.5H438.5" stroke="#222" stroke-width="1"/>
<path d="M436.0 187.5H438.5" stroke="#222" stroke-width="1"/>
<path d="M433.5 177.5H438.5" stroke="#222" stroke-width="1"/>
<path d="M436.0 167.5H438.5" stroke="#222" stroke-width="1"/>
<path d="M436.0 157.5H438.5" stroke="#222" stroke-width="1"/>
<path d="M436.0 147.5H438.5" stroke="#222" stroke-width="1"/>
<path d="M436.0 137.5H438.5" stroke="#222" stroke-width="1"/>
<path d="M433.5 128.5H438.5" stroke="#222" stroke-width="1"/>
<path d="M436.0 118.5H438.5" stroke="#222" stroke-width="1"/>
<path d="M436.0 108.5H438.5" stroke="#222" stroke-width="1"/>
<path d="M436.0 98.5H438.5" stroke="#222" stroke-width="1"/>
<path d="M436.0 88.5H438.5" stroke="#222" stroke-width="1"/>
<path d="M433.5 78.5H438.5" stroke="#222" stroke-width="1"/>
<path d="M436.0 68.5H438.5" stroke="#222" stroke-width="1"/>
<path d="M436.0 58.5H438.5" stroke="#222" stroke-width="1"/>
<path d="M436.0 48.5H438.5" stroke="#222" stroke-width="1"/>
<path d="M436.0 38.5H438.5" stroke="#222" stroke-width="1"/>
<path d="M433.5 28.5H438.5" stroke="#222" stroke-width="1"/>
<path d="M438.5 227.5V232.5" stroke="#222" stroke-width="1"/>
<path d="M445.5 227.5V230.0" stroke="#222" stroke-width="1"/>
<path d="M451.5 227.5V230.0" stroke="#222" stroke-width="1"/>
<path d="M458.5 227.5V230.0" stroke="#222" stroke-width="1"/>
<path d="M464.5 227.5V230.0" stroke="#222" stroke-width="1"/>
<path d="M471.5 227.5V232.5" stroke="#222" stroke-width="1"/>
<path d="M478.5 227.5V230.0" stroke="#222" stroke-width="1"/>
<path d="M484.5 227.5V230.0" stroke="#222" stroke-width="1"/>
<path d="M491.5 227.5V230.0" stroke="#222" stroke-width="1"/>
<path d="M498.5 227.5V230.0" stroke="#222" stroke-width="1"/>
<path d="M504.5 227.5V232.5" stroke="#222" stroke-width="1"/>
<path d="M511.5 227.5V230.0" stroke="#222" stroke-width="1"/>
<path d="M517.5 227.5V230.0" stroke="#222" stroke-width="1"/>
<path d="M524.5 227.5V230.0" stroke="#222" stroke-width="1"/>
<path d="M531.5 227.5V230.0" stroke="#222" stroke-width="1"/>
<path d="M537.5 227.5V232.5" stroke="#222" stroke-width="1"/>
<path d="M544.5 227.5V230.0" stroke="#222" stroke-width="1"/>
<path d="M550.5 227.5V230.0" stroke="#222" stroke-width="1"/>
<path d="M557.5 227.5V230.0" stroke="#222" stroke-width="1"/>
<path d="M564.5 227.5V230.0" stroke="#222" stroke-width="1"/>
<path d="M570.5 227.5V232.5" stroke="#222" stroke-width="1"/>
<path d="M577.5 227.5V230.0" stroke="#222" stroke-width="1"/>
<path d="M584.5 227.5V230.0" stroke="#222" stroke-width="1"/>
<path d="M590.5 227.5V230.0" stroke="#222" stroke-width="1"/>
<path d="M597.5 227.5V230.0" stroke="#222" stroke-width="1"/>
<path d="M603.5 227.5V232.5" stroke="#222" stroke-width="1"/>
<path d="M610.5 227.5V230.0" stroke="#222" stroke-width="1"/>
<path d="M617.5 227.5V230.0" stroke="#222" stroke-width="1"/>
<path d="M623.5 227.5V230.0" stroke="#222" stroke-width="1"/>
<path d="M630.5 227.5V230.0" stroke="#222" stroke-width="1"/>
<path d="M637.5 227.5V232.5" stroke="#222" stroke-width="1"/>
<text x="421.8" y="230.7" text-anchor="end" font-family='"Liberation Serif", serif' font-size="12.5" fill="#222">0.0</text>
<text x="421.8" y="180.9" text-anchor="end" font-family='"Liberation Serif", serif' font-size="12.5" fill="#222">0.5</text>
<text x="421.8" y="131.2" text-anchor="end" font-family='"Liberation Serif", serif' font-size="12.5" fill="#222">1.0</text>
<text x="421.8" y="81.5" text-anchor="end" font-family='"Liberation Serif", serif' font-size="12.5" fill="#222">1.5</text>
<text x="421.8" y="31.7" text-anchor="end" font-family='"Liberation Serif", serif' font-size="12.5" fill="#222">2.0</text>
<text x="438.5" y="254.3" text-anchor="middle" font-family='"Liberation Serif", serif' font-size="12.5" fill="#222">0</text>
<text x="471.6" y="254.3" text-anchor="middle" font-family='"Liberation Serif", serif' font-size="12.5" fill="#222">1</text>
<text x="504.7" y="254.3" text-anchor="middle" font-family='"Liberation Serif", serif' font-size="12.5" fill="#222">2</text>
<text x="537.7" y="254.3" text-anchor="middle" font-family='"Liberation Serif", serif' font-size="12.5" fill="#222">3</text>
<text x="570.8" y="254.3" text-anchor="middle" font-family='"Liberation Serif", serif' font-size="12.5" fill="#222">4</text>
<text x="603.9" y="254.3" text-anchor="middle" font-family='"Liberation Serif", serif' font-size="12.5" fill="#222">5</text>
<text x="637.0" y="254.3" text-anchor="middle" font-family='"Liberation Serif", serif' font-size="12.5" fill="#222">6</text>
<text transform="translate(359.99,130.90) scale(1.18,1)" font-family="&quot;Liberation Serif&quot;, serif" font-size="13.5" fill="#222">Δ</text>
<text transform="translate(370.55,130.90) scale(0.85,1)" font-family="&quot;Liberation Serif&quot;, serif" font-size="13.5" fill="#222">Φ</text>
<text x="379.25" y="133.20" font-family="&quot;Liberation Serif&quot;, serif" font-size="9.3" fill="#222">0</text>
<text transform="translate(385.40,133.70) scale(0.85,1)" font-family="&quot;Liberation Serif&quot;, serif" font-size="18" fill="#222">/</text>
<text x="392.13" y="130.90" font-family="&quot;Liberation Serif&quot;, serif" font-size="13.5" font-style="italic" fill="#222">π</text>
<text transform="translate(529.93,273.80) scale(0.92,1)" font-family="&quot;Liberation Serif&quot;, serif" font-size="14" fill="#222">Ω</text>
<text x="539.82" y="275.80" font-family="&quot;Liberation Serif&quot;, serif" font-size="9.5" font-style="italic" fill="#222">x</text>
<text x="441.62" y="12.80" font-family="&quot;Liberation Sans&quot;, sans-serif" font-size="19" fill="#333">(</text>
<text x="447.73" y="12.80" font-family="&quot;Liberation Sans&quot;, sans-serif" font-size="15" fill="#333">b</text>
<text x="456.69" y="12.80" font-family="&quot;Liberation Sans&quot;, sans-serif" font-size="19" fill="#333">)</text>
<rect x="642.5" y="28.5" width="10" height="199.0" fill="none" stroke="#222" stroke-width="1"/>
<path d="M652.5 227.5H655.8" stroke="#222" stroke-width="1"/>
<path d="M652.5 217.5H654.5" stroke="#222" stroke-width="1"/>
<path d="M652.5 207.5H655.8" stroke="#222" stroke-width="1"/>
<path d="M652.5 197.5H654.5" stroke="#222" stroke-width="1"/>
<path d="M652.5 187.5H655.8" stroke="#222" stroke-width="1"/>
<path d="M652.5 177.5H654.5" stroke="#222" stroke-width="1"/>
<path d="M652.5 167.5H655.8" stroke="#222" stroke-width="1"/>
<path d="M652.5 157.5H654.5" stroke="#222" stroke-width="1"/>
<path d="M652.5 147.5H655.8" stroke="#222" stroke-width="1"/>
<path d="M652.5 137.5H654.5" stroke="#222" stroke-width="1"/>
<path d="M652.5 128.5H655.8" stroke="#222" stroke-width="1"/>
<path d="M652.5 118.5H654.5" stroke="#222" stroke-width="1"/>
<path d="M652.5 108.5H655.8" stroke="#222" stroke-width="1"/>
<path d="M652.5 98.5H654.5" stroke="#222" stroke-width="1"/>
<path d="M652.5 88.5H655.8" stroke="#222" stroke-width="1"/>
<path d="M652.5 78.5H654.5" stroke="#222" stroke-width="1"/>
<path d="M652.5 68.5H655.8" stroke="#222" stroke-width="1"/>
<path d="M652.5 58.5H654.5" stroke="#222" stroke-width="1"/>
<path d="M652.5 48.5H655.8" stroke="#222" stroke-width="1"/>
<path d="M652.5 38.5H654.5" stroke="#222" stroke-width="1"/>
<path d="M652.5 28.5H655.8" stroke="#222" stroke-width="1"/>
<text x="664.3" y="230.6" font-family='"Liberation Serif", serif' font-size="12.5" fill="#222">0.0</text>
<text x="664.3" y="210.7" font-family='"Liberation Serif", serif' font-size="12.5" fill="#222">0.1</text>
<text x="664.3" y="190.8" font-family='"Liberation Serif", serif' font-size="12.5" fill="#222">0.2</text>
<text x="664.3" y="170.9" font-family='"Liberation Serif", serif' font-size="12.5" fill="#222">0.3</text>
<text x="664.3" y="151.0" font-family='"Liberation Serif", serif' font-size="12.5" fill="#222">0.4</text>
<text x="664.3" y="131.1" font-family='"Liberation Serif", serif' font-size="12.5" fill="#222">0.5</text>
<text x="664.3" y="111.2" font-family='"Liberation Serif", serif' font-size="12.5" fill="#222">0.6</text>
<text x="664.3" y="91.3" font-family='"Liberation Serif", serif' font-size="12.5" fill="#222">0.7</text>
<text x="664.3" y="71.4" font-family='"Liberation Serif", serif' font-size="12.5" fill="#222">0.8</text>
<text x="664.3" y="51.5" font-family='"Liberation Serif", serif' font-size="12.5" fill="#222">0.9</text>
<text x="664.3" y="31.6" font-family='"Liberation Serif", serif' font-size="12.5" fill="#222">1.0</text>
<text transform="translate(641.14,21.70) scale(0.9,1)" font-family="&quot;Liberation Serif&quot;, serif" font-size="12" fill="#2a2a2a">Ω</text>
<text transform="translate(651.31,24.00) scale(1.1,1)" font-family="&quot;Liberation Serif&quot;, serif" font-size="8.5" font-style="italic" fill="#2a2a2a">L</text>
<path d="M524.75 34.7V227" stroke="#fff" stroke-width="1.4" stroke-dasharray="5 6.7" fill="none"/>
<path d="M79.5 296V494 M302.5 296V494 M79 493.5H303" stroke="#333" stroke-width="1" fill="none"/>
<path d="M74 489.5H79.5" stroke="#333" stroke-width="1"/>
<text x="72" y="493.2" text-anchor="end" font-family='"Liberation Sans", sans-serif' font-size="10.6" fill="#1a1a1a" stroke="#1a1a1a" stroke-width="0.3">0.0</text>
<path d="M74 438.5H79.5" stroke="#333" stroke-width="1"/>
<text x="72" y="442.9" text-anchor="end" font-family='"Liberation Sans", sans-serif' font-size="10.6" fill="#1a1a1a" stroke="#1a1a1a" stroke-width="0.3">0.2</text>
<path d="M74 388.5H79.5" stroke="#333" stroke-width="1"/>
<text x="72" y="392.7" text-anchor="end" font-family='"Liberation Sans", sans-serif' font-size="10.6" fill="#1a1a1a" stroke="#1a1a1a" stroke-width="0.3">0.4</text>
<path d="M74 338.5H79.5" stroke="#333" stroke-width="1"/>
<text x="72" y="342.4" text-anchor="end" font-family='"Liberation Sans", sans-serif' font-size="10.6" fill="#1a1a1a" stroke="#1a1a1a" stroke-width="0.3">0.6</text>
<path d="M302.5 489.5H308" stroke="#333" stroke-width="1"/>
<text x="310" y="493.2" font-family='"Liberation Sans", sans-serif' font-size="10.6" fill="#1a1a1a" stroke="#1a1a1a" stroke-width="0.3">0.0</text>
<path d="M302.5 437.5H308" stroke="#333" stroke-width="1"/>
<text x="310" y="441.7" font-family='"Liberation Sans", sans-serif' font-size="10.6" fill="#1a1a1a" stroke="#1a1a1a" stroke-width="0.3">0.2</text>
<path d="M302.5 386.5H308" stroke="#333" stroke-width="1"/>
<text x="310" y="390.2" font-family='"Liberation Sans", sans-serif' font-size="10.6" fill="#1a1a1a" stroke="#1a1a1a" stroke-width="0.3">0.4</text>
<path d="M302.5 334.5H308" stroke="#333" stroke-width="1"/>
<text x="310" y="338.7" font-family='"Liberation Sans", sans-serif' font-size="10.6" fill="#1a1a1a" stroke="#1a1a1a" stroke-width="0.3">0.6</text>
<path d="M84.5 494V499.5" stroke="#333" stroke-width="1"/>
<text x="84.9" y="510.8" text-anchor="middle" font-family='"Liberation Sans", sans-serif' font-size="10.6" fill="#1a1a1a" stroke="#1a1a1a" stroke-width="0.3">0.0</text>
<path d="M138.5 494V499.5" stroke="#333" stroke-width="1"/>
<text x="138.5" y="510.8" text-anchor="middle" font-family='"Liberation Sans", sans-serif' font-size="10.6" fill="#1a1a1a" stroke="#1a1a1a" stroke-width="0.3">0.5</text>
<path d="M191.5 494V499.5" stroke="#333" stroke-width="1"/>
<text x="192.1" y="510.8" text-anchor="middle" font-family='"Liberation Sans", sans-serif' font-size="10.6" fill="#1a1a1a" stroke="#1a1a1a" stroke-width="0.3">1.0</text>
<path d="M245.5 494V499.5" stroke="#333" stroke-width="1"/>
<text x="245.7" y="510.8" text-anchor="middle" font-family='"Liberation Sans", sans-serif' font-size="10.6" fill="#1a1a1a" stroke="#1a1a1a" stroke-width="0.3">1.5</text>
<path d="M298.5 494V499.5" stroke="#333" stroke-width="1"/>
<text x="299.3" y="510.8" text-anchor="middle" font-family='"Liberation Sans", sans-serif' font-size="10.6" fill="#1a1a1a" stroke="#1a1a1a" stroke-width="0.3">2.0</text>
<path d="M96.4 367.4V384.0 M93.8 367.4H99.0 M93.8 384.0H99.0" stroke="#111" stroke-width="1" fill="none"/>
<rect x="92.8" y="372.1" width="7.2" height="7.2" fill="#000"/>
<path d="M102.5 310.4V323.2 M99.9 310.4H105.1 M99.9 323.2H105.1" stroke="#111" stroke-width="1" fill="none"/>
<rect x="98.9" y="313.2" width="7.2" height="7.2" fill="#000"/>
<path d="M107.9 382.8V390.8 M105.3 382.8H110.5 M105.3 390.8H110.5" stroke="#111" stroke-width="1" fill="none"/>
<rect x="104.3" y="383.2" width="7.2" height="7.2" fill="#000"/>
<path d="M114.0 406.1V414.1 M111.4 406.1H116.6 M111.4 414.1H116.6" stroke="#111" stroke-width="1" fill="none"/>
<rect x="110.4" y="406.5" width="7.2" height="7.2" fill="#000"/>
<path d="M120.1 443.4V451.4 M117.5 443.4H122.7 M117.5 451.4H122.7" stroke="#111" stroke-width="1" fill="none"/>
<rect x="116.5" y="443.8" width="7.2" height="7.2" fill="#000"/>
<path d="M125.9 472.3V482.3 M123.3 472.3H128.5 M123.3 482.3H128.5" stroke="#111" stroke-width="1" fill="none"/>
<rect x="122.3" y="473.7" width="7.2" height="7.2" fill="#000"/>
<path d="M131.8 482.7V488.7 M129.2 482.7H134.4 M129.2 488.7H134.4" stroke="#111" stroke-width="1" fill="none"/>
<rect x="128.2" y="482.1" width="7.2" height="7.2" fill="#000"/>
<path d="M137.8 471.5V481.5 M135.2 471.5H140.4 M135.2 481.5H140.4" stroke="#111" stroke-width="1" fill="none"/>
<rect x="134.2" y="472.9" width="7.2" height="7.2" fill="#000"/>
<path d="M144.2 473.2V483.2 M141.6 473.2H146.8 M141.6 483.2H146.8" stroke="#111" stroke-width="1" fill="none"/>
<rect x="140.6" y="474.6" width="7.2" height="7.2" fill="#000"/>
<path d="M150.4 451.1V467.1 M147.8 451.1H153.0 M147.8 467.1H153.0" stroke="#111" stroke-width="1" fill="none"/>
<rect x="146.8" y="455.5" width="7.2" height="7.2" fill="#000"/>
<path d="M155.4 426.3V444.3 M152.8 426.3H158.0 M152.8 444.3H158.0" stroke="#111" stroke-width="1" fill="none"/>
<rect x="151.8" y="431.7" width="7.2" height="7.2" fill="#000"/>
<path d="M161.5 398.3V418.3 M158.9 398.3H164.1 M158.9 418.3H164.1" stroke="#111" stroke-width="1" fill="none"/>
<rect x="157.9" y="404.7" width="7.2" height="7.2" fill="#000"/>
<path d="M167.2 350.2V378.2 M164.6 350.2H169.8 M164.6 378.2H169.8" stroke="#111" stroke-width="1" fill="none"/>
<rect x="163.6" y="360.6" width="7.2" height="7.2" fill="#000"/>
<path d="M173.4 343.6V358.2 M170.8 343.6H176.0 M170.8 358.2H176.0" stroke="#111" stroke-width="1" fill="none"/>
<rect x="169.8" y="347.3" width="7.2" height="7.2" fill="#000"/>
<path d="M179.5 294.5V357.4 M176.9 357.4H182.1" stroke="#111" stroke-width="1" fill="none"/>
<rect x="175.9" y="316.8" width="7.2" height="7.2" fill="#000"/>
<path d="M185.4 294.5V316.5 M182.8 316.5H188.0" stroke="#111" stroke-width="1" fill="none"/>
<rect x="181.8" y="297.9" width="7.2" height="7.2" fill="#000"/>
<path d="M191.4 316.6V341.2 M188.8 316.6H194.0 M188.8 341.2H194.0" stroke="#111" stroke-width="1" fill="none"/>
<rect x="187.8" y="325.3" width="7.2" height="7.2" fill="#000"/>
<path d="M196.9 314.2V338.2 M194.3 314.2H199.5 M194.3 338.2H199.5" stroke="#111" stroke-width="1" fill="none"/>
<rect x="193.3" y="322.6" width="7.2" height="7.2" fill="#000"/>
<path d="M215.0 301.0V319.0 M212.4 301.0H217.6 M212.4 319.0H217.6" stroke="#111" stroke-width="1" fill="none"/>
<rect x="211.4" y="306.4" width="7.2" height="7.2" fill="#000"/>
<path d="M221.1 348.4V363.4 M218.5 348.4H223.7 M218.5 363.4H223.7" stroke="#111" stroke-width="1" fill="none"/>
<rect x="217.5" y="352.3" width="7.2" height="7.2" fill="#000"/>
<path d="M226.8 402.6V417.6 M224.2 402.6H229.4 M224.2 417.6H229.4" stroke="#111" stroke-width="1" fill="none"/>
<rect x="223.2" y="406.5" width="7.2" height="7.2" fill="#000"/>
<path d="M233.0 451.8V463.8 M230.4 451.8H235.6 M230.4 463.8H235.6" stroke="#111" stroke-width="1" fill="none"/>
<rect x="229.4" y="454.2" width="7.2" height="7.2" fill="#000"/>
<path d="M238.5 430.1V446.1 M235.9 430.1H241.1 M235.9 446.1H241.1" stroke="#111" stroke-width="1" fill="none"/>
<rect x="234.9" y="434.5" width="7.2" height="7.2" fill="#000"/>
<path d="M244.5 420.4V438.4 M241.9 420.4H247.1 M241.9 438.4H247.1" stroke="#111" stroke-width="1" fill="none"/>
<rect x="240.9" y="425.8" width="7.2" height="7.2" fill="#000"/>
<path d="M250.4 398.3V419.1 M247.8 398.3H253.0 M247.8 419.1H253.0" stroke="#111" stroke-width="1" fill="none"/>
<rect x="246.8" y="405.1" width="7.2" height="7.2" fill="#000"/>
<path d="M256.3 391.0V408.4 M253.7 391.0H258.9 M253.7 408.4H258.9" stroke="#111" stroke-width="1" fill="none"/>
<rect x="252.7" y="396.1" width="7.2" height="7.2" fill="#000"/>
<path d="M262.1 365.8V385.2 M259.5 365.8H264.7 M259.5 385.2H264.7" stroke="#111" stroke-width="1" fill="none"/>
<rect x="258.5" y="371.9" width="7.2" height="7.2" fill="#000"/>
<path d="M268.2 324.2V348.2 M265.6 324.2H270.8 M265.6 348.2H270.8" stroke="#111" stroke-width="1" fill="none"/>
<rect x="264.6" y="332.6" width="7.2" height="7.2" fill="#000"/>
<path d="M274.2 356.9V378.9 M271.6 356.9H276.8 M271.6 378.9H276.8" stroke="#111" stroke-width="1" fill="none"/>
<rect x="270.6" y="364.3" width="7.2" height="7.2" fill="#000"/>
<path d="M279.9 345.5V378.5 M277.3 345.5H282.5 M277.3 378.5H282.5" stroke="#111" stroke-width="1" fill="none"/>
<rect x="276.3" y="358.4" width="7.2" height="7.2" fill="#000"/>
<path d="M285.9 311.0V347.0 M283.3 311.0H288.5 M283.3 347.0H288.5" stroke="#111" stroke-width="1" fill="none"/>
<rect x="282.3" y="325.4" width="7.2" height="7.2" fill="#000"/>
<path d="M292.0 305.1V330.5 M289.4 305.1H294.6 M289.4 330.5H294.6" stroke="#111" stroke-width="1" fill="none"/>
<rect x="288.4" y="314.2" width="7.2" height="7.2" fill="#000"/>
<path d="M298.0 307.3V317.3 M295.4 307.3H300.6 M295.4 317.3H300.6" stroke="#111" stroke-width="1" fill="none"/>
<rect x="294.4" y="308.7" width="7.2" height="7.2" fill="#000"/>
<polyline points="84.50,316.48 89.22,321.62 93.93,329.09 98.54,339.39 102.30,351.50 105.94,364.37 109.69,379.31 113.44,393.98 116.23,404.02 118.80,414.07 122.34,427.97 125.77,443.94 129.31,459.90 132.85,473.81 135.42,481.02 138.10,481.79 140.78,478.44 144.21,470.46 147.86,460.68 151.39,449.35 154.82,435.18 158.36,414.32 160.61,398.88 162.86,383.43 165.11,370.55 168.44,357.93 171.76,347.89 175.08,337.85 178.41,329.09 181.73,322.14 186.23,317.76 190.63,315.70 196.74,314.16 202.21,317.50 207.46,324.72 212.60,335.27 217.86,349.44 223.22,371.84 228.58,398.36 233.83,423.34 239.08,448.31 242.73,465.31 244.76,470.98 246.26,467.11 248.09,461.45 249.91,456.04 251.84,447.80 253.23,440.07 255.59,427.20 258.91,414.07 261.70,399.39 263.63,386.51 265.45,373.38 268.24,360.51 271.03,347.38 272.85,339.91 274.35,334.24 276.07,328.84 278.96,323.17 281.75,319.05 284.54,316.73 288.18,314.93 291.93,314.41 295.68,315.70 297.83,317.25" fill="none" stroke="#5555dd" stroke-width="0.9" stroke-linejoin="round"/>
<text x="122.99" y="336.60" font-family="&quot;Liberation Sans&quot;, sans-serif" font-size="24.3" fill="#111" stroke="#111" stroke-width="0.5">(</text>
<text x="130.37" y="336.60" font-family="&quot;Liberation Sans&quot;, sans-serif" font-size="24.3" fill="#111" stroke="#111" stroke-width="0.5">c</text>
<text x="143.66" y="336.60" font-family="&quot;Liberation Sans&quot;, sans-serif" font-size="24.3" fill="#111" stroke="#111" stroke-width="0.5">)</text>
<text transform="translate(54.5,386.5) rotate(-90)" font-family='"Liberation Sans", sans-serif' font-size="22" fill="#111" stroke="#111" stroke-width="0.4">&lt;σ<tspan font-size="15.5" dy="4">y</tspan><tspan dy="-4">&gt;</tspan></text>
<text transform="translate(330,350) rotate(90)" font-family='"Liberation Sans", sans-serif' font-size="13.8" fill="#1a1a1a" stroke="#1a1a1a" stroke-width="0.4">Ampl (arb. un.)</text>
<text x="188.56" y="530.70" font-family="&quot;Liberation Serif&quot;, serif" font-size="22.1" fill="#111">Δ</text>
<text x="202.13" y="530.70" font-family="&quot;Liberation Serif&quot;, serif" font-size="22.1" fill="#111">Φ</text>
<text x="218.28" y="535.70" font-family="&quot;Liberation Sans&quot;, sans-serif" font-size="16" fill="#111">0</text>
<text x="226.90" y="530.70" font-family="&quot;Liberation Serif&quot;, serif" font-size="22.1" fill="#111">/</text>
<text x="233.30" y="530.70" font-family="&quot;Liberation Serif&quot;, serif" font-size="22.1" fill="#111">π</text>
<path d="M416.5 295.6V498 M639.5 295.6V498 M416 497.5H640" stroke="#333" stroke-width="1" fill="none"/>
<path d="M412 493.5H416.5" stroke="#333" stroke-width="1"/>
<text x="409.5" y="497.5" text-anchor="end" font-family='"Liberation Sans", sans-serif' font-size="10.6" fill="#1a1a1a" stroke="#1a1a1a" stroke-width="0.3">0.0</text>
<path d="M412 460.5H416.5" stroke="#333" stroke-width="1"/>
<text x="409.5" y="464.0" text-anchor="end" font-family='"Liberation Sans", sans-serif' font-size="10.6" fill="#1a1a1a" stroke="#1a1a1a" stroke-width="0.3">0.1</text>
<path d="M412 426.5H416.5" stroke="#333" stroke-width="1"/>
<text x="409.5" y="430.5" text-anchor="end" font-family='"Liberation Sans", sans-serif' font-size="10.6" fill="#1a1a1a" stroke="#1a1a1a" stroke-width="0.3">0.2</text>
<path d="M412 393.5H416.5" stroke="#333" stroke-width="1"/>
<text x="409.5" y="397.0" text-anchor="end" font-family='"Liberation Sans", sans-serif' font-size="10.6" fill="#1a1a1a" stroke="#1a1a1a" stroke-width="0.3">0.3</text>
<path d="M412 359.5H416.5" stroke="#333" stroke-width="1"/>
<text x="409.5" y="363.5" text-anchor="end" font-family='"Liberation Sans", sans-serif' font-size="10.6" fill="#1a1a1a" stroke="#1a1a1a" stroke-width="0.3">0.4</text>
<path d="M412 326.5H416.5" stroke="#333" stroke-width="1"/>
<text x="409.5" y="330.0" text-anchor="end" font-family='"Liberation Sans", sans-serif' font-size="10.6" fill="#1a1a1a" stroke="#1a1a1a" stroke-width="0.3">0.5</text>
<path d="M639.5 493.5H644.5" stroke="#333" stroke-width="1"/>
<text x="646.8" y="497.0" font-family='"Liberation Sans", sans-serif' font-size="10.6" fill="#1a1a1a" stroke="#1a1a1a" stroke-width="0.3">0</text>
<path d="M639.5 450.5H644.5" stroke="#333" stroke-width="1"/>
<text x="646.8" y="454.1" font-family='"Liberation Sans", sans-serif' font-size="10.6" fill="#1a1a1a" stroke="#1a1a1a" stroke-width="0.3">5</text>
<path d="M639.5 407.5H644.5" stroke="#333" stroke-width="1"/>
<text x="646.8" y="411.3" font-family='"Liberation Sans", sans-serif' font-size="10.6" fill="#1a1a1a" stroke="#1a1a1a" stroke-width="0.3">10</text>
<path d="M639.5 364.5H644.5" stroke="#333" stroke-width="1"/>
<text x="646.8" y="368.4" font-family='"Liberation Sans", sans-serif' font-size="10.6" fill="#1a1a1a" stroke="#1a1a1a" stroke-width="0.3">15</text>
<path d="M639.5 321.5H644.5" stroke="#333" stroke-width="1"/>
<text x="646.8" y="325.6" font-family='"Liberation Sans", sans-serif' font-size="10.6" fill="#1a1a1a" stroke="#1a1a1a" stroke-width="0.3">20</text>
<path d="M421.5 498V503" stroke="#333" stroke-width="1"/>
<text x="421.5" y="514.8" text-anchor="middle" font-family='"Liberation Sans", sans-serif' font-size="10.6" fill="#1a1a1a" stroke="#1a1a1a" stroke-width="0.3">0.0</text>
<path d="M474.5 498V503" stroke="#333" stroke-width="1"/>
<text x="475.1" y="514.8" text-anchor="middle" font-family='"Liberation Sans", sans-serif' font-size="10.6" fill="#1a1a1a" stroke="#1a1a1a" stroke-width="0.3">0.5</text>
<path d="M528.5 498V503" stroke="#333" stroke-width="1"/>
<text x="528.7" y="514.8" text-anchor="middle" font-family='"Liberation Sans", sans-serif' font-size="10.6" fill="#1a1a1a" stroke="#1a1a1a" stroke-width="0.3">1.0</text>
<path d="M581.5 498V503" stroke="#333" stroke-width="1"/>
<text x="582.4" y="514.8" text-anchor="middle" font-family='"Liberation Sans", sans-serif' font-size="10.6" fill="#1a1a1a" stroke="#1a1a1a" stroke-width="0.3">1.5</text>
<path d="M635.5 498V503" stroke="#333" stroke-width="1"/>
<text x="636.0" y="514.8" text-anchor="middle" font-family='"Liberation Sans", sans-serif' font-size="10.6" fill="#1a1a1a" stroke="#1a1a1a" stroke-width="0.3">2.0</text>
<path d="M420 384.3H639" stroke="#d03030" stroke-width="1" stroke-dasharray="4 4" fill="none"/>
<circle cx="421.1" cy="451.3" r="2.7" fill="#000"/>
<circle cx="427.1" cy="475.2" r="2.7" fill="#000"/>
<circle cx="433.1" cy="493.6" r="2.7" fill="#000"/>
<circle cx="439.2" cy="470.3" r="2.7" fill="#000"/>
<circle cx="444.5" cy="450.2" r="2.7" fill="#000"/>
<circle cx="450.6" cy="431.1" r="2.7" fill="#000"/>
<circle cx="456.7" cy="411.7" r="2.7" fill="#000"/>
<circle cx="462.8" cy="398.7" r="2.7" fill="#000"/>
<circle cx="468.8" cy="388.3" r="2.7" fill="#000"/>
<circle cx="474.3" cy="379.6" r="2.7" fill="#000"/>
<circle cx="480.1" cy="390.2" r="2.7" fill="#000"/>
<circle cx="486.5" cy="404.0" r="2.7" fill="#000"/>
<circle cx="492.7" cy="417.0" r="2.7" fill="#000"/>
<circle cx="498.8" cy="435.4" r="2.7" fill="#000"/>
<circle cx="504.6" cy="456.0" r="2.7" fill="#000"/>
<circle cx="510.3" cy="476.6" r="2.7" fill="#000"/>
<circle cx="516.2" cy="492.4" r="2.7" fill="#000"/>
<circle cx="522.3" cy="468.3" r="2.7" fill="#000"/>
<circle cx="528.3" cy="447.3" r="2.7" fill="#000"/>
<circle cx="534.3" cy="427.2" r="2.7" fill="#000"/>
<circle cx="540.3" cy="408.2" r="2.7" fill="#000"/>
<circle cx="546.3" cy="390.2" r="2.7" fill="#000"/>
<circle cx="551.8" cy="371.2" r="2.7" fill="#000"/>
<circle cx="557.8" cy="351.1" r="2.7" fill="#000"/>
<circle cx="563.8" cy="334.1" r="2.7" fill="#000"/>
<circle cx="569.8" cy="316.1" r="2.7" fill="#000"/>
<circle cx="575.8" cy="300.5" r="2.7" fill="#000"/>
<circle cx="581.4" cy="295.0" r="2.7" fill="#000"/>
<circle cx="587.4" cy="300.0" r="2.7" fill="#000"/>
<circle cx="593.4" cy="307.6" r="2.7" fill="#000"/>
<circle cx="599.4" cy="325.1" r="2.7" fill="#000"/>
<circle cx="605.4" cy="344.1" r="2.7" fill="#000"/>
<circle cx="611.4" cy="363.1" r="2.7" fill="#000"/>
<circle cx="617.4" cy="384.2" r="2.7" fill="#000"/>
<circle cx="623.4" cy="405.7" r="2.7" fill="#000"/>
<circle cx="629.4" cy="429.2" r="2.7" fill="#000"/>
<circle cx="635.4" cy="451.3" r="2.7" fill="#000"/>
<polyline points="421.10,456.43 427.11,477.13 431.93,492.50 439.23,471.12 445.23,449.41 451.24,430.04 457.35,411.00 463.36,397.64 469.36,387.29 474.73,383.28 479.87,385.95 484.81,393.97 489.63,405.99 494.46,418.02 499.29,432.71 504.11,447.07 508.94,464.11 513.76,478.47 517.41,492.50 521.06,478.47 525.88,461.77 531.57,440.06 539.08,408.33 546.15,385.95 552.91,363.91 559.88,343.20 564.92,329.51 570.18,315.81 575.33,303.79 580.90,296.44 586.05,298.11 592.91,309.13 599.89,326.17 606.75,345.20 613.61,365.58 620.59,391.63 629.16,427.37 635.60,456.76" fill="none" stroke="#3333cc" stroke-width="1.1" stroke-linejoin="round"/>
<text x="440.06" y="318.60" font-family="&quot;Liberation Sans&quot;, sans-serif" font-size="24.8" fill="#111" stroke="#111" stroke-width="0.3">(</text>
<text x="447.76" y="318.60" font-family="&quot;Liberation Sans&quot;, sans-serif" font-size="24.8" fill="#111" stroke="#111" stroke-width="0.3">d</text>
<text x="461.95" y="318.60" font-family="&quot;Liberation Sans&quot;, sans-serif" font-size="24.8" fill="#111" stroke="#111" stroke-width="0.3">)</text>
<text transform="translate(388,405) rotate(-90)" font-family='"Liberation Sans", sans-serif' font-size="18" fill="#111" stroke="#111" stroke-width="0.35">Ω<tspan font-size="12" dy="3">L</tspan></text>
<text transform="translate(668.5,368) rotate(90)" font-family='"Liberation Sans", sans-serif' font-size="14.8" fill="#111" stroke="#111" stroke-width="0.35">f<tspan font-size="10" dy="3">L</tspan><tspan dy="-3">(kHz)</tspan></text>
<text x="534.59" y="531.60" font-family="&quot;Liberation Serif&quot;, serif" font-size="18.6" fill="#111">Δ</text>
<text x="546.34" y="531.60" font-family="&quot;Liberation Serif&quot;, serif" font-size="18.6" fill="#111">Φ</text>
<text x="559.95" y="536.30" font-family="&quot;Liberation Sans&quot;, sans-serif" font-size="11.4" fill="#111">0</text>
<text x="566.80" y="531.60" font-family="&quot;Liberation Serif&quot;, serif" font-size="18.6" fill="#111">/</text>
<text x="572.65" y="531.60" font-family="&quot;Liberation Serif&quot;, serif" font-size="18.6" fill="#111">π</text>
</svg>
<script>
function cmap(v){v=v<0?0:(v>1?1:v);var b=Math.sin(2*Math.PI*v);if(b<0)b=0;return [Math.sqrt(v)*255,v*v*v*255,b*255];}
function cr(t,x){/* catmull-rom on uniform knots 0..6 */var n=t.length-1,h=6/n,u=x/h;if(u<=0)return t[0];if(u>=n)return t[n];var i=Math.floor(u),f=u-i;var p0=t[Math.max(i-1,0)],p1=t[i],p2=t[Math.min(i+1,n)],p3=t[Math.min(i+2,n)];return 0.5*((2*p1)+(-p0+p2)*f+(2*p0-5*p1+4*p2-p3)*f*f+(-p0+3*p1-3*p2+p3)*f*f*f);}
function li(xs,ys,x){if(x<=xs[0])return ys[0];for(var i=1;i<xs.length;i++){if(x<=xs[i]){var f=(x-xs[i-1])/(xs[i]-xs[i-1]);return ys[i-1]+f*(ys[i]-ys[i-1]);}}return ys[ys.length-1];}
function sig(t){return 1/(1+Math.exp(-t));}
var X0=78.7,SX=33.05,YB=227.5,SY=99.5;
/* ---------- panel (b) ---------- */
var PB=[0.22,0.31,0.43,0.55,0.65,0.72,0.755,0.715,0.62,0.51,0.38,0.23,0.075,-0.09,-0.24,-0.37,-0.47,-0.54,-0.59,-0.62,-0.63,-0.58,-0.49,-0.39,-0.3];
var QB=[0.12,-0.025,-0.17,-0.31,-0.45,-0.6,-0.79,-0.975,-0.975,-0.82,-0.66,-0.5,-0.35,-0.23,-0.09,0.05,0.18,0.31,0.44,0.56,0.64,0.68,0.65,0.57,0.47];
var ZB=[0.15,0.15,0.10,0.07,0.04,0.02,0.00,-0.01,-0.04,-0.07,-0.10,-0.13,-0.15,-0.16,-0.12,-0.09,-0.06,-0.045,-0.03,-0.015,-0.005,0.005,0.015,0.025,0.04];
var KPt=[0.75,0.72,0.7,0.67,0.64,0.63,0.63,0.64,0.66,0.7,0.76,0.85,0.94,0.97,0.9,0.8,0.7,0.66,0.64,0.63,0.63,0.64,0.66,0.68,0.7];
var KQt=[0.95,0.95,0.85,0.75,0.66,0.61,0.58,0.58,0.58,0.6,0.65,0.74,0.84,0.92,0.96,0.96,0.9,0.8,0.7,0.65,0.63,0.63,0.65,0.68,0.7];
var HH=0.685;
function vb(x,y){var s=Math.sin(Math.PI*y),P=cr(PB,x),Q=cr(QB,x),Z=cr(ZB,x);
  var Ph=Z+(P-Z)*cr(KPt,x),Qh=Z+(Q-Z)*cr(KQt,x),h=HH;
  var E1=(P+Q)/2,Eh=(Ph+Qh)/2,O1=(P-Q)/2,Oh=(Ph-Qh)/2;
  var a4=((Eh-Z)-h*h*(E1-Z))/(h*h*h*h-h*h),a2=(E1-Z)-a4;
  var a3=(Oh-h*O1)/(h*h*h-h),a1=O1-a3;
  var s2=s*s;return Math.abs(Z+a1*s+a2*s2+a3*s2*s+a4*s2*s2);}
/* ---------- panel (a) ---------- */
var E=[0.49,0.487,0.475,0.452,0.422,0.392,0.368,0.352,0.342,0.335,0.328,0.322,0.316,0.308,0.3,0.28,0.25,0.2,0.16,0.145,0.14,0.145,0.155,0.175,0.2];
var WL=[0.26,0.27,0.29,0.32,0.33,0.325,0.31,0.29,0.28,0.275,0.27,0.265,0.26,0.255,0.25,0.23,0.2,0.17,0.15,0.14,0.14,0.145,0.155,0.17,0.19];
var WU=[0.26,0.265,0.27,0.27,0.27,0.27,0.27,0.268,0.268,0.268,0.267,0.265,0.26,0.255,0.25,0.23,0.2,0.17,0.15,0.14,0.14,0.145,0.155,0.17,0.19];
var CLc=[0.125,0.125,0.125,0.125,0.125,0.125,0.11,0.02,0.01,0.01,0.01,0.01,0.012,0.018,0.028,0.035,0.04,0.04,0.04,0.04,0.08,0.11,0.13,0.15,0.17];
var CLe=[0.125,0.125,0.125,0.125,0.125,0.125,0.15,0.17,0.18,0.18,0.18,0.18,0.175,0.165,0.155,0.145,0.135,0.13,0.13,0.13,0.132,0.14,0.152,0.168,0.185];
var CUc=[0.12,0.12,0.12,0.12,0.12,0.12,0.12,0.03,0.015,0.02,0.025,0.028,0.03,0.032,0.036,0.04,0.043,0.045,0.045,0.04,0.07,0.11,0.13,0.15,0.17];
var CUe=[0.12,0.12,0.12,0.12,0.12,0.12,0.12,0.15,0.19,0.21,0.22,0.22,0.21,0.19,0.17,0.155,0.14,0.13,0.13,0.13,0.132,0.14,0.152,0.168,0.185];
var XS=1.83,YS=1.493;
function hwEnd(x,x0,hw0,x1){/* warm half-width band near a=0.5 beyond x0 */ if(x<=x0)return 1; var u=(x-x0)/(x1-x0); if(u>=1)return 0; return hw0*Math.pow(1-u,0.38)*(1-0.3*u);}
function wedgeU(x){var d=Math.max(0,x-XS),w1=0.235*Math.pow(d,0.6),w2=0.25*d,w=w1*w2/Math.pow(Math.pow(w1,4)+Math.pow(w2,4),0.25); if(x>3.07){w=0.5-hwEnd(x,3.07,0.5-0.235*Math.pow(3.07-XS,0.6),4.08);} return w;}
function wedgeL(x){var w=0.27*Math.sqrt(Math.max(0,x-1.48)); if(x>3.06){w=0.5-hwEnd(x,3.06,0.5-0.27*Math.sqrt(1.58),4.0);} return w;}
function inU(x,a){
  if((Math.pow(x/1.27,4)+Math.pow(a/0.305,6))<1) return 1;
  if(x>1.0 && x<=XS){var tg=0.23*(XS-x); if(a<tg) return 1;}
  return 0;
}
function inL(x,a){
  var xr=0.47+0.13*Math.exp(-Math.pow((a-0.17)/0.085,2));
  if((Math.pow(x/xr,6)+Math.pow(a/0.295,6))<1) return 1;
  return 0;
}
function mWedge(up,x,a){
  if(up){ if(x<=XS) return 0; var w=0.012+0.05*Math.min(1,(x-XS)/1.3); return sig((wedgeU(x)-a)/w);}
  if(x<=1.3) return 0; var ab=x>1.48?wedgeL(x):-(1.48-x)*0.8; var w=0.015+0.05*Math.min(1,Math.max(0,x-1.48)/1.3); return sig((ab-a)/w);
}
var DOTS=[[0.457,1.30,9.5,3.9],[0.457,1.69,9.5,3.9],[4.69,0.51,3.4,4.5],[4.90,1.505,3.6,4.2]];
function S3(t){return t*t*(3-2*t);}
function blur(M,W,H,s){var r=Math.ceil(3*s),k=[],ks=0;for(var i=-r;i<=r;i++){var g=Math.exp(-i*i/(2*s*s));k.push(g);ks+=g;}
  for(var i=0;i<k.length;i++)k[i]/=ks;var T=new Float32Array(W*H),O=new Float32Array(W*H);
  function cl(v,n){if(v<0)return -v-1;if(v>=n)return 2*n-v-1;return v;}
  for(var j=0;j<H;j++)for(var i=0;i<W;i++){var acc=0;for(var q=-r;q<=r;q++){acc+=k[q+r]*M[j*W+cl(i+q,W)];}T[j*W+i]=acc;}
  for(var j=0;j<H;j++)for(var i=0;i<W;i++){var acc=0;for(var q=-r;q<=r;q++){acc+=k[q+r]*T[cl(j+q,H)*W+i];}O[j*W+i]=acc;}
  return O;}
function drawA(id){
  var c=document.getElementById(id),ctx=c.getContext('2d'),W=c.width,H=c.height,img=ctx.createImageData(W,H),D=img.data;
  var M=new Float32Array(W*H),WA=new Float32Array(W*H),CO=new Float32Array(W*H),MW=new Float32Array(W*H);
  for(var j=0;j<H;j++){var py=29+j+0.5,y=(YB-py)/SY;
    for(var i=0;i<W;i++){var px=79+i+0.5,x=(px-X0)/SX;
      var up=y>=1,a=Math.abs(y-(up?1.5:0.5)),e=cr(E,x),tr=Math.min(a/0.5,1),t=Math.exp(-Math.pow((1-tr)/0.4,2)),warm,core,edge,sg=up?0.17:0.17;
      if(up){warm=cr(WU,x);core=cr(CUc,x);edge=cr(CUe,x);}
      else{warm=cr(WL,x);core=cr(CLc,x);edge=cr(CLe,x);}
      var cov=0;for(var sy=-1;sy<=1;sy++)for(var sx=-1;sx<=1;sx++){var xx=x+sx/(3*SX),yy=y+sy/(3*SY),uu=yy>=1,aa=Math.abs(yy-(uu?1.5:0.5));cov+=uu?inU(xx,aa):inL(xx,aa);}M[j*W+i]=cov/9;
      warm=warm+(e-warm)*t;
      var co=edge-(edge-core)*Math.exp(-(a/sg)*(a/sg))+0.05*t*Math.pow(Math.max(0,(x-4.6)/1.4),2),mw=mWedge(up,x,a);
      if(a>0.3){var ss=S3((a-0.3)/0.2);var mU=mWedge(true,x,0.5),mL=mWedge(false,x,0.5),ms=(mU+mL)/2;
        var cU=cr(CUe,x)-(cr(CUe,x)-cr(CUc,x))*Math.exp(-(0.5/sg)*(0.5/sg)),cL=cr(CLe,x)-(cr(CLe,x)-cr(CLc,x))*Math.exp(-(0.5/sg)*(0.5/sg)),cs=(cU+cL)/2;
        mw+=(ms-(up?mU:mL))*ss; co+=(cs-(up?cU:cL))*ss;}
      WA[j*W+i]=warm;CO[j*W+i]=co;MW[j*W+i]=mw;
    }}
  var B=blur(M,W,H,BLUR);
  for(var j=0;j<H;j++){var py=29+j+0.5,y=(YB-py)/SY;
    for(var i=0;i<W;i++){var px=79+i+0.5,x=(px-X0)/SX,n=j*W+i;
      var dxs=(x-XS)*SX,dys=(y-YS)*SY,rr=Math.sqrt(dxs*dxs+dys*dys),w=Math.min(1,rr/14);
      var ml=w*B[n]+(1-w)*M[n];var m=1-(1-ml)*(1-MW[n]);
      var v=WA[n]*(1-m)+CO[n]*m;
      for(var k=0;k<DOTS.length;k++){var d=DOTS[k];var dx=(x-d[0])*SX/d[2],dy=(y-d[1])*SY/d[3];var r2=dx*dx+dy*dy;v*=r2/(1+r2);}
      var col=cmap(v/0.5);D[4*n]=col[0];D[4*n+1]=col[1];D[4*n+2]=col[2];D[4*n+3]=255;}}
  ctx.putImageData(img,0,0);
}
var BLUR=4.8;
function draw(id,fn,scale,left){
  var c=document.getElementById(id),ctx=c.getContext('2d'),W=c.width,H=c.height,img=ctx.createImageData(W,H),D=img.data;
  for(var j=0;j<H;j++){var py=29+j+0.5,y=(YB-py)/SY;
    for(var i=0;i<W;i++){var px=79+i+0.5,x=(px-X0)/SX;var col=cmap(fn(x,y)/scale);var k=4*(j*W+i);D[k]=col[0];D[k+1]=col[1];D[k+2]=col[2];D[k+3]=255;}}
  ctx.putImageData(img,0,0);
}
function bar(id){var c=document.getElementById(id),ctx=c.getContext('2d'),W=c.width,H=c.height,img=ctx.createImageData(W,H),D=img.data;
  for(var j=0;j<H;j++){var col=cmap(1-(j+0.5)/H);for(var i=0;i<W;i++){var k=4*(j*W+i);D[k]=col[0];D[k+1]=col[1];D[k+2]=col[2];D[k+3]=255;}}ctx.putImageData(img,0,0);}
drawA('ha');draw('hb',vb,1.0);bar('ca');bar('cb');

</script>
</body></html>
